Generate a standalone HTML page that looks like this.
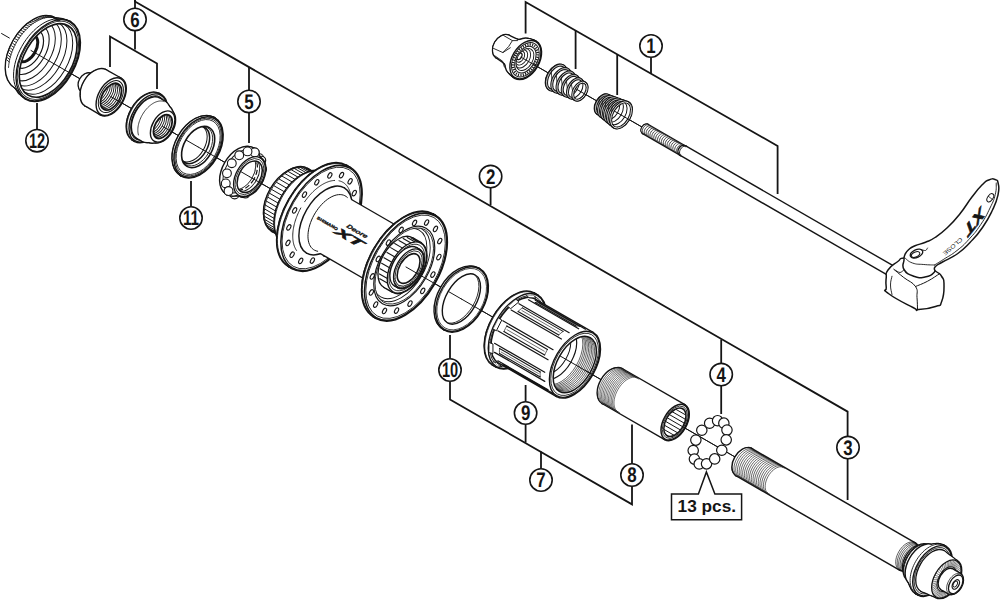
<!DOCTYPE html>
<html><head><meta charset="utf-8"><style>
html,body{margin:0;padding:0;background:#fff;}
svg{display:block;font-family:"Liberation Sans",sans-serif;}
</style></head><body>
<svg width="1000" height="600" viewBox="0 0 1000 600">
<rect width="1000" height="600" fill="#fff"/>
<line x1="1.56" y1="33.50" x2="9.35" y2="38.00" stroke="#151515" stroke-width="1.0" stroke-linecap="round" />
<line x1="31.00" y1="50.50" x2="948.99" y2="580.50" stroke="#151515" stroke-width="1.0" stroke-linecap="round" />
<ellipse cx="33.17" cy="51.75" rx="22.20" ry="37.00" transform="rotate(30.0 33.17 51.75)" fill="#151515" stroke="#151515" stroke-width="2.8" />
<path d="M14.67 83.79 L14.59 86.52 L53.99 18.28 L51.67 19.71 Z" stroke="#151515" stroke-width="2.8" fill="#151515" stroke-linejoin="round" stroke-linecap="round" />
<ellipse cx="34.29" cy="52.40" rx="23.64" ry="39.40" transform="rotate(30.0 34.29 52.40)" fill="#151515" stroke="#151515" stroke-width="2.8" />
<path d="M14.59 86.52 L15.76 87.89 L55.76 18.61 L53.99 18.28 Z" stroke="#151515" stroke-width="2.8" fill="#151515" stroke-linejoin="round" stroke-linecap="round" />
<ellipse cx="35.76" cy="53.25" rx="24.00" ry="40.00" transform="rotate(30.0 35.76 53.25)" fill="#151515" stroke="#151515" stroke-width="2.8" />
<path d="M15.76 87.89 L23.16 96.09 L66.56 20.91 L55.76 18.61 Z" stroke="#151515" stroke-width="2.8" fill="#151515" stroke-linejoin="round" stroke-linecap="round" />
<ellipse cx="44.86" cy="58.50" rx="26.04" ry="43.40" transform="rotate(30.0 44.86 58.50)" fill="#151515" stroke="#151515" stroke-width="2.8" />
<path d="M23.16 96.09 L25.79 98.53 L69.99 21.97 L66.56 20.91 Z" stroke="#151515" stroke-width="2.8" fill="#151515" stroke-linejoin="round" stroke-linecap="round" />
<ellipse cx="47.89" cy="60.25" rx="26.52" ry="44.20" transform="rotate(30.0 47.89 60.25)" fill="#151515" stroke="#151515" stroke-width="2.8" />
<ellipse cx="33.17" cy="51.75" rx="22.20" ry="37.00" transform="rotate(30.0 33.17 51.75)" fill="#fff" stroke="none" stroke-width="0" />
<path d="M14.67 83.79 L14.59 86.52 L53.99 18.28 L51.67 19.71 Z" stroke="none" stroke-width="0" fill="#fff" stroke-linejoin="round" stroke-linecap="round" />
<ellipse cx="34.29" cy="52.40" rx="23.64" ry="39.40" transform="rotate(30.0 34.29 52.40)" fill="#fff" stroke="none" stroke-width="0" />
<path d="M14.59 86.52 L15.76 87.89 L55.76 18.61 L53.99 18.28 Z" stroke="none" stroke-width="0" fill="#fff" stroke-linejoin="round" stroke-linecap="round" />
<ellipse cx="35.76" cy="53.25" rx="24.00" ry="40.00" transform="rotate(30.0 35.76 53.25)" fill="#fff" stroke="none" stroke-width="0" />
<path d="M15.76 87.89 L23.16 96.09 L66.56 20.91 L55.76 18.61 Z" stroke="none" stroke-width="0" fill="#fff" stroke-linejoin="round" stroke-linecap="round" />
<ellipse cx="44.86" cy="58.50" rx="26.04" ry="43.40" transform="rotate(30.0 44.86 58.50)" fill="#fff" stroke="none" stroke-width="0" />
<path d="M23.16 96.09 L25.79 98.53 L69.99 21.97 L66.56 20.91 Z" stroke="none" stroke-width="0" fill="#fff" stroke-linejoin="round" stroke-linecap="round" />
<ellipse cx="47.89" cy="60.25" rx="26.52" ry="44.20" transform="rotate(30.0 47.89 60.25)" fill="#fff" stroke="none" stroke-width="0" />
<path d="M72.96 27.63 L71.57 25.45 L69.95 23.55 L68.11 21.94 L66.08 20.65 L63.86 19.68 L61.49 19.05 L58.97 18.75 L56.33 18.79 L53.59 19.17 L50.77 19.89 L47.91 20.93 L45.02 22.30 L42.13 23.98 L39.26 25.95 L36.44 28.21 L33.69 30.72 L31.04 33.46 L28.50 36.43 L26.11 39.58 L23.87 42.89 L21.82 46.34 L19.96 49.89 L18.32 53.51 L16.90 57.18 L15.72 60.85 L14.79 64.51 L14.11 68.12 L13.70 71.64 L13.56 75.05 L13.68 78.32 L14.07 81.42 L14.73 84.33 L15.64 87.01 L16.80 89.45 L18.20 91.63 L19.83 93.52 L21.67 95.11 L23.71 96.39 L25.94 97.35 L28.32 97.97" stroke="#151515" stroke-width="1.0" fill="none" stroke-linejoin="round" stroke-linecap="round" />
<ellipse cx="47.89" cy="60.25" rx="26.52" ry="44.20" transform="rotate(30.0 47.89 60.25)" fill="#fff" stroke="#151515" stroke-width="1.4" />
<line x1="58.16" y1="21.68" x2="61.70" y2="22.60" stroke="#151515" stroke-width="0.9" stroke-linecap="round" />
<line x1="57.06" y1="20.51" x2="60.57" y2="21.40" stroke="#151515" stroke-width="0.9" stroke-linecap="round" />
<line x1="55.85" y1="19.49" x2="59.33" y2="20.35" stroke="#151515" stroke-width="0.9" stroke-linecap="round" />
<line x1="54.55" y1="18.60" x2="58.00" y2="19.44" stroke="#151515" stroke-width="0.9" stroke-linecap="round" />
<line x1="53.16" y1="17.87" x2="56.58" y2="18.69" stroke="#151515" stroke-width="0.9" stroke-linecap="round" />
<line x1="51.70" y1="17.29" x2="55.07" y2="18.10" stroke="#151515" stroke-width="0.9" stroke-linecap="round" />
<line x1="50.15" y1="16.87" x2="53.49" y2="17.66" stroke="#151515" stroke-width="0.9" stroke-linecap="round" />
<line x1="48.54" y1="16.60" x2="51.84" y2="17.39" stroke="#151515" stroke-width="0.9" stroke-linecap="round" />
<line x1="46.87" y1="16.49" x2="50.12" y2="17.28" stroke="#151515" stroke-width="0.9" stroke-linecap="round" />
<line x1="45.14" y1="16.54" x2="48.35" y2="17.33" stroke="#151515" stroke-width="0.9" stroke-linecap="round" />
<line x1="43.37" y1="16.75" x2="46.53" y2="17.54" stroke="#151515" stroke-width="0.9" stroke-linecap="round" />
<line x1="41.56" y1="17.12" x2="44.68" y2="17.92" stroke="#151515" stroke-width="0.9" stroke-linecap="round" />
<line x1="39.72" y1="17.64" x2="42.79" y2="18.45" stroke="#151515" stroke-width="0.9" stroke-linecap="round" />
<line x1="37.85" y1="18.31" x2="40.88" y2="19.14" stroke="#151515" stroke-width="0.9" stroke-linecap="round" />
<line x1="35.97" y1="19.14" x2="38.95" y2="19.99" stroke="#151515" stroke-width="0.9" stroke-linecap="round" />
<line x1="34.09" y1="20.11" x2="37.02" y2="20.99" stroke="#151515" stroke-width="0.9" stroke-linecap="round" />
<line x1="32.21" y1="21.23" x2="35.09" y2="22.13" stroke="#151515" stroke-width="0.9" stroke-linecap="round" />
<line x1="30.34" y1="22.49" x2="33.17" y2="23.42" stroke="#151515" stroke-width="0.9" stroke-linecap="round" />
<line x1="28.49" y1="23.87" x2="31.28" y2="24.84" stroke="#151515" stroke-width="0.9" stroke-linecap="round" />
<line x1="26.66" y1="25.39" x2="29.40" y2="26.39" stroke="#151515" stroke-width="0.9" stroke-linecap="round" />
<line x1="24.87" y1="27.02" x2="27.57" y2="28.07" stroke="#151515" stroke-width="0.9" stroke-linecap="round" />
<line x1="23.13" y1="28.76" x2="25.78" y2="29.86" stroke="#151515" stroke-width="0.9" stroke-linecap="round" />
<line x1="21.43" y1="30.61" x2="24.04" y2="31.76" stroke="#151515" stroke-width="0.9" stroke-linecap="round" />
<line x1="19.79" y1="32.56" x2="22.36" y2="33.75" stroke="#151515" stroke-width="0.9" stroke-linecap="round" />
<line x1="18.22" y1="34.60" x2="20.75" y2="35.84" stroke="#151515" stroke-width="0.9" stroke-linecap="round" />
<line x1="16.72" y1="36.71" x2="19.21" y2="38.01" stroke="#151515" stroke-width="0.9" stroke-linecap="round" />
<line x1="15.30" y1="38.89" x2="17.75" y2="40.25" stroke="#151515" stroke-width="0.9" stroke-linecap="round" />
<line x1="13.96" y1="41.14" x2="16.38" y2="42.55" stroke="#151515" stroke-width="0.9" stroke-linecap="round" />
<line x1="12.71" y1="43.43" x2="15.10" y2="44.90" stroke="#151515" stroke-width="0.9" stroke-linecap="round" />
<line x1="11.56" y1="45.77" x2="13.92" y2="47.29" stroke="#151515" stroke-width="0.9" stroke-linecap="round" />
<line x1="10.52" y1="48.13" x2="12.85" y2="49.72" stroke="#151515" stroke-width="0.9" stroke-linecap="round" />
<line x1="9.57" y1="50.52" x2="11.88" y2="52.16" stroke="#151515" stroke-width="0.9" stroke-linecap="round" />
<line x1="8.74" y1="52.91" x2="11.03" y2="54.62" stroke="#151515" stroke-width="0.9" stroke-linecap="round" />
<line x1="8.02" y1="55.30" x2="10.29" y2="57.07" stroke="#151515" stroke-width="0.9" stroke-linecap="round" />
<line x1="7.42" y1="57.68" x2="9.68" y2="59.51" stroke="#151515" stroke-width="0.9" stroke-linecap="round" />
<line x1="6.94" y1="60.04" x2="9.18" y2="61.93" stroke="#151515" stroke-width="0.9" stroke-linecap="round" />
<path d="M62.53 23.64 L61.53 22.39 L60.43 21.27 L59.24 20.28 L57.96 19.42 L56.61 18.70 L55.17 18.13 L53.67 17.70 L52.10 17.42 L50.48 17.29 L48.80 17.30 L47.08 17.46 L45.32 17.77 L43.53 18.22 L41.71 18.82 L39.88 19.57 L38.04 20.45 L36.20 21.46 L34.36 22.61 L32.53 23.88 L30.73 25.28 L28.95 26.79 L27.21 28.41 L25.51 30.14 L23.86 31.96 L22.26 33.87 L20.73 35.87 L19.26 37.93 L17.86 40.07 L16.55 42.26 L15.31 44.49 L14.17 46.77 L13.12 49.08 L12.17 51.41 L11.32 53.75 L10.57 56.09 L9.94 58.42 L9.41 60.74 L9.00 63.03 L8.70 65.29 L8.52 67.51" stroke="#151515" stroke-width="0.8" fill="none" stroke-linejoin="round" stroke-linecap="round" />
<ellipse cx="47.89" cy="60.25" rx="25.56" ry="42.60" transform="rotate(30.0 47.89 60.25)" fill="#fff" stroke="#151515" stroke-width="0.9" />
<ellipse cx="48.15" cy="60.40" rx="24.06" ry="40.10" transform="rotate(30.0 48.15 60.40)" fill="#fff" stroke="#151515" stroke-width="1.7" />
<clipPath id="c1625_1"><ellipse cx="48.15" cy="60.40" rx="24.06" ry="40.10" transform="rotate(30.0 48.15 60.40)"/></clipPath>
<g clip-path="url(#c1625_1)">
<ellipse cx="44.42" cy="58.25" rx="23.52" ry="39.20" transform="rotate(30.0 44.42 58.25)" fill="none" stroke="#151515" stroke-width="1.0" />
<ellipse cx="39.66" cy="55.50" rx="22.68" ry="37.80" transform="rotate(30.0 39.66 55.50)" fill="none" stroke="#151515" stroke-width="1.0" />
<ellipse cx="35.33" cy="53.00" rx="21.60" ry="36.00" transform="rotate(30.0 35.33 53.00)" fill="none" stroke="#151515" stroke-width="1.0" />
<ellipse cx="31.87" cy="51.00" rx="19.50" ry="32.50" transform="rotate(30.0 31.87 51.00)" fill="none" stroke="#151515" stroke-width="1.0" />
<ellipse cx="29.70" cy="49.75" rx="16.20" ry="27.00" transform="rotate(30.0 29.70 49.75)" fill="none" stroke="#151515" stroke-width="1.1" />
<ellipse cx="28.40" cy="49.00" rx="12.60" ry="21.00" transform="rotate(30.0 28.40 49.00)" fill="none" stroke="#151515" stroke-width="1.2" />
<ellipse cx="27.10" cy="48.25" rx="8.88" ry="14.80" transform="rotate(30.0 27.10 48.25)" fill="none" stroke="#151515" stroke-width="3.0" />
</g>
<line x1="31.00" y1="50.50" x2="82.96" y2="80.50" stroke="#151515" stroke-width="1.0" stroke-linecap="round" />
<ellipse cx="84.69" cy="81.50" rx="4.98" ry="8.30" transform="rotate(30.0 84.69 81.50)" fill="#151515" stroke="#151515" stroke-width="2.6" />
<path d="M80.54 88.69 L81.19 90.56 L90.79 73.94 L88.84 74.31 Z" stroke="#151515" stroke-width="2.6" fill="#151515" stroke-linejoin="round" stroke-linecap="round" />
<ellipse cx="85.99" cy="82.25" rx="5.76" ry="9.60" transform="rotate(30.0 85.99 82.25)" fill="#151515" stroke="#151515" stroke-width="2.6" />
<path d="M81.19 90.56 L89.42 95.31 L99.02 78.69 L90.79 73.94 Z" stroke="#151515" stroke-width="2.6" fill="#151515" stroke-linejoin="round" stroke-linecap="round" />
<ellipse cx="94.22" cy="87.00" rx="5.76" ry="9.60" transform="rotate(30.0 94.22 87.00)" fill="#151515" stroke="#151515" stroke-width="2.6" />
<ellipse cx="84.69" cy="81.50" rx="4.98" ry="8.30" transform="rotate(30.0 84.69 81.50)" fill="#fff" stroke="none" stroke-width="0" />
<path d="M80.54 88.69 L81.19 90.56 L90.79 73.94 L88.84 74.31 Z" stroke="none" stroke-width="0" fill="#fff" stroke-linejoin="round" stroke-linecap="round" />
<ellipse cx="85.99" cy="82.25" rx="5.76" ry="9.60" transform="rotate(30.0 85.99 82.25)" fill="#fff" stroke="none" stroke-width="0" />
<path d="M81.19 90.56 L89.42 95.31 L99.02 78.69 L90.79 73.94 Z" stroke="none" stroke-width="0" fill="#fff" stroke-linejoin="round" stroke-linecap="round" />
<ellipse cx="94.22" cy="87.00" rx="5.76" ry="9.60" transform="rotate(30.0 94.22 87.00)" fill="#fff" stroke="none" stroke-width="0" />
<ellipse cx="94.22" cy="87.00" rx="5.76" ry="9.60" transform="rotate(30.0 94.22 87.00)" fill="#fff" stroke="#151515" stroke-width="1.3" />
<ellipse cx="93.79" cy="86.75" rx="10.68" ry="17.80" transform="rotate(30.0 93.79 86.75)" fill="#151515" stroke="#151515" stroke-width="2.8" />
<path d="M84.89 102.17 L85.37 105.33 L105.67 70.17 L102.69 71.33 Z" stroke="#151515" stroke-width="2.8" fill="#151515" stroke-linejoin="round" stroke-linecap="round" />
<ellipse cx="95.52" cy="87.75" rx="12.18" ry="20.30" transform="rotate(30.0 95.52 87.75)" fill="#151515" stroke="#151515" stroke-width="2.8" />
<path d="M85.37 105.33 L100.60 114.35 L121.10 78.85 L105.67 70.17 Z" stroke="#151515" stroke-width="2.8" fill="#151515" stroke-linejoin="round" stroke-linecap="round" />
<ellipse cx="110.85" cy="96.60" rx="12.30" ry="20.50" transform="rotate(30.0 110.85 96.60)" fill="#151515" stroke="#151515" stroke-width="2.8" />
<ellipse cx="93.79" cy="86.75" rx="10.68" ry="17.80" transform="rotate(30.0 93.79 86.75)" fill="#fff" stroke="none" stroke-width="0" />
<path d="M84.89 102.17 L85.37 105.33 L105.67 70.17 L102.69 71.33 Z" stroke="none" stroke-width="0" fill="#fff" stroke-linejoin="round" stroke-linecap="round" />
<ellipse cx="95.52" cy="87.75" rx="12.18" ry="20.30" transform="rotate(30.0 95.52 87.75)" fill="#fff" stroke="none" stroke-width="0" />
<path d="M85.37 105.33 L100.60 114.35 L121.10 78.85 L105.67 70.17 Z" stroke="none" stroke-width="0" fill="#fff" stroke-linejoin="round" stroke-linecap="round" />
<ellipse cx="110.85" cy="96.60" rx="12.30" ry="20.50" transform="rotate(30.0 110.85 96.60)" fill="#fff" stroke="none" stroke-width="0" />
<ellipse cx="110.85" cy="96.60" rx="12.30" ry="20.50" transform="rotate(30.0 110.85 96.60)" fill="#fff" stroke="#151515" stroke-width="1.4" />
<ellipse cx="110.85" cy="96.60" rx="10.44" ry="17.40" transform="rotate(30.0 110.85 96.60)" fill="#fff" stroke="#151515" stroke-width="1.0" />
<ellipse cx="111.02" cy="96.70" rx="8.76" ry="14.60" transform="rotate(30.0 111.02 96.70)" fill="#fff" stroke="#151515" stroke-width="1.8" />
<clipPath id="c1625_2"><ellipse cx="111.02" cy="96.70" rx="8.76" ry="14.60" transform="rotate(30.0 111.02 96.70)"/></clipPath>
<g clip-path="url(#c1625_2)">
<ellipse cx="109.20" cy="95.65" rx="8.58" ry="14.31" transform="rotate(30.0 109.20 95.65)" fill="none" stroke="#151515" stroke-width="0.9" />
<ellipse cx="107.38" cy="94.60" rx="8.58" ry="14.31" transform="rotate(30.0 107.38 94.60)" fill="none" stroke="#151515" stroke-width="0.9" />
<ellipse cx="105.56" cy="93.55" rx="8.58" ry="14.31" transform="rotate(30.0 105.56 93.55)" fill="none" stroke="#151515" stroke-width="0.9" />
<ellipse cx="103.75" cy="92.50" rx="8.58" ry="14.31" transform="rotate(30.0 103.75 92.50)" fill="none" stroke="#151515" stroke-width="0.9" />
<ellipse cx="101.93" cy="91.45" rx="8.58" ry="14.31" transform="rotate(30.0 101.93 91.45)" fill="none" stroke="#151515" stroke-width="0.9" />
<ellipse cx="100.11" cy="90.40" rx="8.58" ry="14.31" transform="rotate(30.0 100.11 90.40)" fill="none" stroke="#151515" stroke-width="0.9" />
<ellipse cx="98.29" cy="89.35" rx="8.58" ry="14.31" transform="rotate(30.0 98.29 89.35)" fill="none" stroke="#151515" stroke-width="0.9" />
</g>
<line x1="110.67" y1="96.50" x2="133.19" y2="109.50" stroke="#151515" stroke-width="1.0" stroke-linecap="round" />
<ellipse cx="144.88" cy="116.25" rx="14.70" ry="24.50" transform="rotate(30.0 144.88 116.25)" fill="#151515" stroke="#151515" stroke-width="2.8" />
<path d="M132.63 137.47 L132.65 139.44 L158.85 94.06 L157.13 95.03 Z" stroke="#151515" stroke-width="2.8" fill="#151515" stroke-linejoin="round" stroke-linecap="round" />
<ellipse cx="145.75" cy="116.75" rx="15.72" ry="26.20" transform="rotate(30.0 145.75 116.75)" fill="#151515" stroke="#151515" stroke-width="2.8" />
<path d="M132.65 139.44 L134.81 140.69 L161.01 95.31 L158.85 94.06 Z" stroke="#151515" stroke-width="2.8" fill="#151515" stroke-linejoin="round" stroke-linecap="round" />
<ellipse cx="147.91" cy="118.00" rx="15.72" ry="26.20" transform="rotate(30.0 147.91 118.00)" fill="#151515" stroke="#151515" stroke-width="2.8" />
<ellipse cx="144.88" cy="116.25" rx="14.70" ry="24.50" transform="rotate(30.0 144.88 116.25)" fill="#fff" stroke="none" stroke-width="0" />
<path d="M132.63 137.47 L132.65 139.44 L158.85 94.06 L157.13 95.03 Z" stroke="none" stroke-width="0" fill="#fff" stroke-linejoin="round" stroke-linecap="round" />
<ellipse cx="145.75" cy="116.75" rx="15.72" ry="26.20" transform="rotate(30.0 145.75 116.75)" fill="#fff" stroke="none" stroke-width="0" />
<path d="M132.65 139.44 L134.81 140.69 L161.01 95.31 L158.85 94.06 Z" stroke="none" stroke-width="0" fill="#fff" stroke-linejoin="round" stroke-linecap="round" />
<ellipse cx="147.91" cy="118.00" rx="15.72" ry="26.20" transform="rotate(30.0 147.91 118.00)" fill="#fff" stroke="none" stroke-width="0" />
<path d="M161.01 95.77 L159.99 94.83 L158.85 94.06 L157.61 93.46 L156.29 93.04 L154.88 92.80 L153.40 92.74 L151.87 92.86 L150.29 93.17 L148.67 93.66 L147.03 94.32 L145.38 95.15 L143.74 96.14 L142.11 97.30 L140.51 98.60 L138.95 100.04 L137.44 101.60 L135.99 103.29 L134.62 105.07 L133.33 106.94 L132.13 108.89 L131.04 110.90 L130.07 112.95 L129.21 115.03 L128.48 117.12 L127.87 119.22 L127.41 121.29 L127.08 123.33 L126.90 125.31 L126.86 127.24 L126.96 129.08 L127.21 130.83 L127.60 132.47 L128.12 133.99 L128.78 135.38 L129.57 136.63 L130.48 137.73 L131.51 138.67 L132.65 139.44 L133.88 140.04 L135.21 140.46" stroke="#151515" stroke-width="0.9" fill="none" stroke-linejoin="round" stroke-linecap="round" />
<ellipse cx="147.91" cy="118.00" rx="15.72" ry="26.20" transform="rotate(30.0 147.91 118.00)" fill="#fff" stroke="#151515" stroke-width="1.4" />
<ellipse cx="148.09" cy="118.10" rx="14.52" ry="24.20" transform="rotate(30.0 148.09 118.10)" fill="#fff" stroke="#151515" stroke-width="1.0" />
<ellipse cx="148.35" cy="118.25" rx="13.56" ry="22.60" transform="rotate(30.0 148.35 118.25)" fill="#151515" stroke="#151515" stroke-width="2.8" />
<path d="M137.05 137.82 L142.78 140.90 L165.18 102.10 L159.65 98.68 Z" stroke="#151515" stroke-width="2.8" fill="#151515" stroke-linejoin="round" stroke-linecap="round" />
<ellipse cx="153.98" cy="121.50" rx="13.44" ry="22.40" transform="rotate(30.0 153.98 121.50)" fill="#151515" stroke="#151515" stroke-width="2.8" />
<path d="M142.78 140.90 L148.21 141.49 L168.41 106.51 L165.18 102.10 Z" stroke="#151515" stroke-width="2.8" fill="#151515" stroke-linejoin="round" stroke-linecap="round" />
<ellipse cx="158.31" cy="124.00" rx="12.12" ry="20.20" transform="rotate(30.0 158.31 124.00)" fill="#151515" stroke="#151515" stroke-width="2.8" />
<path d="M148.21 141.49 L152.34 141.34 L170.34 110.16 L168.41 106.51 Z" stroke="#151515" stroke-width="2.8" fill="#151515" stroke-linejoin="round" stroke-linecap="round" />
<ellipse cx="161.34" cy="125.75" rx="10.80" ry="18.00" transform="rotate(30.0 161.34 125.75)" fill="#151515" stroke="#151515" stroke-width="2.8" />
<path d="M152.34 141.34 L154.14 141.22 L171.14 111.78 L170.34 110.16 Z" stroke="#151515" stroke-width="2.8" fill="#151515" stroke-linejoin="round" stroke-linecap="round" />
<ellipse cx="162.64" cy="126.50" rx="10.20" ry="17.00" transform="rotate(30.0 162.64 126.50)" fill="#151515" stroke="#151515" stroke-width="2.8" />
<ellipse cx="148.35" cy="118.25" rx="13.56" ry="22.60" transform="rotate(30.0 148.35 118.25)" fill="#fff" stroke="none" stroke-width="0" />
<path d="M137.05 137.82 L142.78 140.90 L165.18 102.10 L159.65 98.68 Z" stroke="none" stroke-width="0" fill="#fff" stroke-linejoin="round" stroke-linecap="round" />
<ellipse cx="153.98" cy="121.50" rx="13.44" ry="22.40" transform="rotate(30.0 153.98 121.50)" fill="#fff" stroke="none" stroke-width="0" />
<path d="M142.78 140.90 L148.21 141.49 L168.41 106.51 L165.18 102.10 Z" stroke="none" stroke-width="0" fill="#fff" stroke-linejoin="round" stroke-linecap="round" />
<ellipse cx="158.31" cy="124.00" rx="12.12" ry="20.20" transform="rotate(30.0 158.31 124.00)" fill="#fff" stroke="none" stroke-width="0" />
<path d="M148.21 141.49 L152.34 141.34 L170.34 110.16 L168.41 106.51 Z" stroke="none" stroke-width="0" fill="#fff" stroke-linejoin="round" stroke-linecap="round" />
<ellipse cx="161.34" cy="125.75" rx="10.80" ry="18.00" transform="rotate(30.0 161.34 125.75)" fill="#fff" stroke="none" stroke-width="0" />
<path d="M152.34 141.34 L154.14 141.22 L171.14 111.78 L170.34 110.16 Z" stroke="none" stroke-width="0" fill="#fff" stroke-linejoin="round" stroke-linecap="round" />
<ellipse cx="162.64" cy="126.50" rx="10.20" ry="17.00" transform="rotate(30.0 162.64 126.50)" fill="#fff" stroke="none" stroke-width="0" />
<path d="M164.12 101.59 L163.30 101.31 L162.45 101.12 L161.56 101.00 L160.65 100.97 L159.70 101.02 L158.74 101.15 L157.75 101.37 L156.75 101.66 L155.74 102.03 L154.72 102.48 L153.70 103.01 L152.68 103.61 L151.66 104.29 L150.66 105.03 L149.67 105.84 L148.69 106.71 L147.74 107.64 L146.81 108.62 L145.90 109.66 L145.04 110.74 L144.20 111.87 L143.41 113.03 L142.66 114.23 L141.95 115.46 L141.29 116.71 L140.69 117.99 L140.13 119.27 L139.63 120.57 L139.19 121.86 L138.81 123.16 L138.49 124.45 L138.23 125.73 L138.03 126.99 L137.90 128.23 L137.83 129.45 L137.83 130.63 L137.89 131.77 L138.02 132.87 L138.20 133.93 L138.46 134.94" stroke="#151515" stroke-width="0.8" fill="none" stroke-linejoin="round" stroke-linecap="round" />
<ellipse cx="162.64" cy="126.50" rx="10.20" ry="17.00" transform="rotate(30.0 162.64 126.50)" fill="#fff" stroke="#151515" stroke-width="1.4" />
<ellipse cx="162.81" cy="126.60" rx="7.80" ry="13.00" transform="rotate(30.0 162.81 126.60)" fill="#fff" stroke="#151515" stroke-width="1.8" />
<clipPath id="c1625_3"><ellipse cx="162.81" cy="126.60" rx="7.80" ry="13.00" transform="rotate(30.0 162.81 126.60)"/></clipPath>
<g clip-path="url(#c1625_3)">
<ellipse cx="160.99" cy="125.55" rx="7.64" ry="12.74" transform="rotate(30.0 160.99 125.55)" fill="none" stroke="#151515" stroke-width="0.9" />
<ellipse cx="159.17" cy="124.50" rx="7.64" ry="12.74" transform="rotate(30.0 159.17 124.50)" fill="none" stroke="#151515" stroke-width="0.9" />
<ellipse cx="157.35" cy="123.45" rx="7.64" ry="12.74" transform="rotate(30.0 157.35 123.45)" fill="none" stroke="#151515" stroke-width="0.9" />
<ellipse cx="155.53" cy="122.40" rx="7.64" ry="12.74" transform="rotate(30.0 155.53 122.40)" fill="none" stroke="#151515" stroke-width="0.9" />
<ellipse cx="153.72" cy="121.35" rx="7.64" ry="12.74" transform="rotate(30.0 153.72 121.35)" fill="none" stroke="#151515" stroke-width="0.9" />
<ellipse cx="151.90" cy="120.30" rx="7.64" ry="12.74" transform="rotate(30.0 151.90 120.30)" fill="none" stroke="#151515" stroke-width="0.9" />
</g>
<line x1="162.64" y1="126.50" x2="191.21" y2="143.00" stroke="#151515" stroke-width="1.0" stroke-linecap="round" />
<ellipse cx="196.41" cy="146.00" rx="20.16" ry="32.00" transform="rotate(30.0 196.41 146.00)" fill="#151515" stroke="#151515" stroke-width="3.0" />
<path d="M180.41 173.71 L180.88 174.91 L213.68 118.09 L212.41 118.29 Z" stroke="#151515" stroke-width="3.0" fill="#151515" stroke-linejoin="round" stroke-linecap="round" />
<ellipse cx="197.28" cy="146.50" rx="20.66" ry="32.80" transform="rotate(30.0 197.28 146.50)" fill="#151515" stroke="#151515" stroke-width="3.0" />
<path d="M180.88 174.91 L181.74 175.41 L214.54 118.59 L213.68 118.09 Z" stroke="#151515" stroke-width="3.0" fill="#151515" stroke-linejoin="round" stroke-linecap="round" />
<ellipse cx="198.14" cy="147.00" rx="20.66" ry="32.80" transform="rotate(30.0 198.14 147.00)" fill="#151515" stroke="#151515" stroke-width="3.0" />
<ellipse cx="196.41" cy="146.00" rx="20.16" ry="32.00" transform="rotate(30.0 196.41 146.00)" fill="#fff" stroke="none" stroke-width="0" />
<path d="M180.41 173.71 L180.88 174.91 L213.68 118.09 L212.41 118.29 Z" stroke="none" stroke-width="0" fill="#fff" stroke-linejoin="round" stroke-linecap="round" />
<ellipse cx="197.28" cy="146.50" rx="20.66" ry="32.80" transform="rotate(30.0 197.28 146.50)" fill="#fff" stroke="none" stroke-width="0" />
<path d="M180.88 174.91 L181.74 175.41 L214.54 118.59 L213.68 118.09 Z" stroke="none" stroke-width="0" fill="#fff" stroke-linejoin="round" stroke-linecap="round" />
<ellipse cx="198.14" cy="147.00" rx="20.66" ry="32.80" transform="rotate(30.0 198.14 147.00)" fill="#fff" stroke="none" stroke-width="0" />
<ellipse cx="198.14" cy="147.00" rx="20.66" ry="32.80" transform="rotate(30.0 198.14 147.00)" fill="#fff" stroke="#151515" stroke-width="1.5" />
<ellipse cx="198.14" cy="147.00" rx="19.72" ry="31.30" transform="rotate(30.0 198.14 147.00)" fill="#fff" stroke="#151515" stroke-width="0.8" />
<ellipse cx="198.14" cy="147.00" rx="18.77" ry="29.80" transform="rotate(30.0 198.14 147.00)" fill="#fff" stroke="#151515" stroke-width="0.8" />
<ellipse cx="198.14" cy="147.00" rx="14.11" ry="22.40" transform="rotate(30.0 198.14 147.00)" fill="#fff" stroke="#151515" stroke-width="1.6" />
<clipPath id="c1625_4"><ellipse cx="198.14" cy="147.00" rx="14.11" ry="22.40" transform="rotate(30.0 198.14 147.00)"/></clipPath>
<g clip-path="url(#c1625_4)">
<ellipse cx="196.84" cy="146.25" rx="13.48" ry="21.40" transform="rotate(30.0 196.84 146.25)" fill="none" stroke="#151515" stroke-width="0.8" />
<ellipse cx="194.68" cy="145.00" rx="12.73" ry="20.20" transform="rotate(30.0 194.68 145.00)" fill="none" stroke="#151515" stroke-width="1.5" />
<ellipse cx="192.51" cy="143.75" rx="12.47" ry="19.80" transform="rotate(30.0 192.51 143.75)" fill="none" stroke="#151515" stroke-width="1.0" />
<line x1="146.18" y1="117.00" x2="198.14" y2="147.00" stroke="#151515" stroke-width="1.0" stroke-linecap="round" />
</g>
<line x1="198.14" y1="147.00" x2="241.44" y2="172.00" stroke="#151515" stroke-width="1.0" stroke-linecap="round" />
<circle cx="234.62" cy="194.50" r="4.4" fill="#fff" stroke="#151515" stroke-width="1.1"/>
<circle cx="242.62" cy="193.03" r="4.4" fill="#fff" stroke="#151515" stroke-width="1.1"/>
<circle cx="250.71" cy="186.94" r="4.4" fill="#fff" stroke="#151515" stroke-width="1.1"/>
<circle cx="257.03" cy="177.64" r="4.4" fill="#fff" stroke="#151515" stroke-width="1.1"/>
<circle cx="260.14" cy="167.25" r="4.4" fill="#fff" stroke="#151515" stroke-width="1.1"/>
<circle cx="259.32" cy="158.16" r="4.4" fill="#fff" stroke="#151515" stroke-width="1.1"/>
<circle cx="254.77" cy="152.44" r="4.4" fill="#fff" stroke="#151515" stroke-width="1.1"/>
<circle cx="247.52" cy="151.41" r="4.4" fill="#fff" stroke="#151515" stroke-width="1.1"/>
<circle cx="239.23" cy="155.30" r="4.4" fill="#fff" stroke="#151515" stroke-width="1.1"/>
<circle cx="231.81" cy="163.23" r="4.4" fill="#fff" stroke="#151515" stroke-width="1.1"/>
<circle cx="226.95" cy="173.37" r="4.4" fill="#fff" stroke="#151515" stroke-width="1.1"/>
<circle cx="225.77" cy="183.40" r="4.4" fill="#fff" stroke="#151515" stroke-width="1.1"/>
<circle cx="228.54" cy="191.03" r="4.4" fill="#fff" stroke="#151515" stroke-width="1.1"/>
<circle cx="245.49" cy="193.82" r="4.2" fill="#fff" stroke="#151515" stroke-width="1.2"/>
<circle cx="253.24" cy="188.00" r="4.2" fill="#fff" stroke="#151515" stroke-width="1.2"/>
<circle cx="259.30" cy="179.09" r="4.2" fill="#fff" stroke="#151515" stroke-width="1.2"/>
<circle cx="262.27" cy="169.14" r="4.2" fill="#fff" stroke="#151515" stroke-width="1.2"/>
<circle cx="261.49" cy="160.43" r="4.2" fill="#fff" stroke="#151515" stroke-width="1.2"/>
<ellipse cx="239.37" cy="170.80" rx="16.12" ry="26.00" transform="rotate(30.0 239.37 170.80)" fill="#151515" stroke="#151515" stroke-width="2.8" />
<path d="M226.37 193.32 L227.30 194.09 L253.50 148.71 L252.37 148.28 Z" stroke="#151515" stroke-width="2.8" fill="#151515" stroke-linejoin="round" stroke-linecap="round" />
<ellipse cx="240.40" cy="171.40" rx="16.24" ry="26.20" transform="rotate(30.0 240.40 171.40)" fill="#151515" stroke="#151515" stroke-width="2.8" />
<path d="M227.30 194.09 L238.61 195.31 L260.21 157.89 L253.50 148.71 Z" stroke="#151515" stroke-width="2.8" fill="#151515" stroke-linejoin="round" stroke-linecap="round" />
<ellipse cx="249.41" cy="176.60" rx="13.39" ry="21.60" transform="rotate(30.0 249.41 176.60)" fill="#151515" stroke="#151515" stroke-width="2.8" />
<ellipse cx="239.37" cy="170.80" rx="16.12" ry="26.00" transform="rotate(30.0 239.37 170.80)" fill="#fff" stroke="none" stroke-width="0" />
<path d="M226.37 193.32 L227.30 194.09 L253.50 148.71 L252.37 148.28 Z" stroke="none" stroke-width="0" fill="#fff" stroke-linejoin="round" stroke-linecap="round" />
<ellipse cx="240.40" cy="171.40" rx="16.24" ry="26.20" transform="rotate(30.0 240.40 171.40)" fill="#fff" stroke="none" stroke-width="0" />
<path d="M227.30 194.09 L238.61 195.31 L260.21 157.89 L253.50 148.71 Z" stroke="none" stroke-width="0" fill="#fff" stroke-linejoin="round" stroke-linecap="round" />
<ellipse cx="249.41" cy="176.60" rx="13.39" ry="21.60" transform="rotate(30.0 249.41 176.60)" fill="#fff" stroke="none" stroke-width="0" />
<ellipse cx="240.23" cy="171.30" rx="14.57" ry="23.50" transform="rotate(30.0 240.23 171.30)" fill="none" stroke="#151515" stroke-width="0.9" />
<circle cx="254.77" cy="152.44" r="4.4" fill="#fff" stroke="#151515" stroke-width="1.1"/>
<circle cx="247.52" cy="151.41" r="4.4" fill="#fff" stroke="#151515" stroke-width="1.1"/>
<circle cx="239.23" cy="155.30" r="4.4" fill="#fff" stroke="#151515" stroke-width="1.1"/>
<circle cx="231.81" cy="163.23" r="4.4" fill="#fff" stroke="#151515" stroke-width="1.1"/>
<circle cx="226.95" cy="173.37" r="4.4" fill="#fff" stroke="#151515" stroke-width="1.1"/>
<circle cx="225.77" cy="183.40" r="4.4" fill="#fff" stroke="#151515" stroke-width="1.1"/>
<circle cx="228.54" cy="191.03" r="4.4" fill="#fff" stroke="#151515" stroke-width="1.1"/>
<ellipse cx="249.41" cy="176.60" rx="13.39" ry="21.60" transform="rotate(30.0 249.41 176.60)" fill="#fff" stroke="#151515" stroke-width="1.3" />
<ellipse cx="249.41" cy="176.60" rx="12.15" ry="19.60" transform="rotate(30.0 249.41 176.60)" fill="#fff" stroke="#151515" stroke-width="0.8" />
<ellipse cx="249.67" cy="176.75" rx="10.66" ry="17.20" transform="rotate(30.0 249.67 176.75)" fill="#fff" stroke="#151515" stroke-width="1.5" />
<clipPath id="c1625_5"><ellipse cx="249.67" cy="176.75" rx="10.66" ry="17.20" transform="rotate(30.0 249.67 176.75)"/></clipPath>
<g clip-path="url(#c1625_5)">
<ellipse cx="246.81" cy="175.10" rx="10.91" ry="17.60" transform="rotate(30.0 246.81 175.10)" fill="none" stroke="#151515" stroke-width="0.9" />
<ellipse cx="244.22" cy="173.60" rx="11.16" ry="18.00" transform="rotate(30.0 244.22 173.60)" fill="none" stroke="#151515" stroke-width="1.2" stroke-dasharray="5 2.5"/>
<ellipse cx="242.05" cy="172.35" rx="11.53" ry="18.60" transform="rotate(30.0 242.05 172.35)" fill="none" stroke="#151515" stroke-width="0.9" />
<line x1="206.11" y1="151.60" x2="249.41" y2="176.60" stroke="#151515" stroke-width="1.0" stroke-linecap="round" />
</g>
<line x1="249.41" y1="176.60" x2="292.71" y2="201.60" stroke="#151515" stroke-width="1.0" stroke-linecap="round" />
<ellipse cx="288.64" cy="199.25" rx="20.40" ry="34.00" transform="rotate(30.0 288.64 199.25)" fill="#151515" stroke="#151515" stroke-width="2.8" />
<path d="M271.64 228.69 L272.14 230.83 L307.74 169.17 L305.64 169.81 Z" stroke="#151515" stroke-width="2.8" fill="#151515" stroke-linejoin="round" stroke-linecap="round" />
<ellipse cx="289.94" cy="200.00" rx="21.36" ry="35.60" transform="rotate(30.0 289.94 200.00)" fill="#151515" stroke="#151515" stroke-width="2.8" />
<path d="M272.14 230.83 L285.13 238.33 L320.73 176.67 L307.74 169.17 Z" stroke="#151515" stroke-width="2.8" fill="#151515" stroke-linejoin="round" stroke-linecap="round" />
<ellipse cx="302.93" cy="207.50" rx="21.36" ry="35.60" transform="rotate(30.0 302.93 207.50)" fill="#151515" stroke="#151515" stroke-width="2.8" />
<ellipse cx="288.64" cy="199.25" rx="20.40" ry="34.00" transform="rotate(30.0 288.64 199.25)" fill="#fff" stroke="none" stroke-width="0" />
<path d="M271.64 228.69 L272.14 230.83 L307.74 169.17 L305.64 169.81 Z" stroke="none" stroke-width="0" fill="#fff" stroke-linejoin="round" stroke-linecap="round" />
<ellipse cx="289.94" cy="200.00" rx="21.36" ry="35.60" transform="rotate(30.0 289.94 200.00)" fill="#fff" stroke="none" stroke-width="0" />
<path d="M272.14 230.83 L285.13 238.33 L320.73 176.67 L307.74 169.17 Z" stroke="none" stroke-width="0" fill="#fff" stroke-linejoin="round" stroke-linecap="round" />
<ellipse cx="302.93" cy="207.50" rx="21.36" ry="35.60" transform="rotate(30.0 302.93 207.50)" fill="#fff" stroke="none" stroke-width="0" />
<path d="M310.68 171.49 L309.29 170.22 L307.74 169.17 L306.06 168.36 L304.26 167.78 L302.35 167.46 L300.34 167.38 L298.26 167.54 L296.11 167.96 L293.91 168.62 L291.69 169.52 L289.45 170.65 L287.21 172.00 L285.00 173.57 L282.82 175.34 L280.70 177.29 L278.65 179.42 L276.68 181.70 L274.82 184.13 L273.07 186.67 L271.44 189.32 L269.96 192.05 L268.63 194.84 L267.47 197.66 L266.47 200.51 L265.65 203.35 L265.02 206.17 L264.58 208.94 L264.33 211.64 L264.27 214.25 L264.42 216.75 L264.75 219.13 L265.28 221.36 L265.99 223.43 L266.89 225.32 L267.96 227.02 L269.20 228.51 L270.60 229.78 L272.14 230.83 L273.82 231.64 L275.62 232.22" stroke="#151515" stroke-width="0.9" fill="none" stroke-linejoin="round" stroke-linecap="round" />
<line x1="310.40" y1="171.11" x2="322.70" y2="178.21" stroke="#151515" stroke-width="1.0" stroke-linecap="round" />
<line x1="308.32" y1="169.51" x2="320.62" y2="176.61" stroke="#151515" stroke-width="1.0" stroke-linecap="round" />
<line x1="305.97" y1="168.37" x2="318.27" y2="175.47" stroke="#151515" stroke-width="1.0" stroke-linecap="round" />
<line x1="303.38" y1="167.71" x2="315.68" y2="174.81" stroke="#151515" stroke-width="1.0" stroke-linecap="round" />
<line x1="300.60" y1="167.53" x2="312.90" y2="174.63" stroke="#151515" stroke-width="1.0" stroke-linecap="round" />
<line x1="297.66" y1="167.83" x2="309.96" y2="174.93" stroke="#151515" stroke-width="1.0" stroke-linecap="round" />
<line x1="294.61" y1="168.62" x2="306.91" y2="175.72" stroke="#151515" stroke-width="1.0" stroke-linecap="round" />
<line x1="291.50" y1="169.88" x2="303.80" y2="176.98" stroke="#151515" stroke-width="1.0" stroke-linecap="round" />
<line x1="288.37" y1="171.58" x2="300.66" y2="178.68" stroke="#151515" stroke-width="1.0" stroke-linecap="round" />
<line x1="285.26" y1="173.72" x2="297.56" y2="180.82" stroke="#151515" stroke-width="1.0" stroke-linecap="round" />
<line x1="282.22" y1="176.25" x2="294.52" y2="183.35" stroke="#151515" stroke-width="1.0" stroke-linecap="round" />
<line x1="279.31" y1="179.13" x2="291.61" y2="186.23" stroke="#151515" stroke-width="1.0" stroke-linecap="round" />
<line x1="276.56" y1="182.33" x2="288.86" y2="189.43" stroke="#151515" stroke-width="1.0" stroke-linecap="round" />
<line x1="274.01" y1="185.79" x2="286.31" y2="192.89" stroke="#151515" stroke-width="1.0" stroke-linecap="round" />
<line x1="271.70" y1="189.47" x2="284.00" y2="196.57" stroke="#151515" stroke-width="1.0" stroke-linecap="round" />
<line x1="269.67" y1="193.31" x2="281.97" y2="200.41" stroke="#151515" stroke-width="1.0" stroke-linecap="round" />
<line x1="267.95" y1="197.25" x2="280.24" y2="204.35" stroke="#151515" stroke-width="1.0" stroke-linecap="round" />
<line x1="266.55" y1="201.23" x2="278.85" y2="208.33" stroke="#151515" stroke-width="1.0" stroke-linecap="round" />
<line x1="265.51" y1="205.19" x2="277.81" y2="212.29" stroke="#151515" stroke-width="1.0" stroke-linecap="round" />
<line x1="264.84" y1="209.09" x2="277.14" y2="216.19" stroke="#151515" stroke-width="1.0" stroke-linecap="round" />
<line x1="264.54" y1="212.84" x2="276.84" y2="219.94" stroke="#151515" stroke-width="1.0" stroke-linecap="round" />
<line x1="264.63" y1="216.41" x2="276.93" y2="223.51" stroke="#151515" stroke-width="1.0" stroke-linecap="round" />
<line x1="265.10" y1="219.74" x2="277.40" y2="226.84" stroke="#151515" stroke-width="1.0" stroke-linecap="round" />
<line x1="265.94" y1="222.77" x2="278.24" y2="229.87" stroke="#151515" stroke-width="1.0" stroke-linecap="round" />
<line x1="267.15" y1="225.47" x2="279.45" y2="232.57" stroke="#151515" stroke-width="1.0" stroke-linecap="round" />
<line x1="268.70" y1="227.79" x2="280.99" y2="234.89" stroke="#151515" stroke-width="1.0" stroke-linecap="round" />
<line x1="270.57" y1="229.70" x2="282.86" y2="236.80" stroke="#151515" stroke-width="1.0" stroke-linecap="round" />
<line x1="272.73" y1="231.16" x2="285.02" y2="238.26" stroke="#151515" stroke-width="1.0" stroke-linecap="round" />
<ellipse cx="302.50" cy="207.25" rx="23.10" ry="38.50" transform="rotate(30.0 302.50 207.25)" fill="#151515" stroke="#151515" stroke-width="2.6" />
<path d="M283.25 240.59 L283.55 243.07 L324.05 172.93 L321.75 173.91 Z" stroke="#151515" stroke-width="2.6" fill="#151515" stroke-linejoin="round" stroke-linecap="round" />
<ellipse cx="303.80" cy="208.00" rx="24.30" ry="40.50" transform="rotate(30.0 303.80 208.00)" fill="#151515" stroke="#151515" stroke-width="2.6" />
<path d="M283.55 243.07 L295.04 253.17 L338.54 177.83 L324.05 172.93 Z" stroke="#151515" stroke-width="2.6" fill="#151515" stroke-linejoin="round" stroke-linecap="round" />
<ellipse cx="316.79" cy="215.50" rx="26.10" ry="43.50" transform="rotate(30.0 316.79 215.50)" fill="#151515" stroke="#151515" stroke-width="2.6" />
<ellipse cx="302.50" cy="207.25" rx="23.10" ry="38.50" transform="rotate(30.0 302.50 207.25)" fill="#fff" stroke="none" stroke-width="0" />
<path d="M283.25 240.59 L283.55 243.07 L324.05 172.93 L321.75 173.91 Z" stroke="none" stroke-width="0" fill="#fff" stroke-linejoin="round" stroke-linecap="round" />
<ellipse cx="303.80" cy="208.00" rx="24.30" ry="40.50" transform="rotate(30.0 303.80 208.00)" fill="#fff" stroke="none" stroke-width="0" />
<path d="M283.55 243.07 L295.04 253.17 L338.54 177.83 L324.05 172.93 Z" stroke="none" stroke-width="0" fill="#fff" stroke-linejoin="round" stroke-linecap="round" />
<ellipse cx="316.79" cy="215.50" rx="26.10" ry="43.50" transform="rotate(30.0 316.79 215.50)" fill="#fff" stroke="none" stroke-width="0" />
<path d="M327.39 175.57 L325.81 174.12 L324.05 172.93 L322.14 172.00 L320.09 171.35 L317.91 170.98 L315.63 170.89 L313.26 171.08 L310.81 171.55 L308.32 172.30 L305.78 173.32 L303.24 174.61 L300.69 176.15 L298.17 177.93 L295.70 179.94 L293.28 182.17 L290.95 184.59 L288.71 187.19 L286.59 189.94 L284.60 192.84 L282.75 195.85 L281.07 198.95 L279.56 202.13 L278.23 205.34 L277.10 208.58 L276.17 211.81 L275.45 215.01 L274.94 218.16 L274.66 221.24 L274.60 224.21 L274.76 227.06 L275.14 229.76 L275.74 232.30 L276.55 234.65 L277.57 236.80 L278.79 238.73 L280.20 240.43 L281.79 241.88 L283.55 243.07 L285.46 244.00 L287.51 244.65" stroke="#151515" stroke-width="0.9" fill="none" stroke-linejoin="round" stroke-linecap="round" />
<ellipse cx="316.79" cy="215.50" rx="31.64" ry="56.00" transform="rotate(30.0 316.79 215.50)" fill="#151515" stroke="#151515" stroke-width="3.0" />
<path d="M288.79 264.00 L288.85 265.88 L346.45 166.12 L344.79 167.00 Z" stroke="#151515" stroke-width="3.0" fill="#151515" stroke-linejoin="round" stroke-linecap="round" />
<ellipse cx="317.65" cy="216.00" rx="32.54" ry="57.60" transform="rotate(30.0 317.65 216.00)" fill="#151515" stroke="#151515" stroke-width="3.0" />
<path d="M288.85 265.88 L292.32 267.88 L349.92 168.12 L346.45 166.12 Z" stroke="#151515" stroke-width="3.0" fill="#151515" stroke-linejoin="round" stroke-linecap="round" />
<ellipse cx="321.12" cy="218.00" rx="32.54" ry="57.60" transform="rotate(30.0 321.12 218.00)" fill="#151515" stroke="#151515" stroke-width="3.0" />
<ellipse cx="316.79" cy="215.50" rx="31.64" ry="56.00" transform="rotate(30.0 316.79 215.50)" fill="#fff" stroke="none" stroke-width="0" />
<path d="M288.79 264.00 L288.85 265.88 L346.45 166.12 L344.79 167.00 Z" stroke="none" stroke-width="0" fill="#fff" stroke-linejoin="round" stroke-linecap="round" />
<ellipse cx="317.65" cy="216.00" rx="32.54" ry="57.60" transform="rotate(30.0 317.65 216.00)" fill="#fff" stroke="none" stroke-width="0" />
<path d="M288.85 265.88 L292.32 267.88 L349.92 168.12 L346.45 166.12 Z" stroke="none" stroke-width="0" fill="#fff" stroke-linejoin="round" stroke-linecap="round" />
<ellipse cx="321.12" cy="218.00" rx="32.54" ry="57.60" transform="rotate(30.0 321.12 218.00)" fill="#fff" stroke="none" stroke-width="0" />
<path d="M350.91 169.70 L348.80 167.72 L346.45 166.12 L343.89 164.89 L341.12 164.05 L338.18 163.61 L335.08 163.56 L331.85 163.91 L328.50 164.66 L325.08 165.80 L321.60 167.33 L318.09 169.22 L314.58 171.47 L311.09 174.06 L307.65 176.97 L304.28 180.17 L301.02 183.65 L297.88 187.37 L294.90 191.31 L292.09 195.44 L289.47 199.73 L287.07 204.14 L284.90 208.64 L282.98 213.19 L281.32 217.77 L279.94 222.33 L278.85 226.85 L278.05 231.28 L277.55 235.60 L277.36 239.77 L277.48 243.75 L277.90 247.53 L278.62 251.06 L279.64 254.33 L280.95 257.31 L282.54 259.97 L284.40 262.30 L286.51 264.28 L288.85 265.88 L291.42 267.11 L294.19 267.95" stroke="#151515" stroke-width="0.9" fill="none" stroke-linejoin="round" stroke-linecap="round" />
<ellipse cx="321.12" cy="218.00" rx="32.54" ry="57.60" transform="rotate(30.0 321.12 218.00)" fill="#fff" stroke="#151515" stroke-width="1.5" />
<ellipse cx="321.12" cy="218.00" rx="31.53" ry="55.80" transform="rotate(30.0 321.12 218.00)" fill="#fff" stroke="#151515" stroke-width="0.8" />
<ellipse cx="300.71" cy="260.87" rx="1.69" ry="3.00" transform="rotate(30.0 300.71 260.87)" fill="#fff" stroke="#151515" stroke-width="1.1"/>
<ellipse cx="312.40" cy="260.52" rx="1.69" ry="3.00" transform="rotate(30.0 312.40 260.52)" fill="#fff" stroke="#151515" stroke-width="1.1"/>
<ellipse cx="325.41" cy="253.70" rx="1.69" ry="3.00" transform="rotate(30.0 325.41 253.70)" fill="#fff" stroke="#151515" stroke-width="1.1"/>
<ellipse cx="337.78" cy="241.44" rx="1.69" ry="3.00" transform="rotate(30.0 337.78 241.44)" fill="#fff" stroke="#151515" stroke-width="1.1"/>
<ellipse cx="347.61" cy="225.61" rx="1.69" ry="3.00" transform="rotate(30.0 347.61 225.61)" fill="#fff" stroke="#151515" stroke-width="1.1"/>
<ellipse cx="353.40" cy="208.62" rx="1.69" ry="3.00" transform="rotate(30.0 353.40 208.62)" fill="#fff" stroke="#151515" stroke-width="1.1"/>
<ellipse cx="354.28" cy="193.07" rx="1.69" ry="3.00" transform="rotate(30.0 354.28 193.07)" fill="#fff" stroke="#151515" stroke-width="1.1"/>
<ellipse cx="350.11" cy="181.30" rx="1.69" ry="3.00" transform="rotate(30.0 350.11 181.30)" fill="#fff" stroke="#151515" stroke-width="1.1"/>
<ellipse cx="341.53" cy="175.13" rx="1.69" ry="3.00" transform="rotate(30.0 341.53 175.13)" fill="#fff" stroke="#151515" stroke-width="1.1"/>
<ellipse cx="329.84" cy="175.48" rx="1.69" ry="3.00" transform="rotate(30.0 329.84 175.48)" fill="#fff" stroke="#151515" stroke-width="1.1"/>
<ellipse cx="316.82" cy="182.30" rx="1.69" ry="3.00" transform="rotate(30.0 316.82 182.30)" fill="#fff" stroke="#151515" stroke-width="1.1"/>
<ellipse cx="304.46" cy="194.56" rx="1.69" ry="3.00" transform="rotate(30.0 304.46 194.56)" fill="#fff" stroke="#151515" stroke-width="1.1"/>
<ellipse cx="294.63" cy="210.39" rx="1.69" ry="3.00" transform="rotate(30.0 294.63 210.39)" fill="#fff" stroke="#151515" stroke-width="1.1"/>
<ellipse cx="288.84" cy="227.38" rx="1.69" ry="3.00" transform="rotate(30.0 288.84 227.38)" fill="#fff" stroke="#151515" stroke-width="1.1"/>
<ellipse cx="287.96" cy="242.93" rx="1.69" ry="3.00" transform="rotate(30.0 287.96 242.93)" fill="#fff" stroke="#151515" stroke-width="1.1"/>
<ellipse cx="292.12" cy="254.70" rx="1.69" ry="3.00" transform="rotate(30.0 292.12 254.70)" fill="#fff" stroke="#151515" stroke-width="1.1"/>
<path d="M334.63 180.44 L333.91 180.49 L333.18 180.57 L332.45 180.67 L331.71 180.81 L330.96 180.97 L330.20 181.15 L329.44 181.37 L328.67 181.61 L327.90 181.88 L327.12 182.17 L326.34 182.49 L325.56 182.84 L324.77 183.22 L323.98 183.62 L323.19 184.04 L322.40 184.49 L321.61 184.97 L320.82 185.47 L320.03 185.99 L319.24 186.54 L318.46 187.11 L317.67 187.71 L316.89 188.33 L316.11 188.96 L315.34 189.63 L314.57 190.31 L313.81 191.01 L313.05 191.73 L312.30 192.47 L311.56 193.24 L310.83 194.02 L310.10 194.81 L309.38 195.63 L308.67 196.46 L307.97 197.31 L307.28 198.17 L306.61 199.05 L305.94 199.94 L305.28 200.85 L304.64 201.77" stroke="#151515" stroke-width="0.9" fill="none" stroke-linejoin="round" stroke-linecap="round" />
<path d="M300.81 207.96 L300.18 209.13 L299.57 210.31 L298.99 211.50 L298.42 212.70 L297.88 213.90 L297.37 215.10 L296.88 216.31 L296.41 217.53 L295.97 218.74 L295.56 219.95 L295.18 221.16 L294.82 222.37 L294.49 223.57 L294.18 224.77 L293.91 225.97 L293.66 227.15 L293.45 228.33 L293.26 229.50 L293.10 230.65 L292.97 231.79 L292.87 232.92 L292.80 234.04 L292.75 235.14 L292.74 236.22 L292.76 237.28 L292.81 238.33 L292.88 239.35 L292.99 240.36 L293.13 241.34 L293.29 242.30 L293.49 243.23 L293.71 244.14 L293.96 245.03 L294.24 245.88 L294.55 246.71 L294.89 247.51 L295.25 248.28 L295.64 249.02 L296.06 249.73 L296.50 250.41" stroke="#151515" stroke-width="0.9" fill="none" stroke-linejoin="round" stroke-linecap="round" />
<path d="M351.09 204.28 L351.15 203.36 L351.20 202.45 L351.22 201.55 L351.23 200.66 L351.21 199.79 L351.18 198.93 L351.12 198.08 L351.05 197.24 L350.95 196.42 L350.84 195.62 L350.70 194.83 L350.55 194.06 L350.37 193.30 L350.18 192.56 L349.97 191.84 L349.74 191.14 L349.48 190.46 L349.21 189.79 L348.93 189.15 L348.62 188.52 L348.29 187.92 L347.95 187.33 L347.59 186.77 L347.21 186.23 L346.82 185.71 L346.40 185.22 L345.97 184.75 L345.53 184.30 L345.07 183.87 L344.59 183.47 L344.09 183.09 L343.59 182.73 L343.06 182.40 L342.52 182.10 L341.97 181.82 L341.41 181.56 L340.83 181.34 L340.24 181.13 L339.63 180.95 L339.02 180.80" stroke="#151515" stroke-width="0.9" fill="none" stroke-linejoin="round" stroke-linecap="round" />
<ellipse cx="325.45" cy="220.50" rx="20.90" ry="37.00" transform="rotate(30.0 325.45 220.50)" fill="#151515" stroke="#151515" stroke-width="2.8" />
<path d="M306.95 252.54 L310.43 250.51 L343.93 192.49 L343.95 188.46 Z" stroke="#151515" stroke-width="2.8" fill="#151515" stroke-linejoin="round" stroke-linecap="round" />
<ellipse cx="327.18" cy="221.50" rx="18.93" ry="33.50" transform="rotate(30.0 327.18 221.50)" fill="#151515" stroke="#151515" stroke-width="2.8" />
<path d="M310.43 250.51 L314.18 250.02 L345.38 195.98 L343.93 192.49 Z" stroke="#151515" stroke-width="2.8" fill="#151515" stroke-linejoin="round" stroke-linecap="round" />
<ellipse cx="329.78" cy="223.00" rx="17.63" ry="31.20" transform="rotate(30.0 329.78 223.00)" fill="#151515" stroke="#151515" stroke-width="2.8" />
<path d="M314.18 250.02 L317.13 250.91 L347.63 198.09 L345.38 195.98 Z" stroke="#151515" stroke-width="2.8" fill="#151515" stroke-linejoin="round" stroke-linecap="round" />
<ellipse cx="332.38" cy="224.50" rx="17.23" ry="30.50" transform="rotate(30.0 332.38 224.50)" fill="#151515" stroke="#151515" stroke-width="2.8" />
<path d="M317.13 250.91 L384.68 289.91 L415.18 237.09 L347.63 198.09 Z" stroke="#151515" stroke-width="2.8" fill="#151515" stroke-linejoin="round" stroke-linecap="round" />
<ellipse cx="399.93" cy="263.50" rx="17.23" ry="30.50" transform="rotate(30.0 399.93 263.50)" fill="#151515" stroke="#151515" stroke-width="2.8" />
<ellipse cx="325.45" cy="220.50" rx="20.90" ry="37.00" transform="rotate(30.0 325.45 220.50)" fill="#fff" stroke="none" stroke-width="0" />
<path d="M306.95 252.54 L310.43 250.51 L343.93 192.49 L343.95 188.46 Z" stroke="none" stroke-width="0" fill="#fff" stroke-linejoin="round" stroke-linecap="round" />
<ellipse cx="327.18" cy="221.50" rx="18.93" ry="33.50" transform="rotate(30.0 327.18 221.50)" fill="#fff" stroke="none" stroke-width="0" />
<path d="M310.43 250.51 L314.18 250.02 L345.38 195.98 L343.93 192.49 Z" stroke="none" stroke-width="0" fill="#fff" stroke-linejoin="round" stroke-linecap="round" />
<ellipse cx="329.78" cy="223.00" rx="17.63" ry="31.20" transform="rotate(30.0 329.78 223.00)" fill="#fff" stroke="none" stroke-width="0" />
<path d="M314.18 250.02 L317.13 250.91 L347.63 198.09 L345.38 195.98 Z" stroke="none" stroke-width="0" fill="#fff" stroke-linejoin="round" stroke-linecap="round" />
<ellipse cx="332.38" cy="224.50" rx="17.23" ry="30.50" transform="rotate(30.0 332.38 224.50)" fill="#fff" stroke="none" stroke-width="0" />
<path d="M317.13 250.91 L384.68 289.91 L415.18 237.09 L347.63 198.09 Z" stroke="none" stroke-width="0" fill="#fff" stroke-linejoin="round" stroke-linecap="round" />
<ellipse cx="399.93" cy="263.50" rx="17.23" ry="30.50" transform="rotate(30.0 399.93 263.50)" fill="#fff" stroke="none" stroke-width="0" />
<path d="M347.35 197.47 L346.16 196.48 L344.84 195.69 L343.40 195.11 L341.86 194.74 L340.23 194.58 L338.52 194.65 L336.75 194.92 L334.92 195.42 L333.05 196.12 L331.16 197.02 L329.25 198.13 L327.35 199.42 L325.47 200.89 L323.62 202.53 L321.82 204.33 L320.08 206.27 L318.41 208.33 L316.83 210.51 L315.35 212.78 L313.98 215.13 L312.73 217.54 L311.60 220.00 L310.62 222.47 L309.78 224.95 L309.09 227.41 L308.57 229.84 L308.20 232.22 L308.00 234.53 L307.96 236.75 L308.09 238.87 L308.38 240.86 L308.84 242.72 L309.45 244.43 L310.22 245.97 L311.14 247.34 L312.21 248.53 L313.40 249.52 L314.72 250.31 L316.16 250.89 L317.69 251.26" stroke="#151515" stroke-width="1.0" fill="none" stroke-linejoin="round" stroke-linecap="round" />
<text transform="matrix(0.8660 0.5000 -0.4500 0.7794 316.59 218.85)" font-size="4.6" font-weight="bold" font-style="normal" textLength="23.5" lengthAdjust="spacingAndGlyphs" fill="#151515" stroke="#151515" stroke-width="0.35">SHIMANO</text>
<text transform="matrix(0.8660 0.5000 -0.5549 0.6611 345.89 227.10)" font-size="7.0" font-weight="bold" font-style="italic" textLength="23.0" lengthAdjust="spacingAndGlyphs" fill="#151515" stroke="#151515" stroke-width="0.35">Deore</text>
<text transform="matrix(0.8660 0.5000 -0.5915 0.5245 333.46 232.63)" font-size="14.5" font-weight="bold" font-style="italic" textLength="30" lengthAdjust="spacingAndGlyphs" fill="#151515" stroke="#151515" stroke-width="0.7">XT</text>
<ellipse cx="402.52" cy="265.00" rx="32.32" ry="57.20" transform="rotate(30.0 402.52 265.00)" fill="#151515" stroke="#151515" stroke-width="3.0" />
<path d="M373.92 314.54 L374.04 316.34 L432.74 214.66 L431.12 215.46 Z" stroke="#151515" stroke-width="3.0" fill="#151515" stroke-linejoin="round" stroke-linecap="round" />
<ellipse cx="403.39" cy="265.50" rx="33.17" ry="58.70" transform="rotate(30.0 403.39 265.50)" fill="#151515" stroke="#151515" stroke-width="3.0" />
<path d="M374.04 316.34 L376.21 317.59 L434.91 215.91 L432.74 214.66 Z" stroke="#151515" stroke-width="3.0" fill="#151515" stroke-linejoin="round" stroke-linecap="round" />
<ellipse cx="405.56" cy="266.75" rx="33.17" ry="58.70" transform="rotate(30.0 405.56 266.75)" fill="#151515" stroke="#151515" stroke-width="3.0" />
<ellipse cx="402.52" cy="265.00" rx="32.32" ry="57.20" transform="rotate(30.0 402.52 265.00)" fill="#fff" stroke="none" stroke-width="0" />
<path d="M373.92 314.54 L374.04 316.34 L432.74 214.66 L431.12 215.46 Z" stroke="none" stroke-width="0" fill="#fff" stroke-linejoin="round" stroke-linecap="round" />
<ellipse cx="403.39" cy="265.50" rx="33.17" ry="58.70" transform="rotate(30.0 403.39 265.50)" fill="#fff" stroke="none" stroke-width="0" />
<path d="M374.04 316.34 L376.21 317.59 L434.91 215.91 L432.74 214.66 Z" stroke="none" stroke-width="0" fill="#fff" stroke-linejoin="round" stroke-linecap="round" />
<ellipse cx="405.56" cy="266.75" rx="33.17" ry="58.70" transform="rotate(30.0 405.56 266.75)" fill="#fff" stroke="none" stroke-width="0" />
<path d="M437.28 218.32 L435.13 216.30 L432.74 214.66 L430.13 213.41 L427.31 212.56 L424.31 212.10 L421.15 212.06 L417.85 212.42 L414.45 213.18 L410.96 214.35 L407.41 215.90 L403.83 217.83 L400.25 220.12 L396.70 222.76 L393.19 225.72 L389.76 228.99 L386.44 232.53 L383.24 236.33 L380.20 240.34 L377.34 244.55 L374.67 248.92 L372.22 253.41 L370.01 258.00 L368.05 262.64 L366.36 267.30 L364.96 271.96 L363.84 276.56 L363.03 281.07 L362.52 285.47 L362.33 289.72 L362.45 293.78 L362.87 297.63 L363.61 301.23 L364.65 304.56 L365.99 307.60 L367.61 310.31 L369.50 312.68 L371.65 314.70 L374.04 316.34 L376.66 317.59 L379.47 318.44" stroke="#151515" stroke-width="0.9" fill="none" stroke-linejoin="round" stroke-linecap="round" />
<ellipse cx="405.56" cy="266.75" rx="33.17" ry="58.70" transform="rotate(30.0 405.56 266.75)" fill="#fff" stroke="#151515" stroke-width="1.5" />
<ellipse cx="405.56" cy="266.75" rx="32.09" ry="56.80" transform="rotate(30.0 405.56 266.75)" fill="#fff" stroke="#151515" stroke-width="0.8" />
<ellipse cx="384.50" cy="310.97" rx="1.69" ry="3.00" transform="rotate(30.0 384.50 310.97)" fill="#fff" stroke="#151515" stroke-width="1.1"/>
<ellipse cx="396.56" cy="310.61" rx="1.69" ry="3.00" transform="rotate(30.0 396.56 310.61)" fill="#fff" stroke="#151515" stroke-width="1.1"/>
<ellipse cx="409.99" cy="303.57" rx="1.69" ry="3.00" transform="rotate(30.0 409.99 303.57)" fill="#fff" stroke="#151515" stroke-width="1.1"/>
<ellipse cx="422.74" cy="290.92" rx="1.69" ry="3.00" transform="rotate(30.0 422.74 290.92)" fill="#fff" stroke="#151515" stroke-width="1.1"/>
<ellipse cx="432.87" cy="274.60" rx="1.69" ry="3.00" transform="rotate(30.0 432.87 274.60)" fill="#fff" stroke="#151515" stroke-width="1.1"/>
<ellipse cx="438.85" cy="257.08" rx="1.69" ry="3.00" transform="rotate(30.0 438.85 257.08)" fill="#fff" stroke="#151515" stroke-width="1.1"/>
<ellipse cx="439.76" cy="241.03" rx="1.69" ry="3.00" transform="rotate(30.0 439.76 241.03)" fill="#fff" stroke="#151515" stroke-width="1.1"/>
<ellipse cx="435.46" cy="228.90" rx="1.69" ry="3.00" transform="rotate(30.0 435.46 228.90)" fill="#fff" stroke="#151515" stroke-width="1.1"/>
<ellipse cx="426.61" cy="222.53" rx="1.69" ry="3.00" transform="rotate(30.0 426.61 222.53)" fill="#fff" stroke="#151515" stroke-width="1.1"/>
<ellipse cx="414.55" cy="222.89" rx="1.69" ry="3.00" transform="rotate(30.0 414.55 222.89)" fill="#fff" stroke="#151515" stroke-width="1.1"/>
<ellipse cx="401.13" cy="229.93" rx="1.69" ry="3.00" transform="rotate(30.0 401.13 229.93)" fill="#fff" stroke="#151515" stroke-width="1.1"/>
<ellipse cx="388.37" cy="242.58" rx="1.69" ry="3.00" transform="rotate(30.0 388.37 242.58)" fill="#fff" stroke="#151515" stroke-width="1.1"/>
<ellipse cx="378.24" cy="258.90" rx="1.69" ry="3.00" transform="rotate(30.0 378.24 258.90)" fill="#fff" stroke="#151515" stroke-width="1.1"/>
<ellipse cx="372.26" cy="276.42" rx="1.69" ry="3.00" transform="rotate(30.0 372.26 276.42)" fill="#fff" stroke="#151515" stroke-width="1.1"/>
<ellipse cx="371.35" cy="292.47" rx="1.69" ry="3.00" transform="rotate(30.0 371.35 292.47)" fill="#fff" stroke="#151515" stroke-width="1.1"/>
<ellipse cx="375.65" cy="304.60" rx="1.69" ry="3.00" transform="rotate(30.0 375.65 304.60)" fill="#fff" stroke="#151515" stroke-width="1.1"/>
<ellipse cx="404.26" cy="266.00" rx="24.63" ry="43.60" transform="rotate(30.0 404.26 266.00)" fill="#fff" stroke="#151515" stroke-width="1.2" />
<ellipse cx="404.26" cy="266.00" rx="23.62" ry="41.80" transform="rotate(30.0 404.26 266.00)" fill="#fff" stroke="#151515" stroke-width="0.8" />
<clipPath id="c1625_6"><ellipse cx="404.26" cy="266.00" rx="23.62" ry="41.80" transform="rotate(30.0 404.26 266.00)"/></clipPath>
<g clip-path="url(#c1625_6)">
<ellipse cx="401.66" cy="264.50" rx="23.05" ry="40.80" transform="rotate(30.0 401.66 264.50)" fill="none" stroke="#151515" stroke-width="0.9" />
<ellipse cx="399.93" cy="263.50" rx="21.75" ry="38.50" transform="rotate(30.0 399.93 263.50)" fill="none" stroke="#151515" stroke-width="0.9" />
</g>
<ellipse cx="398.19" cy="262.50" rx="15.82" ry="28.00" transform="rotate(30.0 398.19 262.50)" fill="#151515" stroke="#151515" stroke-width="2.6" />
<path d="M384.19 286.75 L392.86 291.75 L420.86 243.25 L412.19 238.25 Z" stroke="#151515" stroke-width="2.6" fill="#151515" stroke-linejoin="round" stroke-linecap="round" />
<ellipse cx="406.86" cy="267.50" rx="15.82" ry="28.00" transform="rotate(30.0 406.86 267.50)" fill="#151515" stroke="#151515" stroke-width="2.6" />
<ellipse cx="398.19" cy="262.50" rx="15.82" ry="28.00" transform="rotate(30.0 398.19 262.50)" fill="#fff" stroke="none" stroke-width="0" />
<path d="M384.19 286.75 L392.86 291.75 L420.86 243.25 L412.19 238.25 Z" stroke="none" stroke-width="0" fill="#fff" stroke-linejoin="round" stroke-linecap="round" />
<ellipse cx="406.86" cy="267.50" rx="15.82" ry="28.00" transform="rotate(30.0 406.86 267.50)" fill="#fff" stroke="none" stroke-width="0" />
<line x1="413.98" y1="239.36" x2="421.43" y2="243.66" stroke="#151515" stroke-width="1.1" stroke-linecap="round" />
<line x1="410.88" y1="237.85" x2="418.33" y2="242.15" stroke="#151515" stroke-width="1.1" stroke-linecap="round" />
<line x1="407.22" y1="237.53" x2="414.67" y2="241.83" stroke="#151515" stroke-width="1.1" stroke-linecap="round" />
<line x1="403.17" y1="238.41" x2="410.62" y2="242.71" stroke="#151515" stroke-width="1.1" stroke-linecap="round" />
<line x1="398.93" y1="240.47" x2="406.38" y2="244.77" stroke="#151515" stroke-width="1.1" stroke-linecap="round" />
<line x1="394.69" y1="243.59" x2="402.14" y2="247.89" stroke="#151515" stroke-width="1.1" stroke-linecap="round" />
<line x1="390.66" y1="247.63" x2="398.11" y2="251.93" stroke="#151515" stroke-width="1.1" stroke-linecap="round" />
<line x1="387.03" y1="252.40" x2="394.48" y2="256.70" stroke="#151515" stroke-width="1.1" stroke-linecap="round" />
<line x1="383.97" y1="257.67" x2="391.42" y2="261.97" stroke="#151515" stroke-width="1.1" stroke-linecap="round" />
<line x1="381.63" y1="263.19" x2="389.07" y2="267.49" stroke="#151515" stroke-width="1.1" stroke-linecap="round" />
<line x1="380.11" y1="268.71" x2="387.55" y2="273.01" stroke="#151515" stroke-width="1.1" stroke-linecap="round" />
<line x1="379.49" y1="273.95" x2="386.93" y2="278.25" stroke="#151515" stroke-width="1.1" stroke-linecap="round" />
<line x1="379.79" y1="278.68" x2="387.24" y2="282.98" stroke="#151515" stroke-width="1.1" stroke-linecap="round" />
<ellipse cx="406.86" cy="267.50" rx="15.82" ry="28.00" transform="rotate(30.0 406.86 267.50)" fill="#fff" stroke="#151515" stroke-width="1.4" />
<ellipse cx="406.86" cy="267.50" rx="14.46" ry="25.60" transform="rotate(30.0 406.86 267.50)" fill="#fff" stroke="#151515" stroke-width="0.8" />
<ellipse cx="405.56" cy="266.75" rx="12.15" ry="21.50" transform="rotate(30.0 405.56 266.75)" fill="#151515" stroke="#151515" stroke-width="2.6" />
<path d="M394.81 285.37 L397.84 287.12 L419.34 249.88 L416.31 248.13 Z" stroke="#151515" stroke-width="2.6" fill="#151515" stroke-linejoin="round" stroke-linecap="round" />
<ellipse cx="408.59" cy="268.50" rx="12.15" ry="21.50" transform="rotate(30.0 408.59 268.50)" fill="#151515" stroke="#151515" stroke-width="2.6" />
<ellipse cx="405.56" cy="266.75" rx="12.15" ry="21.50" transform="rotate(30.0 405.56 266.75)" fill="#fff" stroke="none" stroke-width="0" />
<path d="M394.81 285.37 L397.84 287.12 L419.34 249.88 L416.31 248.13 Z" stroke="none" stroke-width="0" fill="#fff" stroke-linejoin="round" stroke-linecap="round" />
<ellipse cx="408.59" cy="268.50" rx="12.15" ry="21.50" transform="rotate(30.0 408.59 268.50)" fill="#fff" stroke="none" stroke-width="0" />
<ellipse cx="408.59" cy="268.50" rx="12.15" ry="21.50" transform="rotate(30.0 408.59 268.50)" fill="#fff" stroke="#151515" stroke-width="1.3" />
<line x1="393.59" y1="278.86" x2="395.02" y2="278.98" stroke="#151515" stroke-width="0.8" stroke-linecap="round" />
<line x1="393.95" y1="281.33" x2="395.50" y2="281.11" stroke="#151515" stroke-width="0.8" stroke-linecap="round" />
<line x1="394.68" y1="283.49" x2="396.30" y2="282.93" stroke="#151515" stroke-width="0.8" stroke-linecap="round" />
<line x1="395.75" y1="285.28" x2="397.41" y2="284.40" stroke="#151515" stroke-width="0.8" stroke-linecap="round" />
<line x1="397.13" y1="286.65" x2="398.79" y2="285.47" stroke="#151515" stroke-width="0.8" stroke-linecap="round" />
<line x1="398.79" y1="287.58" x2="400.41" y2="286.13" stroke="#151515" stroke-width="0.8" stroke-linecap="round" />
<line x1="400.70" y1="288.04" x2="402.23" y2="286.35" stroke="#151515" stroke-width="0.8" stroke-linecap="round" />
<line x1="402.80" y1="288.01" x2="404.21" y2="286.14" stroke="#151515" stroke-width="0.8" stroke-linecap="round" />
<line x1="405.05" y1="287.51" x2="406.30" y2="285.49" stroke="#151515" stroke-width="0.8" stroke-linecap="round" />
<line x1="407.38" y1="286.54" x2="408.44" y2="284.42" stroke="#151515" stroke-width="0.8" stroke-linecap="round" />
<line x1="409.74" y1="285.12" x2="410.59" y2="282.96" stroke="#151515" stroke-width="0.8" stroke-linecap="round" />
<line x1="412.07" y1="283.30" x2="412.68" y2="281.14" stroke="#151515" stroke-width="0.8" stroke-linecap="round" />
<ellipse cx="408.59" cy="268.50" rx="10.96" ry="19.40" transform="rotate(30.0 408.59 268.50)" fill="#fff" stroke="#151515" stroke-width="0.8" />
<ellipse cx="408.59" cy="268.50" rx="9.21" ry="16.30" transform="rotate(30.0 408.59 268.50)" fill="#fff" stroke="#151515" stroke-width="1.6" />
<line x1="405.99" y1="267.00" x2="464.01" y2="300.50" stroke="#151515" stroke-width="1.0" stroke-linecap="round" />
<ellipse cx="460.38" cy="298.40" rx="22.02" ry="34.40" transform="rotate(30.0 460.38 298.40)" fill="#151515" stroke="#151515" stroke-width="2.8" />
<path d="M443.18 328.19 L444.22 329.37 L479.12 268.93 L477.58 268.61 Z" stroke="#151515" stroke-width="2.8" fill="#151515" stroke-linejoin="round" stroke-linecap="round" />
<ellipse cx="461.67" cy="299.15" rx="22.34" ry="34.90" transform="rotate(30.0 461.67 299.15)" fill="#151515" stroke="#151515" stroke-width="2.8" />
<ellipse cx="460.38" cy="298.40" rx="22.02" ry="34.40" transform="rotate(30.0 460.38 298.40)" fill="#fff" stroke="none" stroke-width="0" />
<path d="M443.18 328.19 L444.22 329.37 L479.12 268.93 L477.58 268.61 Z" stroke="none" stroke-width="0" fill="#fff" stroke-linejoin="round" stroke-linecap="round" />
<ellipse cx="461.67" cy="299.15" rx="22.34" ry="34.90" transform="rotate(30.0 461.67 299.15)" fill="#fff" stroke="none" stroke-width="0" />
<ellipse cx="461.67" cy="299.15" rx="22.34" ry="34.90" transform="rotate(30.0 461.67 299.15)" fill="#fff" stroke="#151515" stroke-width="1.4" />
<ellipse cx="461.67" cy="299.15" rx="21.31" ry="33.30" transform="rotate(30.0 461.67 299.15)" fill="#fff" stroke="#151515" stroke-width="0.7" />
<ellipse cx="461.41" cy="299.00" rx="15.24" ry="27.70" transform="rotate(30.0 461.41 299.00)" fill="#fff" stroke="#151515" stroke-width="1.4" />
<clipPath id="c1625_7"><ellipse cx="461.41" cy="299.00" rx="15.24" ry="27.70" transform="rotate(30.0 461.41 299.00)"/></clipPath>
<g clip-path="url(#c1625_7)">
<ellipse cx="459.77" cy="298.05" rx="15.24" ry="27.70" transform="rotate(30.0 459.77 298.05)" fill="none" stroke="#151515" stroke-width="0.8" />
<line x1="409.71" y1="269.15" x2="461.67" y2="299.15" stroke="#151515" stroke-width="1.0" stroke-linecap="round" />
</g>
<line x1="461.67" y1="299.15" x2="522.30" y2="334.15" stroke="#151515" stroke-width="1.0" stroke-linecap="round" />
<ellipse cx="512.51" cy="328.50" rx="22.06" ry="39.40" transform="rotate(30.0 512.51 328.50)" fill="#151515" stroke="#151515" stroke-width="2.8" />
<path d="M492.81 362.62 L492.88 364.51 L533.88 293.49 L532.21 294.38 Z" stroke="#151515" stroke-width="2.8" fill="#151515" stroke-linejoin="round" stroke-linecap="round" />
<ellipse cx="513.38" cy="329.00" rx="22.96" ry="41.00" transform="rotate(30.0 513.38 329.00)" fill="#151515" stroke="#151515" stroke-width="2.8" />
<path d="M492.88 364.51 L496.34 366.51 L537.34 295.49 L533.88 293.49 Z" stroke="#151515" stroke-width="2.8" fill="#151515" stroke-linejoin="round" stroke-linecap="round" />
<ellipse cx="516.84" cy="331.00" rx="22.96" ry="41.00" transform="rotate(30.0 516.84 331.00)" fill="#151515" stroke="#151515" stroke-width="2.8" />
<ellipse cx="512.51" cy="328.50" rx="22.06" ry="39.40" transform="rotate(30.0 512.51 328.50)" fill="#fff" stroke="none" stroke-width="0" />
<path d="M492.81 362.62 L492.88 364.51 L533.88 293.49 L532.21 294.38 Z" stroke="none" stroke-width="0" fill="#fff" stroke-linejoin="round" stroke-linecap="round" />
<ellipse cx="513.38" cy="329.00" rx="22.96" ry="41.00" transform="rotate(30.0 513.38 329.00)" fill="#fff" stroke="none" stroke-width="0" />
<path d="M492.88 364.51 L496.34 366.51 L537.34 295.49 L533.88 293.49 Z" stroke="none" stroke-width="0" fill="#fff" stroke-linejoin="round" stroke-linecap="round" />
<ellipse cx="516.84" cy="331.00" rx="22.96" ry="41.00" transform="rotate(30.0 516.84 331.00)" fill="#fff" stroke="none" stroke-width="0" />
<path d="M537.02 296.03 L535.53 294.63 L533.88 293.49 L532.07 292.63 L530.11 292.04 L528.03 291.73 L525.84 291.71 L523.55 291.97 L521.19 292.51 L518.76 293.33 L516.30 294.42 L513.81 295.78 L511.32 297.38 L508.85 299.23 L506.41 301.30 L504.02 303.59 L501.70 306.07 L499.48 308.72 L497.35 311.53 L495.35 314.47 L493.49 317.52 L491.78 320.66 L490.23 323.86 L488.86 327.10 L487.68 330.36 L486.69 333.60 L485.91 336.81 L485.33 339.96 L484.97 343.03 L484.82 345.99 L484.89 348.82 L485.18 351.50 L485.68 354.01 L486.39 356.33 L487.31 358.44 L488.43 360.33 L489.73 361.97 L491.22 363.37 L492.88 364.51 L494.69 365.37 L496.64 365.96" stroke="#151515" stroke-width="0.8" fill="none" stroke-linejoin="round" stroke-linecap="round" />
<ellipse cx="516.84" cy="331.00" rx="22.96" ry="41.00" transform="rotate(30.0 516.84 331.00)" fill="#fff" stroke="#151515" stroke-width="1.4" />
<ellipse cx="516.84" cy="331.00" rx="21.78" ry="38.90" transform="rotate(30.0 516.84 331.00)" fill="#fff" stroke="#151515" stroke-width="0.8" />
<ellipse cx="516.84" cy="331.00" rx="20.27" ry="36.20" transform="rotate(30.0 516.84 331.00)" fill="#151515" stroke="#151515" stroke-width="2.8" />
<path d="M498.74 362.35 L556.50 395.70 L592.70 333.00 L534.94 299.65 Z" stroke="#151515" stroke-width="2.8" fill="#151515" stroke-linejoin="round" stroke-linecap="round" />
<ellipse cx="574.60" cy="364.35" rx="20.27" ry="36.20" transform="rotate(30.0 574.60 364.35)" fill="#151515" stroke="#151515" stroke-width="2.8" />
<ellipse cx="516.84" cy="331.00" rx="20.27" ry="36.20" transform="rotate(30.0 516.84 331.00)" fill="#fff" stroke="none" stroke-width="0" />
<path d="M498.74 362.35 L556.50 395.70 L592.70 333.00 L534.94 299.65 Z" stroke="none" stroke-width="0" fill="#fff" stroke-linejoin="round" stroke-linecap="round" />
<ellipse cx="574.60" cy="364.35" rx="20.27" ry="36.20" transform="rotate(30.0 574.60 364.35)" fill="#fff" stroke="none" stroke-width="0" />
<line x1="535.26" y1="300.15" x2="585.49" y2="329.15" stroke="#151515" stroke-width="1.2" stroke-linecap="round" />
<line x1="528.42" y1="299.80" x2="578.65" y2="328.80" stroke="#151515" stroke-width="1.2" stroke-linecap="round" />
<line x1="539.05" y1="302.79" x2="579.76" y2="326.29" stroke="#151515" stroke-width="1.1" stroke-linecap="round" />
<line x1="535.24" y1="302.60" x2="575.94" y2="326.10" stroke="#151515" stroke-width="1.1" stroke-linecap="round" />
<line x1="538.93" y1="303.57" x2="576.17" y2="325.07" stroke="#151515" stroke-width="0.6" stroke-linecap="round" />
<path d="M539.05 302.79 L538.14 302.65 L537.19 302.57 L536.23 302.55 L535.24 302.60" stroke="#151515" stroke-width="0.7" fill="none" stroke-linejoin="round" stroke-linecap="round" />
<path d="M579.76 326.29 L578.84 326.15 L577.90 326.07 L576.93 326.05 L575.94 326.10" stroke="#151515" stroke-width="0.7" fill="none" stroke-linejoin="round" stroke-linecap="round" />
<path d="M534.11 295.70 L536.27 298.09 L528.99 297.73 L526.64 295.32" stroke="#151515" stroke-width="1.0" fill="#fff" stroke-linejoin="round" stroke-linecap="round" />
<line x1="518.94" y1="303.71" x2="569.17" y2="332.71" stroke="#151515" stroke-width="1.2" stroke-linecap="round" />
<line x1="511.18" y1="310.06" x2="561.41" y2="339.06" stroke="#151515" stroke-width="1.2" stroke-linecap="round" />
<line x1="522.38" y1="307.89" x2="563.08" y2="331.39" stroke="#151515" stroke-width="1.1" stroke-linecap="round" />
<line x1="518.05" y1="311.44" x2="558.76" y2="334.94" stroke="#151515" stroke-width="1.1" stroke-linecap="round" />
<line x1="521.93" y1="310.57" x2="559.17" y2="332.07" stroke="#151515" stroke-width="0.6" stroke-linecap="round" />
<path d="M522.38 307.89 L521.29 308.70 L520.20 309.57 L519.12 310.48 L518.05 311.44" stroke="#151515" stroke-width="0.7" fill="none" stroke-linejoin="round" stroke-linecap="round" />
<path d="M563.08 331.39 L561.99 332.20 L560.90 333.07 L559.83 333.98 L558.76 334.94" stroke="#151515" stroke-width="0.7" fill="none" stroke-linejoin="round" stroke-linecap="round" />
<path d="M516.30 299.58 L518.91 301.88 L510.65 308.64 L507.83 306.52" stroke="#151515" stroke-width="1.0" fill="#fff" stroke-linejoin="round" stroke-linecap="round" />
<line x1="502.85" y1="320.74" x2="553.08" y2="349.74" stroke="#151515" stroke-width="1.2" stroke-linecap="round" />
<line x1="497.80" y1="330.82" x2="548.03" y2="359.82" stroke="#151515" stroke-width="1.2" stroke-linecap="round" />
<line x1="506.77" y1="325.91" x2="547.47" y2="349.41" stroke="#151515" stroke-width="1.1" stroke-linecap="round" />
<line x1="503.95" y1="331.53" x2="544.65" y2="355.03" stroke="#151515" stroke-width="1.1" stroke-linecap="round" />
<line x1="507.01" y1="329.70" x2="544.25" y2="351.20" stroke="#151515" stroke-width="0.6" stroke-linecap="round" />
<path d="M506.77 325.91 L506.01 327.30 L505.28 328.70 L504.60 330.11 L503.95 331.53" stroke="#151515" stroke-width="0.7" fill="none" stroke-linejoin="round" stroke-linecap="round" />
<path d="M547.47 349.41 L546.71 350.80 L545.99 352.20 L545.30 353.61 L544.65 355.03" stroke="#151515" stroke-width="0.7" fill="none" stroke-linejoin="round" stroke-linecap="round" />
<path d="M498.74 318.16 L501.80 319.99 L496.42 330.72 L493.22 329.17" stroke="#151515" stroke-width="1.0" fill="#fff" stroke-linejoin="round" stroke-linecap="round" />
<line x1="494.52" y1="343.27" x2="544.75" y2="372.27" stroke="#151515" stroke-width="1.2" stroke-linecap="round" />
<line x1="494.54" y1="352.37" x2="544.77" y2="381.37" stroke="#151515" stroke-width="1.2" stroke-linecap="round" />
<line x1="499.51" y1="348.42" x2="540.21" y2="371.92" stroke="#151515" stroke-width="1.1" stroke-linecap="round" />
<line x1="499.52" y1="353.48" x2="540.22" y2="376.98" stroke="#151515" stroke-width="1.1" stroke-linecap="round" />
<line x1="501.15" y1="352.01" x2="538.39" y2="373.51" stroke="#151515" stroke-width="0.6" stroke-linecap="round" />
<path d="M499.51 348.42 L499.44 349.73 L499.42 351.01 L499.45 352.26 L499.52 353.48" stroke="#151515" stroke-width="0.7" fill="none" stroke-linejoin="round" stroke-linecap="round" />
<path d="M540.21 371.92 L540.14 373.23 L540.12 374.51 L540.15 375.76 L540.22 376.98" stroke="#151515" stroke-width="0.7" fill="none" stroke-linejoin="round" stroke-linecap="round" />
<path d="M489.66 342.75 L492.94 343.96 L492.96 353.63 L489.67 352.68" stroke="#151515" stroke-width="1.0" fill="#fff" stroke-linejoin="round" stroke-linecap="round" />
<line x1="497.85" y1="360.77" x2="548.08" y2="389.77" stroke="#151515" stroke-width="1.2" stroke-linecap="round" />
<line x1="502.94" y1="364.61" x2="553.17" y2="393.61" stroke="#151515" stroke-width="1.2" stroke-linecap="round" />
<line x1="504.01" y1="364.88" x2="544.71" y2="388.38" stroke="#151515" stroke-width="1.1" stroke-linecap="round" />
<line x1="506.84" y1="367.02" x2="547.55" y2="390.52" stroke="#151515" stroke-width="1.1" stroke-linecap="round" />
<line x1="507.09" y1="367.07" x2="544.33" y2="388.57" stroke="#151515" stroke-width="0.6" stroke-linecap="round" />
<path d="M504.01 364.88 L504.66 365.50 L505.35 366.07 L506.08 366.57 L506.84 367.02" stroke="#151515" stroke-width="0.7" fill="none" stroke-linejoin="round" stroke-linecap="round" />
<path d="M544.71 388.38 L545.37 389.00 L546.06 389.57 L546.78 390.07 L547.55 390.52" stroke="#151515" stroke-width="0.7" fill="none" stroke-linejoin="round" stroke-linecap="round" />
<path d="M493.29 361.84 L496.48 362.56 L501.89 366.65 L498.84 366.04" stroke="#151515" stroke-width="1.0" fill="#fff" stroke-linejoin="round" stroke-linecap="round" />
<ellipse cx="574.60" cy="364.35" rx="20.27" ry="36.20" transform="rotate(30.0 574.60 364.35)" fill="#fff" stroke="#151515" stroke-width="1.4" />
<ellipse cx="574.60" cy="364.35" rx="19.15" ry="34.20" transform="rotate(30.0 574.60 364.35)" fill="#fff" stroke="#151515" stroke-width="0.8" />
<ellipse cx="574.78" cy="364.45" rx="17.36" ry="31.00" transform="rotate(30.0 574.78 364.45)" fill="#fff" stroke="#151515" stroke-width="1.5" />
<clipPath id="c1625_8"><ellipse cx="574.78" cy="364.45" rx="17.36" ry="31.00" transform="rotate(30.0 574.78 364.45)"/></clipPath>
<g clip-path="url(#c1625_8)">
<ellipse cx="573.31" cy="363.60" rx="17.14" ry="30.60" transform="rotate(30.0 573.31 363.60)" fill="none" stroke="#151515" stroke-width="0.6" />
<ellipse cx="571.83" cy="362.75" rx="17.14" ry="30.60" transform="rotate(30.0 571.83 362.75)" fill="none" stroke="#151515" stroke-width="0.6" />
<ellipse cx="570.36" cy="361.90" rx="17.14" ry="30.60" transform="rotate(30.0 570.36 361.90)" fill="none" stroke="#151515" stroke-width="0.6" />
<ellipse cx="568.89" cy="361.05" rx="17.14" ry="30.60" transform="rotate(30.0 568.89 361.05)" fill="none" stroke="#151515" stroke-width="0.6" />
<ellipse cx="567.42" cy="360.20" rx="17.14" ry="30.60" transform="rotate(30.0 567.42 360.20)" fill="none" stroke="#151515" stroke-width="0.6" />
<ellipse cx="565.94" cy="359.35" rx="17.14" ry="30.60" transform="rotate(30.0 565.94 359.35)" fill="none" stroke="#151515" stroke-width="0.6" />
<ellipse cx="564.47" cy="358.50" rx="17.14" ry="30.60" transform="rotate(30.0 564.47 358.50)" fill="none" stroke="#151515" stroke-width="0.6" />
<ellipse cx="563.00" cy="357.65" rx="17.14" ry="30.60" transform="rotate(30.0 563.00 357.65)" fill="none" stroke="#151515" stroke-width="0.6" />
<ellipse cx="561.53" cy="356.80" rx="17.14" ry="30.60" transform="rotate(30.0 561.53 356.80)" fill="none" stroke="#151515" stroke-width="0.6" />
<ellipse cx="557.54" cy="354.50" rx="15.40" ry="27.50" transform="rotate(30.0 557.54 354.50)" fill="none" stroke="#151515" stroke-width="1.2" />
<ellipse cx="554.08" cy="352.50" rx="13.44" ry="24.00" transform="rotate(30.0 554.08 352.50)" fill="none" stroke="#151515" stroke-width="1.0" />
<ellipse cx="548.88" cy="349.50" rx="10.08" ry="18.00" transform="rotate(30.0 548.88 349.50)" fill="none" stroke="#151515" stroke-width="1.4" />
<line x1="515.97" y1="330.50" x2="637.22" y2="400.50" stroke="#151515" stroke-width="1.0" stroke-linecap="round" />
</g>
<line x1="585.26" y1="370.50" x2="637.22" y2="400.50" stroke="#151515" stroke-width="1.0" stroke-linecap="round" />
<ellipse cx="610.80" cy="385.25" rx="10.61" ry="18.30" transform="rotate(30.0 610.80 385.25)" fill="#151515" stroke="#151515" stroke-width="2.8" />
<path d="M601.65 401.10 L602.35 402.89 L621.85 369.11 L619.95 369.40 Z" stroke="#151515" stroke-width="2.8" fill="#151515" stroke-linejoin="round" stroke-linecap="round" />
<ellipse cx="612.10" cy="386.00" rx="11.31" ry="19.50" transform="rotate(30.0 612.10 386.00)" fill="#151515" stroke="#151515" stroke-width="2.8" />
<path d="M602.35 402.89 L665.05 439.09 L684.55 405.31 L621.85 369.11 Z" stroke="#151515" stroke-width="2.8" fill="#151515" stroke-linejoin="round" stroke-linecap="round" />
<ellipse cx="674.80" cy="422.20" rx="11.31" ry="19.50" transform="rotate(30.0 674.80 422.20)" fill="#151515" stroke="#151515" stroke-width="2.8" />
<ellipse cx="610.80" cy="385.25" rx="10.61" ry="18.30" transform="rotate(30.0 610.80 385.25)" fill="#fff" stroke="none" stroke-width="0" />
<path d="M601.65 401.10 L602.35 402.89 L621.85 369.11 L619.95 369.40 Z" stroke="none" stroke-width="0" fill="#fff" stroke-linejoin="round" stroke-linecap="round" />
<ellipse cx="612.10" cy="386.00" rx="11.31" ry="19.50" transform="rotate(30.0 612.10 386.00)" fill="#fff" stroke="none" stroke-width="0" />
<path d="M602.35 402.89 L665.05 439.09 L684.55 405.31 L621.85 369.11 Z" stroke="none" stroke-width="0" fill="#fff" stroke-linejoin="round" stroke-linecap="round" />
<ellipse cx="674.80" cy="422.20" rx="11.31" ry="19.50" transform="rotate(30.0 674.80 422.20)" fill="#fff" stroke="none" stroke-width="0" />
<path d="M623.55 370.31 L622.26 369.35 L620.76 368.72 L619.10 368.45 L617.31 368.54 L615.42 368.99 L613.47 369.79 L611.50 370.93 L609.55 372.37 L607.67 374.10 L605.88 376.07 L604.23 378.25 L602.74 380.59 L601.46 383.05 L600.39 385.57 L599.58 388.11 L599.03 390.60 L598.75 393.01 L598.75 395.29 L599.03 397.37 L599.59 399.24 L600.41 400.84 L601.47 402.14 L602.76 403.12 L604.24 403.76" stroke="#151515" stroke-width="0.6" fill="none" stroke-linejoin="round" stroke-linecap="round" />
<path d="M624.94 371.11 L623.64 370.15 L622.15 369.52 L620.49 369.25 L618.69 369.34 L616.80 369.79 L614.85 370.59 L612.89 371.73 L610.94 373.17 L609.05 374.90 L607.26 376.87 L605.61 379.05 L604.13 381.39 L602.84 383.85 L601.78 386.37 L600.97 388.91 L600.41 391.40 L600.14 393.81 L600.14 396.09 L600.42 398.17 L600.97 400.04 L601.79 401.64 L602.86 402.94 L604.14 403.92 L605.63 404.56" stroke="#151515" stroke-width="0.6" fill="none" stroke-linejoin="round" stroke-linecap="round" />
<path d="M626.33 371.91 L625.03 370.95 L623.53 370.32 L621.87 370.05 L620.08 370.14 L618.19 370.59 L616.24 371.39 L614.27 372.53 L612.32 373.97 L610.44 375.70 L608.65 377.67 L607.00 379.85 L605.51 382.19 L604.23 384.65 L603.17 387.17 L602.35 389.71 L601.80 392.20 L601.52 394.61 L601.52 396.89 L601.80 398.97 L602.36 400.84 L603.18 402.44 L604.24 403.74 L605.53 404.72 L607.02 405.36" stroke="#151515" stroke-width="0.6" fill="none" stroke-linejoin="round" stroke-linecap="round" />
<path d="M627.71 372.71 L626.41 371.75 L624.92 371.12 L623.26 370.85 L621.47 370.94 L619.57 371.39 L617.63 372.19 L615.66 373.33 L613.71 374.77 L611.82 376.50 L610.04 378.47 L608.38 380.65 L606.90 383.00 L605.61 385.45 L604.55 387.97 L603.74 390.51 L603.18 393.00 L602.91 395.41 L602.91 397.69 L603.19 399.77 L603.74 401.64 L604.56 403.24 L605.63 404.54 L606.91 405.52 L608.40 406.16" stroke="#151515" stroke-width="0.6" fill="none" stroke-linejoin="round" stroke-linecap="round" />
<path d="M629.10 373.51 L627.80 372.55 L626.31 371.92 L624.65 371.65 L622.85 371.74 L620.96 372.19 L619.01 372.99 L617.04 374.13 L615.10 375.57 L613.21 377.30 L611.42 379.27 L609.77 381.45 L608.28 383.80 L607.00 386.25 L605.94 388.77 L605.12 391.31 L604.57 393.80 L604.29 396.21 L604.29 398.49 L604.58 400.57 L605.13 402.44 L605.95 404.04 L607.01 405.34 L608.30 406.32 L609.79 406.96" stroke="#151515" stroke-width="0.6" fill="none" stroke-linejoin="round" stroke-linecap="round" />
<path d="M630.48 374.31 L629.19 373.35 L627.69 372.72 L626.03 372.45 L624.24 372.54 L622.35 372.99 L620.40 373.79 L618.43 374.93 L616.48 376.37 L614.59 378.10 L612.81 380.07 L611.15 382.25 L609.67 384.60 L608.38 387.05 L607.32 389.57 L606.51 392.11 L605.96 394.60 L605.68 397.01 L605.68 399.29 L605.96 401.37 L606.52 403.24 L607.33 404.84 L608.40 406.14 L609.69 407.12 L611.17 407.76" stroke="#151515" stroke-width="0.6" fill="none" stroke-linejoin="round" stroke-linecap="round" />
<path d="M631.87 375.11 L630.57 374.15 L629.08 373.52 L627.42 373.25 L625.62 373.34 L623.73 373.79 L621.78 374.59 L619.81 375.73 L617.87 377.17 L615.98 378.90 L614.19 380.87 L612.54 383.05 L611.06 385.40 L609.77 387.85 L608.71 390.37 L607.89 392.91 L607.34 395.40 L607.06 397.81 L607.07 400.09 L607.35 402.17 L607.90 404.04 L608.72 405.64 L609.78 406.94 L611.07 407.92 L612.56 408.56" stroke="#151515" stroke-width="0.6" fill="none" stroke-linejoin="round" stroke-linecap="round" />
<path d="M633.25 375.91 L631.96 374.95 L630.46 374.32 L628.80 374.05 L627.01 374.14 L625.12 374.59 L623.17 375.39 L621.20 376.53 L619.25 377.97 L617.37 379.70 L615.58 381.67 L613.93 383.85 L612.44 386.20 L611.16 388.65 L610.09 391.17 L609.28 393.71 L608.73 396.20 L608.45 398.61 L608.45 400.89 L608.73 402.97 L609.29 404.84 L610.11 406.44 L611.17 407.74 L612.46 408.72 L613.94 409.36" stroke="#151515" stroke-width="0.6" fill="none" stroke-linejoin="round" stroke-linecap="round" />
<path d="M634.64 376.71 L633.34 375.75 L631.85 375.12 L630.19 374.85 L628.39 374.94 L626.50 375.39 L624.55 376.19 L622.59 377.33 L620.64 378.77 L618.75 380.50 L616.96 382.47 L615.31 384.65 L613.83 387.00 L612.54 389.45 L611.48 391.97 L610.67 394.51 L610.11 397.00 L609.84 399.41 L609.84 401.69 L610.12 403.77 L610.67 405.64 L611.49 407.24 L612.55 408.54 L613.84 409.52 L615.33 410.16" stroke="#151515" stroke-width="0.6" fill="none" stroke-linejoin="round" stroke-linecap="round" />
<path d="M636.03 377.51 L634.73 376.55 L633.23 375.92 L631.57 375.65 L629.78 375.74 L627.89 376.19 L625.94 376.99 L623.97 378.13 L622.02 379.57 L620.14 381.30 L618.35 383.27 L616.70 385.45 L615.21 387.80 L613.93 390.25 L612.87 392.77 L612.05 395.31 L611.50 397.80 L611.22 400.21 L611.22 402.49 L611.50 404.57 L612.06 406.44 L612.88 408.04 L613.94 409.34 L615.23 410.32 L616.71 410.96" stroke="#151515" stroke-width="0.6" fill="none" stroke-linejoin="round" stroke-linecap="round" />
<path d="M637.41 378.31 L636.11 377.35 L634.62 376.72 L632.96 376.45 L631.17 376.54 L629.27 376.99 L627.32 377.79 L625.36 378.93 L623.41 380.37 L621.52 382.10 L619.73 384.07 L618.08 386.25 L616.60 388.60 L615.31 391.05 L614.25 393.57 L613.44 396.11 L612.88 398.60 L612.61 401.01 L612.61 403.29 L612.89 405.37 L613.44 407.24 L614.26 408.84 L615.33 410.14 L616.61 411.12 L618.10 411.76" stroke="#151515" stroke-width="0.6" fill="none" stroke-linejoin="round" stroke-linecap="round" />
<path d="M638.80 379.11 L637.50 378.15 L636.01 377.52 L634.34 377.25 L632.55 377.34 L630.66 377.79 L628.71 378.59 L626.74 379.73 L624.80 381.17 L622.91 382.90 L621.12 384.87 L619.47 387.05 L617.98 389.40 L616.70 391.85 L615.64 394.37 L614.82 396.91 L614.27 399.40 L613.99 401.81 L613.99 404.09 L614.27 406.17 L614.83 408.04 L615.65 409.64 L616.71 410.94 L618.00 411.92 L619.49 412.56" stroke="#151515" stroke-width="0.6" fill="none" stroke-linejoin="round" stroke-linecap="round" />
<ellipse cx="674.80" cy="422.20" rx="11.31" ry="19.50" transform="rotate(30.0 674.80 422.20)" fill="#fff" stroke="#151515" stroke-width="1.5" />
<ellipse cx="674.80" cy="422.20" rx="10.27" ry="17.70" transform="rotate(30.0 674.80 422.20)" fill="#fff" stroke="#151515" stroke-width="0.8" />
<ellipse cx="674.89" cy="422.25" rx="9.05" ry="15.60" transform="rotate(30.0 674.89 422.25)" fill="#fff" stroke="#151515" stroke-width="1.5" />
<clipPath id="c1625_9"><ellipse cx="674.89" cy="422.25" rx="9.05" ry="15.60" transform="rotate(30.0 674.89 422.25)"/></clipPath>
<g clip-path="url(#c1625_9)">
<line x1="666.24" y1="390.24" x2="700.88" y2="410.24" stroke="#151515" stroke-width="1.0" stroke-linecap="round" />
<line x1="664.29" y1="393.61" x2="698.93" y2="413.61" stroke="#151515" stroke-width="1.0" stroke-linecap="round" />
<line x1="662.34" y1="396.99" x2="696.98" y2="416.99" stroke="#151515" stroke-width="1.0" stroke-linecap="round" />
<line x1="660.39" y1="400.37" x2="695.03" y2="420.37" stroke="#151515" stroke-width="1.0" stroke-linecap="round" />
<line x1="658.44" y1="403.75" x2="693.08" y2="423.75" stroke="#151515" stroke-width="1.0" stroke-linecap="round" />
<line x1="656.49" y1="407.12" x2="691.13" y2="427.12" stroke="#151515" stroke-width="1.0" stroke-linecap="round" />
<line x1="654.54" y1="410.50" x2="689.18" y2="430.50" stroke="#151515" stroke-width="1.0" stroke-linecap="round" />
<line x1="652.59" y1="413.88" x2="687.23" y2="433.88" stroke="#151515" stroke-width="1.0" stroke-linecap="round" />
<line x1="650.64" y1="417.25" x2="685.28" y2="437.25" stroke="#151515" stroke-width="1.0" stroke-linecap="round" />
<line x1="648.69" y1="420.63" x2="683.33" y2="440.63" stroke="#151515" stroke-width="1.0" stroke-linecap="round" />
<line x1="646.74" y1="424.01" x2="681.38" y2="444.01" stroke="#151515" stroke-width="1.0" stroke-linecap="round" />
<line x1="644.79" y1="427.39" x2="679.43" y2="447.39" stroke="#151515" stroke-width="1.0" stroke-linecap="round" />
<line x1="642.84" y1="430.76" x2="677.48" y2="450.76" stroke="#151515" stroke-width="1.0" stroke-linecap="round" />
</g>
<line x1="682.25" y1="426.50" x2="749.80" y2="465.50" stroke="#151515" stroke-width="1.0" stroke-linecap="round" />
<circle cx="695.86" cy="440.08" r="5.2" fill="#fff" stroke="#151515" stroke-width="1.2"/>
<circle cx="701.80" cy="430.25" r="5.2" fill="#fff" stroke="#151515" stroke-width="1.2"/>
<circle cx="693.20" cy="450.49" r="5.2" fill="#fff" stroke="#151515" stroke-width="1.2"/>
<circle cx="709.64" cy="423.25" r="5.2" fill="#fff" stroke="#151515" stroke-width="1.2"/>
<circle cx="694.42" cy="459.09" r="5.2" fill="#fff" stroke="#151515" stroke-width="1.2"/>
<circle cx="717.60" cy="420.68" r="5.2" fill="#fff" stroke="#151515" stroke-width="1.2"/>
<circle cx="699.23" cy="463.91" r="5.2" fill="#fff" stroke="#151515" stroke-width="1.2"/>
<circle cx="723.85" cy="423.13" r="5.2" fill="#fff" stroke="#151515" stroke-width="1.2"/>
<circle cx="706.55" cy="463.85" r="5.2" fill="#fff" stroke="#151515" stroke-width="1.2"/>
<circle cx="726.96" cy="430.04" r="5.2" fill="#fff" stroke="#151515" stroke-width="1.2"/>
<circle cx="714.69" cy="458.92" r="5.2" fill="#fff" stroke="#151515" stroke-width="1.2"/>
<circle cx="726.21" cy="439.83" r="5.2" fill="#fff" stroke="#151515" stroke-width="1.2"/>
<circle cx="721.78" cy="450.25" r="5.2" fill="#fff" stroke="#151515" stroke-width="1.2"/>
<ellipse cx="742.44" cy="461.25" rx="8.00" ry="13.80" transform="rotate(30.0 742.44 461.25)" fill="#151515" stroke="#151515" stroke-width="3.0" />
<path d="M735.54 473.20 L736.24 474.99 L751.24 449.01 L749.34 449.30 Z" stroke="#151515" stroke-width="3.0" fill="#151515" stroke-linejoin="round" stroke-linecap="round" />
<ellipse cx="743.74" cy="462.00" rx="8.70" ry="15.00" transform="rotate(30.0 743.74 462.00)" fill="#151515" stroke="#151515" stroke-width="3.0" />
<path d="M736.24 474.99 L899.92 569.49 L914.92 543.51 L751.24 449.01 Z" stroke="#151515" stroke-width="3.0" fill="#151515" stroke-linejoin="round" stroke-linecap="round" />
<ellipse cx="907.42" cy="556.50" rx="8.70" ry="15.00" transform="rotate(30.0 907.42 556.50)" fill="#151515" stroke="#151515" stroke-width="3.0" />
<ellipse cx="742.44" cy="461.25" rx="8.00" ry="13.80" transform="rotate(30.0 742.44 461.25)" fill="#fff" stroke="none" stroke-width="0" />
<path d="M735.54 473.20 L736.24 474.99 L751.24 449.01 L749.34 449.30 Z" stroke="none" stroke-width="0" fill="#fff" stroke-linejoin="round" stroke-linecap="round" />
<ellipse cx="743.74" cy="462.00" rx="8.70" ry="15.00" transform="rotate(30.0 743.74 462.00)" fill="#fff" stroke="none" stroke-width="0" />
<path d="M736.24 474.99 L899.92 569.49 L914.92 543.51 L751.24 449.01 Z" stroke="none" stroke-width="0" fill="#fff" stroke-linejoin="round" stroke-linecap="round" />
<ellipse cx="907.42" cy="556.50" rx="8.70" ry="15.00" transform="rotate(30.0 907.42 556.50)" fill="#fff" stroke="none" stroke-width="0" />
<path d="M753.08 450.24 L752.08 449.50 L750.93 449.02 L749.66 448.81 L748.28 448.88 L746.82 449.23 L745.32 449.84 L743.81 450.71 L742.31 451.83 L740.86 453.15 L739.48 454.67 L738.21 456.35 L737.07 458.15 L736.08 460.04 L735.27 461.98 L734.64 463.93 L734.21 465.85 L734.00 467.70 L734.00 469.45 L734.22 471.06 L734.64 472.49 L735.27 473.72 L736.09 474.72 L737.08 475.48 L738.23 475.97" stroke="#151515" stroke-width="0.65" fill="none" stroke-linejoin="round" stroke-linecap="round" />
<path d="M754.81 451.24 L753.82 450.50 L752.67 450.02 L751.39 449.81 L750.01 449.88 L748.55 450.23 L747.05 450.84 L745.54 451.71 L744.04 452.83 L742.59 454.15 L741.22 455.67 L739.94 457.35 L738.80 459.15 L737.81 461.04 L737.00 462.98 L736.37 464.93 L735.95 466.85 L735.73 468.70 L735.73 470.45 L735.95 472.06 L736.38 473.49 L737.01 474.72 L737.82 475.72 L738.82 476.48 L739.96 476.97" stroke="#151515" stroke-width="0.65" fill="none" stroke-linejoin="round" stroke-linecap="round" />
<path d="M756.54 452.24 L755.55 451.50 L754.40 451.02 L753.12 450.81 L751.74 450.88 L750.29 451.23 L748.79 451.84 L747.27 452.71 L745.77 453.83 L744.32 455.15 L742.95 456.67 L741.68 458.35 L740.53 460.15 L739.55 462.04 L738.73 463.98 L738.10 465.93 L737.68 467.85 L737.46 469.70 L737.47 471.45 L737.68 473.06 L738.11 474.49 L738.74 475.72 L739.56 476.72 L740.55 477.48 L741.69 477.97" stroke="#151515" stroke-width="0.65" fill="none" stroke-linejoin="round" stroke-linecap="round" />
<path d="M758.28 453.24 L757.28 452.50 L756.13 452.02 L754.85 451.81 L753.47 451.88 L752.02 452.23 L750.52 452.84 L749.00 453.71 L747.51 454.83 L746.06 456.15 L744.68 457.67 L743.41 459.35 L742.27 461.15 L741.28 463.04 L740.46 464.98 L739.83 466.93 L739.41 468.85 L739.20 470.70 L739.20 472.45 L739.41 474.06 L739.84 475.49 L740.47 476.72 L741.29 477.72 L742.28 478.48 L743.42 478.97" stroke="#151515" stroke-width="0.65" fill="none" stroke-linejoin="round" stroke-linecap="round" />
<path d="M760.01 454.24 L759.01 453.50 L757.86 453.02 L756.58 452.81 L755.20 452.88 L753.75 453.23 L752.25 453.84 L750.74 454.71 L749.24 455.83 L747.79 457.15 L746.41 458.67 L745.14 460.35 L744.00 462.15 L743.01 464.04 L742.19 465.98 L741.57 467.93 L741.14 469.85 L740.93 471.70 L740.93 473.45 L741.15 475.06 L741.57 476.49 L742.20 477.72 L743.02 478.72 L744.01 479.48 L745.15 479.97" stroke="#151515" stroke-width="0.65" fill="none" stroke-linejoin="round" stroke-linecap="round" />
<path d="M761.74 455.24 L760.74 454.50 L759.59 454.02 L758.32 453.81 L756.94 453.88 L755.48 454.23 L753.98 454.84 L752.47 455.71 L750.97 456.83 L749.52 458.15 L748.14 459.67 L746.87 461.35 L745.73 463.15 L744.74 465.04 L743.93 466.98 L743.30 468.93 L742.87 470.85 L742.66 472.70 L742.66 474.45 L742.88 476.06 L743.31 477.49 L743.93 478.72 L744.75 479.72 L745.74 480.48 L746.89 480.97" stroke="#151515" stroke-width="0.65" fill="none" stroke-linejoin="round" stroke-linecap="round" />
<path d="M763.47 456.24 L762.48 455.50 L761.33 455.02 L760.05 454.81 L758.67 454.88 L757.21 455.23 L755.71 455.84 L754.20 456.71 L752.70 457.83 L751.25 459.15 L749.88 460.67 L748.60 462.35 L747.46 464.15 L746.47 466.04 L745.66 467.98 L745.03 469.93 L744.61 471.85 L744.39 473.70 L744.39 475.45 L744.61 477.06 L745.04 478.49 L745.67 479.72 L746.48 480.72 L747.48 481.48 L748.62 481.97" stroke="#151515" stroke-width="0.65" fill="none" stroke-linejoin="round" stroke-linecap="round" />
<path d="M765.20 457.24 L764.21 456.50 L763.06 456.02 L761.78 455.81 L760.40 455.88 L758.95 456.23 L757.45 456.84 L755.93 457.71 L754.43 458.83 L752.98 460.15 L751.61 461.67 L750.34 463.35 L749.19 465.15 L748.21 467.04 L747.39 468.98 L746.76 470.93 L746.34 472.85 L746.12 474.70 L746.13 476.45 L746.34 478.06 L746.77 479.49 L747.40 480.72 L748.22 481.72 L749.21 482.48 L750.35 482.97" stroke="#151515" stroke-width="0.65" fill="none" stroke-linejoin="round" stroke-linecap="round" />
<path d="M766.94 458.24 L765.94 457.50 L764.79 457.02 L763.51 456.81 L762.13 456.88 L760.68 457.23 L759.18 457.84 L757.66 458.71 L756.17 459.83 L754.72 461.15 L753.34 462.67 L752.07 464.35 L750.93 466.15 L749.94 468.04 L749.12 469.98 L748.50 471.93 L748.07 473.85 L747.86 475.70 L747.86 477.45 L748.07 479.06 L748.50 480.49 L749.13 481.72 L749.95 482.72 L750.94 483.48 L752.08 483.97" stroke="#151515" stroke-width="0.65" fill="none" stroke-linejoin="round" stroke-linecap="round" />
<path d="M768.67 459.24 L767.67 458.50 L766.52 458.02 L765.24 457.81 L763.86 457.88 L762.41 458.23 L760.91 458.84 L759.40 459.71 L757.90 460.83 L756.45 462.15 L755.07 463.67 L753.80 465.35 L752.66 467.15 L751.67 469.04 L750.85 470.98 L750.23 472.93 L749.80 474.85 L749.59 476.70 L749.59 478.45 L749.81 480.06 L750.23 481.49 L750.86 482.72 L751.68 483.72 L752.67 484.48 L753.81 484.97" stroke="#151515" stroke-width="0.65" fill="none" stroke-linejoin="round" stroke-linecap="round" />
<path d="M770.40 460.24 L769.40 459.50 L768.25 459.02 L766.98 458.81 L765.60 458.88 L764.14 459.23 L762.64 459.84 L761.13 460.71 L759.63 461.83 L758.18 463.15 L756.80 464.67 L755.53 466.35 L754.39 468.15 L753.40 470.04 L752.59 471.98 L751.96 473.93 L751.53 475.85 L751.32 477.70 L751.32 479.45 L751.54 481.06 L751.97 482.49 L752.59 483.72 L753.41 484.72 L754.40 485.48 L755.55 485.97" stroke="#151515" stroke-width="0.65" fill="none" stroke-linejoin="round" stroke-linecap="round" />
<path d="M772.13 461.24 L771.14 460.50 L769.99 460.02 L768.71 459.81 L767.33 459.88 L765.87 460.23 L764.37 460.84 L762.86 461.71 L761.36 462.83 L759.91 464.15 L758.54 465.67 L757.26 467.35 L756.12 469.15 L755.13 471.04 L754.32 472.98 L753.69 474.93 L753.27 476.85 L753.05 478.70 L753.05 480.45 L753.27 482.06 L753.70 483.49 L754.33 484.72 L755.14 485.72 L756.14 486.48 L757.28 486.97" stroke="#151515" stroke-width="0.65" fill="none" stroke-linejoin="round" stroke-linecap="round" />
<path d="M773.87 462.24 L772.87 461.50 L771.72 461.02 L770.44 460.81 L769.06 460.88 L767.61 461.23 L766.11 461.84 L764.59 462.71 L763.10 463.83 L761.64 465.15 L760.27 466.67 L759.00 468.35 L757.86 470.15 L756.87 472.04 L756.05 473.98 L755.42 475.93 L755.00 477.85 L754.78 479.70 L754.79 481.45 L755.00 483.06 L755.43 484.49 L756.06 485.72 L756.88 486.72 L757.87 487.48 L759.01 487.97" stroke="#151515" stroke-width="0.65" fill="none" stroke-linejoin="round" stroke-linecap="round" />
<path d="M775.60 463.24 L774.60 462.50 L773.45 462.02 L772.17 461.81 L770.79 461.88 L769.34 462.23 L767.84 462.84 L766.32 463.71 L764.83 464.83 L763.38 466.15 L762.00 467.67 L760.73 469.35 L759.59 471.15 L758.60 473.04 L757.78 474.98 L757.16 476.93 L756.73 478.85 L756.52 480.70 L756.52 482.45 L756.73 484.06 L757.16 485.49 L757.79 486.72 L758.61 487.72 L759.60 488.48 L760.74 488.97" stroke="#151515" stroke-width="0.65" fill="none" stroke-linejoin="round" stroke-linecap="round" />
<path d="M777.33 464.24 L776.33 463.50 L775.18 463.02 L773.90 462.81 L772.52 462.88 L771.07 463.23 L769.57 463.84 L768.06 464.71 L766.56 465.83 L765.11 467.15 L763.73 468.67 L762.46 470.35 L761.32 472.15 L760.33 474.04 L759.51 475.98 L758.89 477.93 L758.46 479.85 L758.25 481.70 L758.25 483.45 L758.47 485.06 L758.89 486.49 L759.52 487.72 L760.34 488.72 L761.33 489.48 L762.48 489.97" stroke="#151515" stroke-width="0.65" fill="none" stroke-linejoin="round" stroke-linecap="round" />
<path d="M779.06 465.24 L778.06 464.50 L776.91 464.02 L775.64 463.81 L774.26 463.88 L772.80 464.23 L771.30 464.84 L769.79 465.71 L768.29 466.83 L766.84 468.15 L765.46 469.67 L764.19 471.35 L763.05 473.15 L762.06 475.04 L761.25 476.98 L760.62 478.93 L760.19 480.85 L759.98 482.70 L759.98 484.45 L760.20 486.06 L760.63 487.49 L761.25 488.72 L762.07 489.72 L763.06 490.48 L764.21 490.97" stroke="#151515" stroke-width="0.65" fill="none" stroke-linejoin="round" stroke-linecap="round" />
<path d="M780.79 466.24 L779.80 465.50 L778.65 465.02 L777.37 464.81 L775.99 464.88 L774.53 465.23 L773.04 465.84 L771.52 466.71 L770.02 467.83 L768.57 469.15 L767.20 470.67 L765.93 472.35 L764.78 474.15 L763.79 476.04 L762.98 477.98 L762.35 479.93 L761.93 481.85 L761.71 483.70 L761.71 485.45 L761.93 487.06 L762.36 488.49 L762.99 489.72 L763.80 490.72 L764.80 491.48 L765.94 491.97" stroke="#151515" stroke-width="0.65" fill="none" stroke-linejoin="round" stroke-linecap="round" />
<path d="M782.53 467.24 L781.53 466.50 L780.38 466.02 L779.10 465.81 L777.72 465.88 L776.27 466.23 L774.77 466.84 L773.25 467.71 L771.76 468.83 L770.30 470.15 L768.93 471.67 L767.66 473.35 L766.52 475.15 L765.53 477.04 L764.71 478.98 L764.08 480.93 L763.66 482.85 L763.45 484.70 L763.45 486.45 L763.66 488.06 L764.09 489.49 L764.72 490.72 L765.54 491.72 L766.53 492.48 L767.67 492.97" stroke="#151515" stroke-width="0.65" fill="none" stroke-linejoin="round" stroke-linecap="round" />
<path d="M784.26 468.24 L783.26 467.50 L782.11 467.02 L780.83 466.81 L779.45 466.88 L778.00 467.23 L776.50 467.84 L774.99 468.71 L773.49 469.83 L772.04 471.15 L770.66 472.67 L769.39 474.35 L768.25 476.15 L767.26 478.04 L766.44 479.98 L765.82 481.93 L765.39 483.85 L765.18 485.70 L765.18 487.45 L765.39 489.06 L765.82 490.49 L766.45 491.72 L767.27 492.72 L768.26 493.48 L769.40 493.97" stroke="#151515" stroke-width="0.65" fill="none" stroke-linejoin="round" stroke-linecap="round" />
<path d="M915.20 543.50 L914.18 542.74 L913.01 542.25 L911.70 542.04 L910.30 542.11 L908.81 542.46 L907.28 543.09 L905.74 543.98 L904.21 545.11 L902.73 546.47 L901.33 548.02 L900.03 549.73 L898.87 551.56 L897.86 553.49 L897.03 555.47 L896.39 557.46 L895.95 559.42 L895.73 561.31 L895.74 563.09 L895.96 564.73 L896.39 566.19 L897.03 567.44 L897.87 568.47 L898.88 569.24 L900.05 569.74" stroke="#151515" stroke-width="0.7" fill="none" stroke-linejoin="round" stroke-linecap="round" />
<path d="M916.67 544.35 L915.65 543.59 L914.48 543.10 L913.18 542.89 L911.77 542.96 L910.29 543.31 L908.76 543.94 L907.21 544.83 L905.68 545.96 L904.20 547.32 L902.80 548.87 L901.50 550.58 L900.34 552.41 L899.33 554.34 L898.50 556.32 L897.86 558.31 L897.43 560.27 L897.21 562.16 L897.21 563.94 L897.43 565.58 L897.86 567.04 L898.51 568.29 L899.34 569.32 L900.35 570.09 L901.52 570.59" stroke="#151515" stroke-width="0.7" fill="none" stroke-linejoin="round" stroke-linecap="round" />
<path d="M918.14 545.20 L917.12 544.44 L915.95 543.95 L914.65 543.74 L913.24 543.81 L911.76 544.16 L910.23 544.79 L908.68 545.68 L907.16 546.81 L905.68 548.17 L904.27 549.72 L902.98 551.43 L901.81 553.26 L900.80 555.19 L899.97 557.17 L899.33 559.16 L898.90 561.12 L898.68 563.01 L898.68 564.79 L898.90 566.43 L899.34 567.89 L899.98 569.14 L900.81 570.17 L901.82 570.94 L902.99 571.44" stroke="#151515" stroke-width="0.7" fill="none" stroke-linejoin="round" stroke-linecap="round" />
<path d="M919.61 546.05 L918.60 545.29 L917.42 544.80 L916.12 544.59 L914.71 544.66 L913.23 545.01 L911.70 545.64 L910.16 546.53 L908.63 547.66 L907.15 549.02 L905.74 550.57 L904.45 552.28 L903.28 554.11 L902.27 556.04 L901.44 558.02 L900.80 560.01 L900.37 561.97 L900.15 563.86 L900.15 565.64 L900.37 567.28 L900.81 568.74 L901.45 569.99 L902.29 571.02 L903.30 571.79 L904.46 572.29" stroke="#151515" stroke-width="0.7" fill="none" stroke-linejoin="round" stroke-linecap="round" />
<path d="M921.09 546.90 L920.07 546.14 L918.90 545.65 L917.59 545.44 L916.19 545.51 L914.70 545.86 L913.17 546.49 L911.63 547.38 L910.10 548.51 L908.62 549.87 L907.22 551.42 L905.92 553.13 L904.76 554.96 L903.75 556.89 L902.91 558.87 L902.28 560.86 L901.84 562.82 L901.62 564.71 L901.63 566.49 L901.85 568.13 L902.28 569.59 L902.92 570.84 L903.76 571.87 L904.77 572.64 L905.93 573.14" stroke="#151515" stroke-width="0.7" fill="none" stroke-linejoin="round" stroke-linecap="round" />
<path d="M922.56 547.75 L921.54 546.99 L920.37 546.50 L919.07 546.29 L917.66 546.36 L916.17 546.71 L914.64 547.34 L913.10 548.23 L911.57 549.36 L910.09 550.72 L908.69 552.27 L907.39 553.98 L906.23 555.81 L905.22 557.74 L904.39 559.72 L903.75 561.71 L903.31 563.67 L903.10 565.56 L903.10 567.34 L903.32 568.98 L903.75 570.44 L904.40 571.69 L905.23 572.72 L906.24 573.49 L907.41 573.99" stroke="#151515" stroke-width="0.7" fill="none" stroke-linejoin="round" stroke-linecap="round" />
<ellipse cx="914.78" cy="560.75" rx="9.57" ry="16.50" transform="rotate(30.0 914.78 560.75)" fill="#151515" stroke="#151515" stroke-width="2.6" />
<path d="M906.53 575.04 L908.91 577.92 L926.71 547.08 L923.03 546.46 Z" stroke="#151515" stroke-width="2.6" fill="#151515" stroke-linejoin="round" stroke-linecap="round" />
<ellipse cx="917.81" cy="562.50" rx="10.32" ry="17.80" transform="rotate(30.0 917.81 562.50)" fill="#151515" stroke="#151515" stroke-width="2.6" />
<ellipse cx="914.78" cy="560.75" rx="9.57" ry="16.50" transform="rotate(30.0 914.78 560.75)" fill="#fff" stroke="none" stroke-width="0" />
<path d="M906.53 575.04 L908.91 577.92 L926.71 547.08 L923.03 546.46 Z" stroke="none" stroke-width="0" fill="#fff" stroke-linejoin="round" stroke-linecap="round" />
<ellipse cx="917.81" cy="562.50" rx="10.32" ry="17.80" transform="rotate(30.0 917.81 562.50)" fill="#fff" stroke="none" stroke-width="0" />
<ellipse cx="917.81" cy="562.50" rx="11.48" ry="19.80" transform="rotate(30.0 917.81 562.50)" fill="#151515" stroke="#151515" stroke-width="2.6" />
<path d="M907.91 579.65 L910.67 582.86 L931.87 546.14 L927.71 545.35 Z" stroke="#151515" stroke-width="2.6" fill="#151515" stroke-linejoin="round" stroke-linecap="round" />
<ellipse cx="921.27" cy="564.50" rx="12.30" ry="21.20" transform="rotate(30.0 921.27 564.50)" fill="#151515" stroke="#151515" stroke-width="2.6" />
<ellipse cx="917.81" cy="562.50" rx="11.48" ry="19.80" transform="rotate(30.0 917.81 562.50)" fill="#fff" stroke="none" stroke-width="0" />
<path d="M907.91 579.65 L910.67 582.86 L931.87 546.14 L927.71 545.35 Z" stroke="none" stroke-width="0" fill="#fff" stroke-linejoin="round" stroke-linecap="round" />
<ellipse cx="921.27" cy="564.50" rx="12.30" ry="21.20" transform="rotate(30.0 921.27 564.50)" fill="#fff" stroke="none" stroke-width="0" />
<path d="M929.29 546.61 L928.54 545.92 L927.71 545.35 L926.81 544.92 L925.83 544.62 L924.80 544.45 L923.71 544.42 L922.58 544.53 L921.41 544.78 L920.22 545.16 L919.00 545.67 L917.78 546.31 L916.55 547.08 L915.34 547.96 L914.15 548.95 L912.98 550.05 L911.85 551.24 L910.77 552.52 L909.73 553.87 L908.77 555.29 L907.86 556.76 L907.04 558.27 L906.30 559.82 L905.64 561.39 L905.08 562.97 L904.61 564.54 L904.25 566.10 L903.98 567.63 L903.83 569.12 L903.78 570.56 L903.83 571.94 L904.00 573.25 L904.26 574.48 L904.63 575.61 L905.11 576.65 L905.67 577.58 L906.33 578.39 L907.08 579.08 L907.91 579.65 L908.81 580.08 L909.79 580.38" stroke="#151515" stroke-width="0.9" fill="none" stroke-linejoin="round" stroke-linecap="round" />
<ellipse cx="921.27" cy="564.50" rx="12.64" ry="21.80" transform="rotate(30.0 921.27 564.50)" fill="#151515" stroke="#151515" stroke-width="2.8" />
<path d="M910.37 583.38 L913.35 588.22 L937.85 545.78 L932.17 545.62 Z" stroke="#151515" stroke-width="2.8" fill="#151515" stroke-linejoin="round" stroke-linecap="round" />
<ellipse cx="925.60" cy="567.00" rx="14.21" ry="24.50" transform="rotate(30.0 925.60 567.00)" fill="#151515" stroke="#151515" stroke-width="2.8" />
<path d="M913.35 588.22 L914.95 591.45 L941.45 545.55 L937.85 545.78 Z" stroke="#151515" stroke-width="2.8" fill="#151515" stroke-linejoin="round" stroke-linecap="round" />
<ellipse cx="928.20" cy="568.50" rx="15.37" ry="26.50" transform="rotate(30.0 928.20 568.50)" fill="#151515" stroke="#151515" stroke-width="2.8" />
<path d="M914.95 591.45 L915.80 592.98 L943.20 545.52 L941.45 545.55 Z" stroke="#151515" stroke-width="2.8" fill="#151515" stroke-linejoin="round" stroke-linecap="round" />
<ellipse cx="929.50" cy="569.25" rx="15.89" ry="27.40" transform="rotate(30.0 929.50 569.25)" fill="#151515" stroke="#151515" stroke-width="2.8" />
<path d="M915.80 592.98 L918.40 594.48 L945.80 547.02 L943.20 545.52 Z" stroke="#151515" stroke-width="2.8" fill="#151515" stroke-linejoin="round" stroke-linecap="round" />
<ellipse cx="932.10" cy="570.75" rx="15.89" ry="27.40" transform="rotate(30.0 932.10 570.75)" fill="#151515" stroke="#151515" stroke-width="2.8" />
<ellipse cx="921.27" cy="564.50" rx="12.64" ry="21.80" transform="rotate(30.0 921.27 564.50)" fill="#fff" stroke="none" stroke-width="0" />
<path d="M910.37 583.38 L913.35 588.22 L937.85 545.78 L932.17 545.62 Z" stroke="none" stroke-width="0" fill="#fff" stroke-linejoin="round" stroke-linecap="round" />
<ellipse cx="925.60" cy="567.00" rx="14.21" ry="24.50" transform="rotate(30.0 925.60 567.00)" fill="#fff" stroke="none" stroke-width="0" />
<path d="M913.35 588.22 L914.95 591.45 L941.45 545.55 L937.85 545.78 Z" stroke="none" stroke-width="0" fill="#fff" stroke-linejoin="round" stroke-linecap="round" />
<ellipse cx="928.20" cy="568.50" rx="15.37" ry="26.50" transform="rotate(30.0 928.20 568.50)" fill="#fff" stroke="none" stroke-width="0" />
<path d="M914.95 591.45 L915.80 592.98 L943.20 545.52 L941.45 545.55 Z" stroke="none" stroke-width="0" fill="#fff" stroke-linejoin="round" stroke-linecap="round" />
<ellipse cx="929.50" cy="569.25" rx="15.89" ry="27.40" transform="rotate(30.0 929.50 569.25)" fill="#fff" stroke="none" stroke-width="0" />
<path d="M915.80 592.98 L918.40 594.48 L945.80 547.02 L943.20 545.52 Z" stroke="none" stroke-width="0" fill="#fff" stroke-linejoin="round" stroke-linecap="round" />
<ellipse cx="932.10" cy="570.75" rx="15.89" ry="27.40" transform="rotate(30.0 932.10 570.75)" fill="#fff" stroke="none" stroke-width="0" />
<path d="M945.38 547.26 L944.35 546.30 L943.20 545.52 L941.95 544.92 L940.60 544.50 L939.17 544.27 L937.67 544.23 L936.10 544.39 L934.48 544.73 L932.83 545.25 L931.15 545.96 L929.46 546.85 L927.76 547.91 L926.09 549.13 L924.43 550.50 L922.82 552.02 L921.25 553.67 L919.75 555.43 L918.33 557.30 L916.98 559.27 L915.74 561.30 L914.60 563.40 L913.57 565.55 L912.66 567.72 L911.88 569.90 L911.24 572.08 L910.73 574.23 L910.37 576.35 L910.15 578.42 L910.08 580.41 L910.16 582.32 L910.38 584.13 L910.76 585.83 L911.27 587.40 L911.92 588.83 L912.71 590.11 L913.62 591.24 L914.65 592.20 L915.80 592.98 L917.05 593.58 L918.40 594.00" stroke="#151515" stroke-width="0.9" fill="none" stroke-linejoin="round" stroke-linecap="round" />
<ellipse cx="932.10" cy="570.75" rx="15.89" ry="27.40" transform="rotate(30.0 932.10 570.75)" fill="#fff" stroke="#151515" stroke-width="1.4" />
<ellipse cx="932.10" cy="570.75" rx="14.73" ry="25.40" transform="rotate(30.0 932.10 570.75)" fill="#fff" stroke="#151515" stroke-width="0.8" />
<ellipse cx="932.53" cy="571.00" rx="13.22" ry="22.80" transform="rotate(30.0 932.53 571.00)" fill="#151515" stroke="#151515" stroke-width="2.6" />
<path d="M921.13 590.75 L929.53 594.21 L951.13 556.79 L943.93 551.25 Z" stroke="#151515" stroke-width="2.6" fill="#151515" stroke-linejoin="round" stroke-linecap="round" />
<ellipse cx="940.33" cy="575.50" rx="12.53" ry="21.60" transform="rotate(30.0 940.33 575.50)" fill="#151515" stroke="#151515" stroke-width="2.6" />
<path d="M929.53 594.21 L935.99 597.01 L956.79 560.99 L951.13 556.79 Z" stroke="#151515" stroke-width="2.6" fill="#151515" stroke-linejoin="round" stroke-linecap="round" />
<ellipse cx="946.39" cy="579.00" rx="12.06" ry="20.80" transform="rotate(30.0 946.39 579.00)" fill="#151515" stroke="#151515" stroke-width="2.6" />
<ellipse cx="932.53" cy="571.00" rx="13.22" ry="22.80" transform="rotate(30.0 932.53 571.00)" fill="#fff" stroke="none" stroke-width="0" />
<path d="M921.13 590.75 L929.53 594.21 L951.13 556.79 L943.93 551.25 Z" stroke="none" stroke-width="0" fill="#fff" stroke-linejoin="round" stroke-linecap="round" />
<ellipse cx="940.33" cy="575.50" rx="12.53" ry="21.60" transform="rotate(30.0 940.33 575.50)" fill="#fff" stroke="none" stroke-width="0" />
<path d="M929.53 594.21 L935.99 597.01 L956.79 560.99 L951.13 556.79 Z" stroke="none" stroke-width="0" fill="#fff" stroke-linejoin="round" stroke-linecap="round" />
<ellipse cx="946.39" cy="579.00" rx="12.06" ry="20.80" transform="rotate(30.0 946.39 579.00)" fill="#fff" stroke="none" stroke-width="0" />
<ellipse cx="946.39" cy="579.00" rx="12.06" ry="20.80" transform="rotate(30.0 946.39 579.00)" fill="#fff" stroke="#151515" stroke-width="1.3" />
<line x1="936.29" y1="596.49" x2="939.65" y2="591.27" stroke="#151515" stroke-width="0.55" stroke-linecap="round" />
<line x1="937.59" y1="597.07" x2="940.55" y2="591.68" stroke="#151515" stroke-width="0.55" stroke-linecap="round" />
<line x1="939.01" y1="597.39" x2="941.53" y2="591.89" stroke="#151515" stroke-width="0.55" stroke-linecap="round" />
<line x1="940.54" y1="597.43" x2="942.60" y2="591.93" stroke="#151515" stroke-width="0.55" stroke-linecap="round" />
<line x1="942.16" y1="597.21" x2="943.72" y2="591.77" stroke="#151515" stroke-width="0.55" stroke-linecap="round" />
<line x1="943.84" y1="596.72" x2="944.88" y2="591.43" stroke="#151515" stroke-width="0.55" stroke-linecap="round" />
<line x1="945.56" y1="595.98" x2="946.07" y2="590.92" stroke="#151515" stroke-width="0.55" stroke-linecap="round" />
<line x1="947.29" y1="594.99" x2="947.27" y2="590.23" stroke="#151515" stroke-width="0.55" stroke-linecap="round" />
<line x1="949.00" y1="593.76" x2="948.46" y2="589.38" stroke="#151515" stroke-width="0.55" stroke-linecap="round" />
<line x1="950.68" y1="592.32" x2="949.62" y2="588.38" stroke="#151515" stroke-width="0.55" stroke-linecap="round" />
<line x1="952.29" y1="590.68" x2="950.74" y2="587.25" stroke="#151515" stroke-width="0.55" stroke-linecap="round" />
<line x1="953.82" y1="588.87" x2="951.80" y2="585.99" stroke="#151515" stroke-width="0.55" stroke-linecap="round" />
<line x1="955.24" y1="586.92" x2="952.79" y2="584.64" stroke="#151515" stroke-width="0.55" stroke-linecap="round" />
<line x1="956.54" y1="584.86" x2="953.68" y2="583.21" stroke="#151515" stroke-width="0.55" stroke-linecap="round" />
<line x1="957.68" y1="582.71" x2="954.47" y2="581.72" stroke="#151515" stroke-width="0.55" stroke-linecap="round" />
<line x1="958.66" y1="580.50" x2="955.15" y2="580.19" stroke="#151515" stroke-width="0.55" stroke-linecap="round" />
<line x1="959.46" y1="578.27" x2="955.71" y2="578.65" stroke="#151515" stroke-width="0.55" stroke-linecap="round" />
<line x1="960.07" y1="576.06" x2="956.13" y2="577.11" stroke="#151515" stroke-width="0.55" stroke-linecap="round" />
<line x1="960.48" y1="573.88" x2="956.41" y2="575.60" stroke="#151515" stroke-width="0.55" stroke-linecap="round" />
<line x1="960.68" y1="571.78" x2="956.55" y2="574.15" stroke="#151515" stroke-width="0.55" stroke-linecap="round" />
<line x1="960.68" y1="569.79" x2="956.55" y2="572.77" stroke="#151515" stroke-width="0.55" stroke-linecap="round" />
<line x1="960.46" y1="567.93" x2="956.40" y2="571.48" stroke="#151515" stroke-width="0.55" stroke-linecap="round" />
<line x1="960.05" y1="566.23" x2="956.11" y2="570.30" stroke="#151515" stroke-width="0.55" stroke-linecap="round" />
<line x1="959.43" y1="564.72" x2="955.69" y2="569.25" stroke="#151515" stroke-width="0.55" stroke-linecap="round" />
<line x1="958.62" y1="563.42" x2="955.13" y2="568.35" stroke="#151515" stroke-width="0.55" stroke-linecap="round" />
<line x1="957.64" y1="562.34" x2="954.45" y2="567.60" stroke="#151515" stroke-width="0.55" stroke-linecap="round" />
<line x1="956.49" y1="561.51" x2="953.65" y2="567.03" stroke="#151515" stroke-width="0.55" stroke-linecap="round" />
<line x1="955.19" y1="560.93" x2="952.75" y2="566.62" stroke="#151515" stroke-width="0.55" stroke-linecap="round" />
<line x1="953.77" y1="560.61" x2="951.76" y2="566.41" stroke="#151515" stroke-width="0.55" stroke-linecap="round" />
<line x1="952.23" y1="560.57" x2="950.70" y2="566.37" stroke="#151515" stroke-width="0.55" stroke-linecap="round" />
<line x1="950.62" y1="560.79" x2="949.58" y2="566.53" stroke="#151515" stroke-width="0.55" stroke-linecap="round" />
<line x1="948.94" y1="561.28" x2="948.41" y2="566.87" stroke="#151515" stroke-width="0.55" stroke-linecap="round" />
<line x1="947.22" y1="562.02" x2="947.23" y2="567.38" stroke="#151515" stroke-width="0.55" stroke-linecap="round" />
<line x1="945.49" y1="563.01" x2="946.03" y2="568.07" stroke="#151515" stroke-width="0.55" stroke-linecap="round" />
<line x1="943.78" y1="564.24" x2="944.84" y2="568.92" stroke="#151515" stroke-width="0.55" stroke-linecap="round" />
<line x1="942.10" y1="565.68" x2="943.68" y2="569.92" stroke="#151515" stroke-width="0.55" stroke-linecap="round" />
<line x1="940.48" y1="567.32" x2="942.56" y2="571.05" stroke="#151515" stroke-width="0.55" stroke-linecap="round" />
<line x1="938.95" y1="569.13" x2="941.50" y2="572.31" stroke="#151515" stroke-width="0.55" stroke-linecap="round" />
<line x1="937.53" y1="571.08" x2="940.51" y2="573.66" stroke="#151515" stroke-width="0.55" stroke-linecap="round" />
<line x1="936.24" y1="573.14" x2="939.62" y2="575.09" stroke="#151515" stroke-width="0.55" stroke-linecap="round" />
<line x1="935.10" y1="575.29" x2="938.82" y2="576.58" stroke="#151515" stroke-width="0.55" stroke-linecap="round" />
<line x1="934.12" y1="577.50" x2="938.15" y2="578.11" stroke="#151515" stroke-width="0.55" stroke-linecap="round" />
<line x1="933.32" y1="579.73" x2="937.59" y2="579.65" stroke="#151515" stroke-width="0.55" stroke-linecap="round" />
<line x1="932.71" y1="581.94" x2="937.17" y2="581.19" stroke="#151515" stroke-width="0.55" stroke-linecap="round" />
<line x1="932.30" y1="584.12" x2="936.88" y2="582.70" stroke="#151515" stroke-width="0.55" stroke-linecap="round" />
<line x1="932.10" y1="586.22" x2="936.74" y2="584.15" stroke="#151515" stroke-width="0.55" stroke-linecap="round" />
<line x1="932.10" y1="588.21" x2="936.75" y2="585.53" stroke="#151515" stroke-width="0.55" stroke-linecap="round" />
<line x1="932.31" y1="590.07" x2="936.89" y2="586.82" stroke="#151515" stroke-width="0.55" stroke-linecap="round" />
<line x1="932.73" y1="591.77" x2="937.18" y2="588.00" stroke="#151515" stroke-width="0.55" stroke-linecap="round" />
<line x1="933.35" y1="593.28" x2="937.61" y2="589.05" stroke="#151515" stroke-width="0.55" stroke-linecap="round" />
<line x1="934.15" y1="594.58" x2="938.17" y2="589.95" stroke="#151515" stroke-width="0.55" stroke-linecap="round" />
<line x1="935.14" y1="595.66" x2="938.85" y2="590.70" stroke="#151515" stroke-width="0.55" stroke-linecap="round" />
<ellipse cx="946.65" cy="579.15" rx="7.89" ry="13.60" transform="rotate(30.0 946.65 579.15)" fill="#fff" stroke="#151515" stroke-width="1.0" />
<ellipse cx="946.82" cy="579.25" rx="6.55" ry="11.30" transform="rotate(30.0 946.82 579.25)" fill="#151515" stroke="#151515" stroke-width="2.6" />
<path d="M941.17 589.04 L948.97 593.54 L960.27 573.96 L952.47 569.46 Z" stroke="#151515" stroke-width="2.6" fill="#151515" stroke-linejoin="round" stroke-linecap="round" />
<ellipse cx="954.62" cy="583.75" rx="6.55" ry="11.30" transform="rotate(30.0 954.62 583.75)" fill="#151515" stroke="#151515" stroke-width="2.6" />
<path d="M948.97 593.54 L950.56 593.18 L960.76 575.52 L960.27 573.96 Z" stroke="#151515" stroke-width="2.6" fill="#151515" stroke-linejoin="round" stroke-linecap="round" />
<ellipse cx="955.66" cy="584.35" rx="5.92" ry="10.20" transform="rotate(30.0 955.66 584.35)" fill="#151515" stroke="#151515" stroke-width="2.6" />
<ellipse cx="946.82" cy="579.25" rx="6.55" ry="11.30" transform="rotate(30.0 946.82 579.25)" fill="#fff" stroke="none" stroke-width="0" />
<path d="M941.17 589.04 L948.97 593.54 L960.27 573.96 L952.47 569.46 Z" stroke="none" stroke-width="0" fill="#fff" stroke-linejoin="round" stroke-linecap="round" />
<ellipse cx="954.62" cy="583.75" rx="6.55" ry="11.30" transform="rotate(30.0 954.62 583.75)" fill="#fff" stroke="none" stroke-width="0" />
<path d="M948.97 593.54 L950.56 593.18 L960.76 575.52 L960.27 573.96 Z" stroke="none" stroke-width="0" fill="#fff" stroke-linejoin="round" stroke-linecap="round" />
<ellipse cx="955.66" cy="584.35" rx="5.92" ry="10.20" transform="rotate(30.0 955.66 584.35)" fill="#fff" stroke="none" stroke-width="0" />
<path d="M961.17 574.68 L960.74 574.29 L960.27 573.96 L959.75 573.72 L959.19 573.54 L958.60 573.45 L957.98 573.43 L957.34 573.50 L956.67 573.64 L955.99 573.85 L955.30 574.15 L954.60 574.51 L953.90 574.95 L953.21 575.45 L952.53 576.02 L951.86 576.64 L951.21 577.32 L950.60 578.05 L950.01 578.82 L949.45 579.63 L948.94 580.47 L948.47 581.34 L948.05 582.22 L947.67 583.12 L947.35 584.02 L947.08 584.92 L946.88 585.81 L946.73 586.68 L946.64 587.53 L946.61 588.35 L946.64 589.14 L946.73 589.89 L946.89 590.59 L947.10 591.23 L947.37 591.83 L947.69 592.35 L948.07 592.82 L948.49 593.21 L948.97 593.54 L949.48 593.78 L950.04 593.96" stroke="#151515" stroke-width="0.8" fill="none" stroke-linejoin="round" stroke-linecap="round" />
<ellipse cx="955.66" cy="584.35" rx="5.92" ry="10.20" transform="rotate(30.0 955.66 584.35)" fill="#fff" stroke="#151515" stroke-width="1.3" />
<ellipse cx="955.83" cy="584.45" rx="3.02" ry="5.20" transform="rotate(30.0 955.83 584.45)" fill="#fff" stroke="#151515" stroke-width="1.3" />
<ellipse cx="955.31" cy="584.15" rx="1.86" ry="3.20" transform="rotate(30.0 955.31 584.15)" fill="#fff" stroke="#151515" stroke-width="0.9" />
<line x1="524.50" y1="59.20" x2="645.74" y2="129.20" stroke="#151515" stroke-width="1.0" stroke-linecap="round" />
<ellipse cx="501.12" cy="45.70" rx="6.72" ry="10.50" transform="rotate(30.0 501.12 45.70)" fill="#151515" stroke="#151515" stroke-width="2.8" />
<path d="M495.87 54.79 L496.27 57.10 L508.57 35.80 L506.37 36.61 Z" stroke="#151515" stroke-width="2.8" fill="#151515" stroke-linejoin="round" stroke-linecap="round" />
<ellipse cx="502.42" cy="46.45" rx="7.87" ry="12.30" transform="rotate(30.0 502.42 46.45)" fill="#151515" stroke="#151515" stroke-width="2.8" />
<path d="M496.27 57.10 L504.91 63.13 L518.11 40.27 L508.57 35.80 Z" stroke="#151515" stroke-width="2.8" fill="#151515" stroke-linejoin="round" stroke-linecap="round" />
<ellipse cx="511.51" cy="51.70" rx="8.45" ry="13.20" transform="rotate(30.0 511.51 51.70)" fill="#151515" stroke="#151515" stroke-width="2.8" />
<path d="M504.91 63.13 L510.42 73.59 L529.92 39.81 L518.11 40.27 Z" stroke="#151515" stroke-width="2.8" fill="#151515" stroke-linejoin="round" stroke-linecap="round" />
<ellipse cx="520.17" cy="56.70" rx="12.48" ry="19.50" transform="rotate(30.0 520.17 56.70)" fill="#151515" stroke="#151515" stroke-width="2.8" />
<path d="M510.42 73.59 L512.57 75.87 L532.97 40.53 L529.92 39.81 Z" stroke="#151515" stroke-width="2.8" fill="#151515" stroke-linejoin="round" stroke-linecap="round" />
<ellipse cx="522.77" cy="58.20" rx="13.06" ry="20.40" transform="rotate(30.0 522.77 58.20)" fill="#151515" stroke="#151515" stroke-width="2.8" />
<path d="M512.57 75.87 L514.97 77.71 L535.77 41.69 L532.97 40.53 Z" stroke="#151515" stroke-width="2.8" fill="#151515" stroke-linejoin="round" stroke-linecap="round" />
<ellipse cx="525.37" cy="59.70" rx="13.31" ry="20.80" transform="rotate(30.0 525.37 59.70)" fill="#151515" stroke="#151515" stroke-width="2.8" />
<ellipse cx="501.12" cy="45.70" rx="6.72" ry="10.50" transform="rotate(30.0 501.12 45.70)" fill="#fff" stroke="none" stroke-width="0" />
<path d="M495.87 54.79 L496.27 57.10 L508.57 35.80 L506.37 36.61 Z" stroke="none" stroke-width="0" fill="#fff" stroke-linejoin="round" stroke-linecap="round" />
<ellipse cx="502.42" cy="46.45" rx="7.87" ry="12.30" transform="rotate(30.0 502.42 46.45)" fill="#fff" stroke="none" stroke-width="0" />
<path d="M496.27 57.10 L504.91 63.13 L518.11 40.27 L508.57 35.80 Z" stroke="none" stroke-width="0" fill="#fff" stroke-linejoin="round" stroke-linecap="round" />
<ellipse cx="511.51" cy="51.70" rx="8.45" ry="13.20" transform="rotate(30.0 511.51 51.70)" fill="#fff" stroke="none" stroke-width="0" />
<path d="M504.91 63.13 L510.42 73.59 L529.92 39.81 L518.11 40.27 Z" stroke="none" stroke-width="0" fill="#fff" stroke-linejoin="round" stroke-linecap="round" />
<ellipse cx="520.17" cy="56.70" rx="12.48" ry="19.50" transform="rotate(30.0 520.17 56.70)" fill="#fff" stroke="none" stroke-width="0" />
<path d="M510.42 73.59 L512.57 75.87 L532.97 40.53 L529.92 39.81 Z" stroke="none" stroke-width="0" fill="#fff" stroke-linejoin="round" stroke-linecap="round" />
<ellipse cx="522.77" cy="58.20" rx="13.06" ry="20.40" transform="rotate(30.0 522.77 58.20)" fill="#fff" stroke="none" stroke-width="0" />
<path d="M512.57 75.87 L514.97 77.71 L535.77 41.69 L532.97 40.53 Z" stroke="none" stroke-width="0" fill="#fff" stroke-linejoin="round" stroke-linecap="round" />
<ellipse cx="525.37" cy="59.70" rx="13.31" ry="20.80" transform="rotate(30.0 525.37 59.70)" fill="#fff" stroke="none" stroke-width="0" />
<path d="M493.44 48.37 L502.91 52.57 L510.34 47.73" stroke="#151515" stroke-width="0.9" fill="none" stroke-linejoin="round" stroke-linecap="round" />
<path d="M503.54 35.47 L512.39 40.62 L517.53 40.60" stroke="#151515" stroke-width="0.9" fill="none" stroke-linejoin="round" stroke-linecap="round" />
<path d="M502.91 52.57 L508.77 46.35 L512.39 40.62" stroke="#151515" stroke-width="0.9" fill="none" stroke-linejoin="round" stroke-linecap="round" />
<path d="M494.71 55.72 L502.61 61.21 L504.39 66.98" stroke="#151515" stroke-width="0.9" fill="none" stroke-linejoin="round" stroke-linecap="round" />
<ellipse cx="525.37" cy="59.70" rx="13.31" ry="20.80" transform="rotate(30.0 525.37 59.70)" fill="#fff" stroke="#151515" stroke-width="1.4" />
<ellipse cx="525.37" cy="59.70" rx="11.90" ry="18.60" transform="rotate(30.0 525.37 59.70)" fill="#fff" stroke="#151515" stroke-width="0.9" />
<ellipse cx="525.37" cy="59.70" rx="10.56" ry="16.50" transform="rotate(30.0 525.37 59.70)" fill="none" stroke="#151515" stroke-width="2.6" stroke-dasharray="1.1 1.3"/>
<ellipse cx="525.37" cy="59.70" rx="9.22" ry="14.40" transform="rotate(30.0 525.37 59.70)" fill="#fff" stroke="#151515" stroke-width="1.0" />
<ellipse cx="524.93" cy="59.45" rx="7.68" ry="12.00" transform="rotate(30.0 524.93 59.45)" fill="#fff" stroke="#151515" stroke-width="0.9" />
<clipPath id="c8393_1"><ellipse cx="524.93" cy="59.45" rx="7.68" ry="12.00" transform="rotate(30.0 524.93 59.45)"/></clipPath>
<g clip-path="url(#c8393_1)">
<ellipse cx="522.77" cy="58.20" rx="6.72" ry="10.50" transform="rotate(30.0 522.77 58.20)" fill="none" stroke="#151515" stroke-width="0.9" />
<ellipse cx="521.47" cy="57.45" rx="5.31" ry="8.30" transform="rotate(30.0 521.47 57.45)" fill="none" stroke="#151515" stroke-width="0.9" />
<ellipse cx="520.17" cy="56.70" rx="3.84" ry="6.00" transform="rotate(30.0 520.17 56.70)" fill="none" stroke="#151515" stroke-width="0.9" />
<ellipse cx="519.30" cy="56.20" rx="2.30" ry="3.60" transform="rotate(30.0 519.30 56.20)" fill="none" stroke="#151515" stroke-width="1.3" />
</g>
<line x1="521.04" y1="57.20" x2="559.14" y2="79.20" stroke="#151515" stroke-width="1.0" stroke-linecap="round" />
<ellipse cx="555.85" cy="77.30" rx="8.43" ry="13.60" transform="rotate(30.0 555.85 77.30)" fill="#151515" stroke="#151515" stroke-width="2.4" />
<path d="M549.05 89.08 L575.03 99.69 L584.83 82.71 L562.65 65.52 Z" stroke="#151515" stroke-width="2.4" fill="#151515" stroke-linejoin="round" stroke-linecap="round" />
<ellipse cx="579.93" cy="91.20" rx="6.08" ry="9.80" transform="rotate(30.0 579.93 91.20)" fill="#151515" stroke="#151515" stroke-width="2.4" />
<ellipse cx="555.85" cy="77.30" rx="8.43" ry="13.60" transform="rotate(30.0 555.85 77.30)" fill="#fff" stroke="none" stroke-width="0" />
<path d="M549.05 89.08 L575.03 99.69 L584.83 82.71 L562.65 65.52 Z" stroke="none" stroke-width="0" fill="#fff" stroke-linejoin="round" stroke-linecap="round" />
<ellipse cx="579.93" cy="91.20" rx="6.08" ry="9.80" transform="rotate(30.0 579.93 91.20)" fill="#fff" stroke="none" stroke-width="0" />
<path d="M564.71 67.06 L563.98 66.35 L563.14 65.81 L562.20 65.43 L561.19 65.23 L560.11 65.20 L558.98 65.35 L557.82 65.67 L556.64 66.16 L555.46 66.81 L554.29 67.62 L553.16 68.57 L552.07 69.64 L551.04 70.83 L550.10 72.12 L549.24 73.48 L548.49 74.91 L547.85 76.37 L547.33 77.85 L546.94 79.33 L546.69 80.79 L546.57 82.20 L546.60 83.55 L546.76 84.82 L547.07 85.99 L547.50 87.04 L548.07 87.96 L548.75 88.74 L549.54 89.36 L550.43 89.81 L551.41 90.10" stroke="#151515" stroke-width="3.0" fill="none" stroke-linejoin="round" stroke-linecap="round" />
<path d="M564.71 67.06 L563.98 66.35 L563.14 65.81 L562.20 65.43 L561.19 65.23 L560.11 65.20 L558.98 65.35 L557.82 65.67 L556.64 66.16 L555.46 66.81 L554.29 67.62 L553.16 68.57 L552.07 69.64 L551.04 70.83 L550.10 72.12 L549.24 73.48 L548.49 74.91 L547.85 76.37 L547.33 77.85 L546.94 79.33 L546.69 80.79 L546.57 82.20 L546.60 83.55 L546.76 84.82 L547.07 85.99 L547.50 87.04 L548.07 87.96 L548.75 88.74 L549.54 89.36 L550.43 89.81 L551.41 90.10" stroke="#fff" stroke-width="0.8" fill="none" stroke-linejoin="round" stroke-linecap="round" />
<line x1="551.25" y1="70.58" x2="552.04" y2="82.51" stroke="#151515" stroke-width="0.8" stroke-linecap="round" />
<path d="M568.93 70.35 L568.24 69.69 L567.44 69.17 L566.56 68.82 L565.61 68.63 L564.59 68.60 L563.52 68.74 L562.43 69.04 L561.31 69.50 L560.20 70.12 L559.09 70.88 L558.02 71.78 L557.00 72.79 L556.03 73.92 L555.13 75.13 L554.33 76.42 L553.61 77.76 L553.01 79.15 L552.52 80.55 L552.15 81.94 L551.91 83.32 L551.81 84.65 L551.83 85.93 L551.99 87.12 L552.27 88.23 L552.68 89.22 L553.22 90.09 L553.86 90.82 L554.61 91.40 L555.45 91.83 L556.37 92.10" stroke="#151515" stroke-width="3.0" fill="none" stroke-linejoin="round" stroke-linecap="round" />
<path d="M568.93 70.35 L568.24 69.69 L567.44 69.17 L566.56 68.82 L565.61 68.63 L564.59 68.60 L563.52 68.74 L562.43 69.04 L561.31 69.50 L560.20 70.12 L559.09 70.88 L558.02 71.78 L557.00 72.79 L556.03 73.92 L555.13 75.13 L554.33 76.42 L553.61 77.76 L553.01 79.15 L552.52 80.55 L552.15 81.94 L551.91 83.32 L551.81 84.65 L551.83 85.93 L551.99 87.12 L552.27 88.23 L552.68 89.22 L553.22 90.09 L553.86 90.82 L554.61 91.40 L555.45 91.83 L556.37 92.10" stroke="#fff" stroke-width="0.8" fill="none" stroke-linejoin="round" stroke-linecap="round" />
<line x1="556.22" y1="73.68" x2="557.26" y2="85.09" stroke="#151515" stroke-width="0.8" stroke-linecap="round" />
<path d="M573.15 73.65 L572.50 73.02 L571.75 72.54 L570.92 72.20 L570.02 72.02 L569.07 72.00 L568.06 72.13 L567.03 72.41 L565.98 72.85 L564.93 73.43 L563.90 74.15 L562.89 74.99 L561.92 75.94 L561.01 77.00 L560.17 78.14 L559.41 79.36 L558.74 80.62 L558.17 81.92 L557.71 83.24 L557.37 84.55 L557.14 85.85 L557.04 87.10 L557.06 88.30 L557.21 89.43 L557.48 90.46 L557.87 91.40 L558.37 92.21 L558.97 92.90 L559.68 93.45 L560.47 93.86 L561.34 94.11" stroke="#151515" stroke-width="3.0" fill="none" stroke-linejoin="round" stroke-linecap="round" />
<path d="M573.15 73.65 L572.50 73.02 L571.75 72.54 L570.92 72.20 L570.02 72.02 L569.07 72.00 L568.06 72.13 L567.03 72.41 L565.98 72.85 L564.93 73.43 L563.90 74.15 L562.89 74.99 L561.92 75.94 L561.01 77.00 L560.17 78.14 L559.41 79.36 L558.74 80.62 L558.17 81.92 L557.71 83.24 L557.37 84.55 L557.14 85.85 L557.04 87.10 L557.06 88.30 L557.21 89.43 L557.48 90.46 L557.87 91.40 L558.37 92.21 L558.97 92.90 L559.68 93.45 L560.47 93.86 L561.34 94.11" stroke="#fff" stroke-width="0.8" fill="none" stroke-linejoin="round" stroke-linecap="round" />
<line x1="561.19" y1="76.78" x2="562.48" y2="87.66" stroke="#151515" stroke-width="0.8" stroke-linecap="round" />
<path d="M577.37 76.94 L576.76 76.35 L576.06 75.90 L575.28 75.59 L574.44 75.42 L573.54 75.40 L572.60 75.52 L571.64 75.79 L570.65 76.19 L569.67 76.74 L568.70 77.41 L567.75 78.20 L566.85 79.09 L566.00 80.08 L565.21 81.15 L564.49 82.29 L563.87 83.48 L563.33 84.69 L562.90 85.93 L562.58 87.16 L562.37 88.37 L562.27 89.55 L562.29 90.67 L562.43 91.73 L562.68 92.70 L563.05 93.57 L563.52 94.34 L564.09 94.99 L564.75 95.50 L565.49 95.88 L566.30 96.12" stroke="#151515" stroke-width="3.0" fill="none" stroke-linejoin="round" stroke-linecap="round" />
<path d="M577.37 76.94 L576.76 76.35 L576.06 75.90 L575.28 75.59 L574.44 75.42 L573.54 75.40 L572.60 75.52 L571.64 75.79 L570.65 76.19 L569.67 76.74 L568.70 77.41 L567.75 78.20 L566.85 79.09 L566.00 80.08 L565.21 81.15 L564.49 82.29 L563.87 83.48 L563.33 84.69 L562.90 85.93 L562.58 87.16 L562.37 88.37 L562.27 89.55 L562.29 90.67 L562.43 91.73 L562.68 92.70 L563.05 93.57 L563.52 94.34 L564.09 94.99 L564.75 95.50 L565.49 95.88 L566.30 96.12" stroke="#fff" stroke-width="0.8" fill="none" stroke-linejoin="round" stroke-linecap="round" />
<line x1="566.17" y1="79.87" x2="567.70" y2="90.24" stroke="#151515" stroke-width="0.8" stroke-linecap="round" />
<path d="M581.59 80.24 L581.02 79.69 L580.37 79.27 L579.64 78.97 L578.86 78.82 L578.02 78.79 L577.14 78.91 L576.24 79.16 L575.32 79.54 L574.41 80.05 L573.50 80.67 L572.62 81.41 L571.78 82.24 L570.98 83.17 L570.24 84.17 L569.58 85.23 L568.99 86.33 L568.50 87.47 L568.09 88.62 L567.79 89.77 L567.60 90.90 L567.51 92.00 L567.53 93.05 L567.66 94.03 L567.89 94.94 L568.23 95.75 L568.67 96.47 L569.20 97.07 L569.81 97.55 L570.50 97.90 L571.26 98.13" stroke="#151515" stroke-width="3.0" fill="none" stroke-linejoin="round" stroke-linecap="round" />
<path d="M581.59 80.24 L581.02 79.69 L580.37 79.27 L579.64 78.97 L578.86 78.82 L578.02 78.79 L577.14 78.91 L576.24 79.16 L575.32 79.54 L574.41 80.05 L573.50 80.67 L572.62 81.41 L571.78 82.24 L570.98 83.17 L570.24 84.17 L569.58 85.23 L568.99 86.33 L568.50 87.47 L568.09 88.62 L567.79 89.77 L567.60 90.90 L567.51 92.00 L567.53 93.05 L567.66 94.03 L567.89 94.94 L568.23 95.75 L568.67 96.47 L569.20 97.07 L569.81 97.55 L570.50 97.90 L571.26 98.13" stroke="#fff" stroke-width="0.8" fill="none" stroke-linejoin="round" stroke-linecap="round" />
<line x1="571.14" y1="82.97" x2="572.92" y2="92.81" stroke="#151515" stroke-width="0.8" stroke-linecap="round" />
<ellipse cx="579.93" cy="91.20" rx="6.08" ry="9.80" transform="rotate(30.0 579.93 91.20)" fill="#fff" stroke="#151515" stroke-width="3.0" />
<ellipse cx="579.93" cy="91.20" rx="6.08" ry="9.80" transform="rotate(30.0 579.93 91.20)" fill="none" stroke="#fff" stroke-width="0.8" />
<clipPath id="c8393_2"><ellipse cx="579.93" cy="91.20" rx="5.33" ry="8.60" transform="rotate(30.0 579.93 91.20)"/></clipPath>
<g clip-path="url(#c8393_2)">
<ellipse cx="575.72" cy="88.77" rx="6.09" ry="9.82" transform="rotate(30.0 575.72 88.77)" fill="none" stroke="#151515" stroke-width="1.0" />
<ellipse cx="571.51" cy="86.34" rx="6.53" ry="10.53" transform="rotate(30.0 571.51 86.34)" fill="none" stroke="#151515" stroke-width="1.0" />
<ellipse cx="567.30" cy="83.91" rx="6.97" ry="11.23" transform="rotate(30.0 567.30 83.91)" fill="none" stroke="#151515" stroke-width="1.0" />
<ellipse cx="563.09" cy="81.48" rx="7.40" ry="11.94" transform="rotate(30.0 563.09 81.48)" fill="none" stroke="#151515" stroke-width="1.0" />
<ellipse cx="558.88" cy="79.05" rx="7.84" ry="12.65" transform="rotate(30.0 558.88 79.05)" fill="none" stroke="#151515" stroke-width="1.0" />
<line x1="545.28" y1="71.20" x2="579.93" y2="91.20" stroke="#151515" stroke-width="1.0" stroke-linecap="round" />
</g>
<line x1="579.93" y1="91.20" x2="606.77" y2="106.70" stroke="#151515" stroke-width="1.0" stroke-linecap="round" />
<ellipse cx="602.62" cy="104.30" rx="6.57" ry="10.60" transform="rotate(30.0 602.62 104.30)" fill="#151515" stroke="#151515" stroke-width="2.4" />
<path d="M597.32 113.48 L613.96 127.25 L628.16 102.65 L607.92 95.12 Z" stroke="#151515" stroke-width="2.4" fill="#151515" stroke-linejoin="round" stroke-linecap="round" />
<ellipse cx="621.06" cy="114.95" rx="8.80" ry="14.20" transform="rotate(30.0 621.06 114.95)" fill="#151515" stroke="#151515" stroke-width="2.4" />
<ellipse cx="602.62" cy="104.30" rx="6.57" ry="10.60" transform="rotate(30.0 602.62 104.30)" fill="#fff" stroke="none" stroke-width="0" />
<path d="M597.32 113.48 L613.96 127.25 L628.16 102.65 L607.92 95.12 Z" stroke="none" stroke-width="0" fill="#fff" stroke-linejoin="round" stroke-linecap="round" />
<ellipse cx="621.06" cy="114.95" rx="8.80" ry="14.20" transform="rotate(30.0 621.06 114.95)" fill="#fff" stroke="none" stroke-width="0" />
<path d="M609.68 96.40 L609.10 95.86 L608.45 95.43 L607.72 95.14 L606.93 94.98 L606.09 94.96 L605.21 95.07 L604.30 95.32 L603.38 95.71 L602.46 96.21 L601.55 96.84 L600.67 97.58 L599.82 98.42 L599.02 99.35 L598.28 100.35 L597.62 101.41 L597.03 102.52 L596.53 103.66 L596.13 104.82 L595.82 105.97 L595.63 107.11 L595.54 108.21 L595.56 109.26 L595.69 110.25 L595.92 111.16 L596.26 111.98 L596.70 112.70 L597.23 113.30 L597.85 113.78 L598.55 114.14 L599.31 114.36" stroke="#151515" stroke-width="3.0" fill="none" stroke-linejoin="round" stroke-linecap="round" />
<path d="M609.68 96.40 L609.10 95.86 L608.45 95.43 L607.72 95.14 L606.93 94.98 L606.09 94.96 L605.21 95.07 L604.30 95.32 L603.38 95.71 L602.46 96.21 L601.55 96.84 L600.67 97.58 L599.82 98.42 L599.02 99.35 L598.28 100.35 L597.62 101.41 L597.03 102.52 L596.53 103.66 L596.13 104.82 L595.82 105.97 L595.63 107.11 L595.54 108.21 L595.56 109.26 L595.69 110.25 L595.92 111.16 L596.26 111.98 L596.70 112.70 L597.23 113.30 L597.85 113.78 L598.55 114.14 L599.31 114.36" stroke="#fff" stroke-width="0.8" fill="none" stroke-linejoin="round" stroke-linecap="round" />
<line x1="599.18" y1="99.15" x2="598.77" y2="108.61" stroke="#151515" stroke-width="0.8" stroke-linecap="round" />
<path d="M613.66 97.89 L613.05 97.30 L612.35 96.85 L611.57 96.54 L610.73 96.37 L609.83 96.35 L608.89 96.47 L607.92 96.74 L606.94 97.14 L605.96 97.69 L604.99 98.36 L604.04 99.15 L603.14 100.04 L602.28 101.03 L601.49 102.10 L600.78 103.24 L600.15 104.43 L599.62 105.64 L599.19 106.88 L598.87 108.11 L598.66 109.32 L598.56 110.50 L598.58 111.62 L598.72 112.68 L598.97 113.65 L599.33 114.52 L599.80 115.29 L600.37 115.94 L601.03 116.45 L601.77 116.83 L602.59 117.07" stroke="#151515" stroke-width="3.0" fill="none" stroke-linejoin="round" stroke-linecap="round" />
<path d="M613.66 97.89 L613.05 97.30 L612.35 96.85 L611.57 96.54 L610.73 96.37 L609.83 96.35 L608.89 96.47 L607.92 96.74 L606.94 97.14 L605.96 97.69 L604.99 98.36 L604.04 99.15 L603.14 100.04 L602.28 101.03 L601.49 102.10 L600.78 103.24 L600.15 104.43 L599.62 105.64 L599.19 106.88 L598.87 108.11 L598.66 109.32 L598.56 110.50 L598.58 111.62 L598.72 112.68 L598.97 113.65 L599.33 114.52 L599.80 115.29 L600.37 115.94 L601.03 116.45 L601.77 116.83 L602.59 117.07" stroke="#fff" stroke-width="0.8" fill="none" stroke-linejoin="round" stroke-linecap="round" />
<line x1="602.45" y1="100.82" x2="601.80" y2="110.78" stroke="#151515" stroke-width="0.8" stroke-linecap="round" />
<path d="M617.64 99.38 L616.99 98.75 L616.25 98.27 L615.42 97.94 L614.52 97.76 L613.57 97.73 L612.57 97.86 L611.54 98.15 L610.50 98.58 L609.45 99.16 L608.42 99.88 L607.41 100.71 L606.45 101.67 L605.54 102.72 L604.70 103.86 L603.95 105.07 L603.28 106.33 L602.71 107.62 L602.25 108.94 L601.91 110.25 L601.68 111.54 L601.58 112.79 L601.61 113.98 L601.75 115.11 L602.02 116.14 L602.41 117.07 L602.91 117.88 L603.51 118.57 L604.21 119.12 L605.00 119.52 L605.87 119.78" stroke="#151515" stroke-width="3.0" fill="none" stroke-linejoin="round" stroke-linecap="round" />
<path d="M617.64 99.38 L616.99 98.75 L616.25 98.27 L615.42 97.94 L614.52 97.76 L613.57 97.73 L612.57 97.86 L611.54 98.15 L610.50 98.58 L609.45 99.16 L608.42 99.88 L607.41 100.71 L606.45 101.67 L605.54 102.72 L604.70 103.86 L603.95 105.07 L603.28 106.33 L602.71 107.62 L602.25 108.94 L601.91 110.25 L601.68 111.54 L601.58 112.79 L601.61 113.98 L601.75 115.11 L602.02 116.14 L602.41 117.07 L602.91 117.88 L603.51 118.57 L604.21 119.12 L605.00 119.52 L605.87 119.78" stroke="#fff" stroke-width="0.8" fill="none" stroke-linejoin="round" stroke-linecap="round" />
<line x1="605.72" y1="102.50" x2="604.84" y2="112.95" stroke="#151515" stroke-width="0.8" stroke-linecap="round" />
<path d="M621.63 100.86 L620.94 100.20 L620.15 99.69 L619.27 99.34 L618.32 99.15 L617.31 99.12 L616.25 99.26 L615.16 99.56 L614.05 100.02 L612.94 100.64 L611.85 101.39 L610.78 102.28 L609.76 103.29 L608.80 104.41 L607.91 105.61 L607.11 106.89 L606.40 108.23 L605.80 109.60 L605.31 110.99 L604.95 112.38 L604.71 113.75 L604.61 115.08 L604.63 116.34 L604.78 117.53 L605.07 118.63 L605.48 119.61 L606.01 120.48 L606.65 121.20 L607.39 121.79 L608.23 122.21 L609.14 122.48" stroke="#151515" stroke-width="3.0" fill="none" stroke-linejoin="round" stroke-linecap="round" />
<path d="M621.63 100.86 L620.94 100.20 L620.15 99.69 L619.27 99.34 L618.32 99.15 L617.31 99.12 L616.25 99.26 L615.16 99.56 L614.05 100.02 L612.94 100.64 L611.85 101.39 L610.78 102.28 L609.76 103.29 L608.80 104.41 L607.91 105.61 L607.11 106.89 L606.40 108.23 L605.80 109.60 L605.31 110.99 L604.95 112.38 L604.71 113.75 L604.61 115.08 L604.63 116.34 L604.78 117.53 L605.07 118.63 L605.48 119.61 L606.01 120.48 L606.65 121.20 L607.39 121.79 L608.23 122.21 L609.14 122.48" stroke="#fff" stroke-width="0.8" fill="none" stroke-linejoin="round" stroke-linecap="round" />
<line x1="608.99" y1="104.17" x2="607.87" y2="115.12" stroke="#151515" stroke-width="0.8" stroke-linecap="round" />
<path d="M625.61 102.35 L624.88 101.65 L624.05 101.11 L623.12 100.74 L622.12 100.54 L621.05 100.51 L619.93 100.66 L618.78 100.98 L617.61 101.46 L616.44 102.11 L615.28 102.91 L614.15 103.85 L613.08 104.91 L612.06 106.09 L611.12 107.37 L610.27 108.72 L609.53 110.13 L608.89 111.58 L608.38 113.05 L607.99 114.52 L607.74 115.96 L607.63 117.36 L607.65 118.70 L607.82 119.96 L608.12 121.12 L608.55 122.16 L609.11 123.07 L609.79 123.84 L610.57 124.45 L611.45 124.90 L612.42 125.19" stroke="#151515" stroke-width="3.0" fill="none" stroke-linejoin="round" stroke-linecap="round" />
<path d="M625.61 102.35 L624.88 101.65 L624.05 101.11 L623.12 100.74 L622.12 100.54 L621.05 100.51 L619.93 100.66 L618.78 100.98 L617.61 101.46 L616.44 102.11 L615.28 102.91 L614.15 103.85 L613.08 104.91 L612.06 106.09 L611.12 107.37 L610.27 108.72 L609.53 110.13 L608.89 111.58 L608.38 113.05 L607.99 114.52 L607.74 115.96 L607.63 117.36 L607.65 118.70 L607.82 119.96 L608.12 121.12 L608.55 122.16 L609.11 123.07 L609.79 123.84 L610.57 124.45 L611.45 124.90 L612.42 125.19" stroke="#fff" stroke-width="0.8" fill="none" stroke-linejoin="round" stroke-linecap="round" />
<line x1="612.26" y1="105.84" x2="610.91" y2="117.29" stroke="#151515" stroke-width="0.8" stroke-linecap="round" />
<ellipse cx="621.06" cy="114.95" rx="8.80" ry="14.20" transform="rotate(30.0 621.06 114.95)" fill="#fff" stroke="#151515" stroke-width="3.0" />
<ellipse cx="621.06" cy="114.95" rx="8.80" ry="14.20" transform="rotate(30.0 621.06 114.95)" fill="none" stroke="#fff" stroke-width="0.8" />
<clipPath id="c8393_3"><ellipse cx="621.06" cy="114.95" rx="8.06" ry="13.00" transform="rotate(30.0 621.06 114.95)"/></clipPath>
<g clip-path="url(#c8393_3)">
<ellipse cx="617.87" cy="113.10" rx="7.77" ry="12.54" transform="rotate(30.0 617.87 113.10)" fill="none" stroke="#151515" stroke-width="1.0" />
<ellipse cx="614.67" cy="111.26" rx="7.36" ry="11.87" transform="rotate(30.0 614.67 111.26)" fill="none" stroke="#151515" stroke-width="1.0" />
<ellipse cx="611.47" cy="109.41" rx="6.94" ry="11.20" transform="rotate(30.0 611.47 109.41)" fill="none" stroke="#151515" stroke-width="1.0" />
<ellipse cx="608.28" cy="107.57" rx="6.53" ry="10.53" transform="rotate(30.0 608.28 107.57)" fill="none" stroke="#151515" stroke-width="1.0" />
<ellipse cx="605.08" cy="105.72" rx="6.11" ry="9.86" transform="rotate(30.0 605.08 105.72)" fill="none" stroke="#151515" stroke-width="1.0" />
<line x1="586.42" y1="94.95" x2="621.06" y2="114.95" stroke="#151515" stroke-width="1.0" stroke-linecap="round" />
</g>
<line x1="621.06" y1="114.95" x2="647.48" y2="130.20" stroke="#151515" stroke-width="1.0" stroke-linecap="round" />
<ellipse cx="644.44" cy="128.45" rx="2.40" ry="4.00" transform="rotate(30.0 644.44 128.45)" fill="#151515" stroke="#151515" stroke-width="2.4" />
<path d="M642.44 131.91 L642.91 133.11 L647.71 124.79 L646.44 124.99 Z" stroke="#151515" stroke-width="2.4" fill="#151515" stroke-linejoin="round" stroke-linecap="round" />
<ellipse cx="645.31" cy="128.95" rx="2.88" ry="4.80" transform="rotate(30.0 645.31 128.95)" fill="#151515" stroke="#151515" stroke-width="2.4" />
<path d="M642.91 133.11 L679.72 154.36 L684.52 146.04 L647.71 124.79 Z" stroke="#151515" stroke-width="2.4" fill="#151515" stroke-linejoin="round" stroke-linecap="round" />
<ellipse cx="682.12" cy="150.20" rx="2.88" ry="4.80" transform="rotate(30.0 682.12 150.20)" fill="#151515" stroke="#151515" stroke-width="2.4" />
<ellipse cx="644.44" cy="128.45" rx="2.40" ry="4.00" transform="rotate(30.0 644.44 128.45)" fill="#fff" stroke="none" stroke-width="0" />
<path d="M642.44 131.91 L642.91 133.11 L647.71 124.79 L646.44 124.99 Z" stroke="none" stroke-width="0" fill="#fff" stroke-linejoin="round" stroke-linecap="round" />
<ellipse cx="645.31" cy="128.95" rx="2.88" ry="4.80" transform="rotate(30.0 645.31 128.95)" fill="#fff" stroke="none" stroke-width="0" />
<path d="M642.91 133.11 L679.72 154.36 L684.52 146.04 L647.71 124.79 Z" stroke="none" stroke-width="0" fill="#fff" stroke-linejoin="round" stroke-linecap="round" />
<ellipse cx="682.12" cy="150.20" rx="2.88" ry="4.80" transform="rotate(30.0 682.12 150.20)" fill="#fff" stroke="none" stroke-width="0" />
<path d="M648.35 125.18 L647.47 124.82 L646.40 124.93 L645.26 125.51 L644.17 126.49 L643.25 127.76 L642.60 129.19 L642.30 130.62 L642.37 131.90 L642.81 132.89 L643.57 133.47" stroke="#151515" stroke-width="0.8" fill="none" stroke-linejoin="round" stroke-linecap="round" />
<path d="M650.26 126.28 L649.37 125.92 L648.30 126.03 L647.16 126.61 L646.07 127.59 L645.15 128.86 L644.51 130.29 L644.21 131.72 L644.28 133.00 L644.72 133.99 L645.48 134.57" stroke="#151515" stroke-width="0.8" fill="none" stroke-linejoin="round" stroke-linecap="round" />
<path d="M652.16 127.38 L651.28 127.02 L650.21 127.13 L649.07 127.71 L647.98 128.69 L647.06 129.96 L646.41 131.39 L646.11 132.82 L646.18 134.10 L646.62 135.09 L647.38 135.67" stroke="#151515" stroke-width="0.8" fill="none" stroke-linejoin="round" stroke-linecap="round" />
<path d="M654.07 128.48 L653.18 128.12 L652.11 128.23 L650.97 128.81 L649.88 129.79 L648.97 131.06 L648.32 132.49 L648.02 133.92 L648.09 135.20 L648.53 136.19 L649.29 136.77" stroke="#151515" stroke-width="0.8" fill="none" stroke-linejoin="round" stroke-linecap="round" />
<path d="M655.97 129.58 L655.09 129.22 L654.02 129.33 L652.88 129.91 L651.79 130.89 L650.87 132.16 L650.22 133.59 L649.92 135.02 L649.99 136.30 L650.43 137.29 L651.19 137.87" stroke="#151515" stroke-width="0.8" fill="none" stroke-linejoin="round" stroke-linecap="round" />
<path d="M657.88 130.68 L657.00 130.32 L655.92 130.43 L654.78 131.01 L653.69 131.99 L652.78 133.26 L652.13 134.69 L651.83 136.12 L651.90 137.40 L652.34 138.39 L653.10 138.97" stroke="#151515" stroke-width="0.8" fill="none" stroke-linejoin="round" stroke-linecap="round" />
<path d="M659.78 131.78 L658.90 131.42 L657.83 131.53 L656.69 132.11 L655.60 133.09 L654.68 134.36 L654.04 135.79 L653.73 137.22 L653.80 138.50 L654.24 139.49 L655.00 140.07" stroke="#151515" stroke-width="0.8" fill="none" stroke-linejoin="round" stroke-linecap="round" />
<path d="M661.69 132.88 L660.81 132.52 L659.73 132.63 L658.59 133.21 L657.50 134.19 L656.59 135.46 L655.94 136.89 L655.64 138.32 L655.71 139.60 L656.15 140.59 L656.91 141.17" stroke="#151515" stroke-width="0.8" fill="none" stroke-linejoin="round" stroke-linecap="round" />
<path d="M663.59 133.98 L662.71 133.62 L661.64 133.73 L660.50 134.31 L659.41 135.29 L658.49 136.56 L657.85 137.99 L657.54 139.42 L657.61 140.70 L658.05 141.69 L658.81 142.27" stroke="#151515" stroke-width="0.8" fill="none" stroke-linejoin="round" stroke-linecap="round" />
<path d="M665.50 135.08 L664.62 134.72 L663.55 134.83 L662.40 135.41 L661.31 136.39 L660.40 137.66 L659.75 139.09 L659.45 140.52 L659.52 141.80 L659.96 142.79 L660.72 143.37" stroke="#151515" stroke-width="0.8" fill="none" stroke-linejoin="round" stroke-linecap="round" />
<path d="M667.40 136.18 L666.52 135.82 L665.45 135.93 L664.31 136.51 L663.22 137.49 L662.30 138.76 L661.66 140.19 L661.35 141.62 L661.42 142.90 L661.86 143.89 L662.62 144.47" stroke="#151515" stroke-width="0.8" fill="none" stroke-linejoin="round" stroke-linecap="round" />
<path d="M669.31 137.28 L668.43 136.92 L667.36 137.03 L666.21 137.61 L665.12 138.59 L664.21 139.86 L663.56 141.29 L663.26 142.72 L663.33 144.00 L663.77 144.99 L664.53 145.57" stroke="#151515" stroke-width="0.8" fill="none" stroke-linejoin="round" stroke-linecap="round" />
<path d="M671.21 138.38 L670.33 138.02 L669.26 138.13 L668.12 138.71 L667.03 139.69 L666.11 140.96 L665.47 142.39 L665.16 143.82 L665.24 145.10 L665.67 146.09 L666.43 146.67" stroke="#151515" stroke-width="0.8" fill="none" stroke-linejoin="round" stroke-linecap="round" />
<path d="M673.12 139.48 L672.24 139.12 L671.17 139.23 L670.02 139.81 L668.93 140.79 L668.02 142.06 L667.37 143.49 L667.07 144.92 L667.14 146.20 L667.58 147.19 L668.34 147.77" stroke="#151515" stroke-width="0.8" fill="none" stroke-linejoin="round" stroke-linecap="round" />
<path d="M675.03 140.58 L674.14 140.22 L673.07 140.33 L671.93 140.91 L670.84 141.89 L669.92 143.16 L669.28 144.59 L668.97 146.02 L669.05 147.30 L669.49 148.29 L670.24 148.87" stroke="#151515" stroke-width="0.8" fill="none" stroke-linejoin="round" stroke-linecap="round" />
<path d="M676.93 141.68 L676.05 141.32 L674.98 141.43 L673.83 142.01 L672.75 142.99 L671.83 144.26 L671.18 145.69 L670.88 147.12 L670.95 148.40 L671.39 149.39 L672.15 149.97" stroke="#151515" stroke-width="0.8" fill="none" stroke-linejoin="round" stroke-linecap="round" />
<path d="M678.84 142.78 L677.95 142.42 L676.88 142.53 L675.74 143.11 L674.65 144.09 L673.73 145.36 L673.09 146.79 L672.78 148.22 L672.86 149.50 L673.30 150.49 L674.05 151.07" stroke="#151515" stroke-width="0.8" fill="none" stroke-linejoin="round" stroke-linecap="round" />
<path d="M680.74 143.88 L679.86 143.52 L678.79 143.63 L677.65 144.21 L676.56 145.19 L675.64 146.46 L674.99 147.89 L674.69 149.32 L674.76 150.60 L675.20 151.59 L675.96 152.17" stroke="#151515" stroke-width="0.8" fill="none" stroke-linejoin="round" stroke-linecap="round" />
<path d="M682.65 144.98 L681.76 144.62 L680.69 144.73 L679.55 145.31 L678.46 146.29 L677.54 147.56 L676.90 148.99 L676.60 150.42 L676.67 151.70 L677.11 152.69 L677.86 153.27" stroke="#151515" stroke-width="0.8" fill="none" stroke-linejoin="round" stroke-linecap="round" />
<ellipse cx="681.68" cy="149.95" rx="2.52" ry="4.20" transform="rotate(30.0 681.68 149.95)" fill="#151515" stroke="#151515" stroke-width="2.8" />
<path d="M679.58 153.59 L680.58 154.86 L685.38 146.54 L683.78 146.31 Z" stroke="#151515" stroke-width="2.8" fill="#151515" stroke-linejoin="round" stroke-linecap="round" />
<ellipse cx="682.98" cy="150.70" rx="2.88" ry="4.80" transform="rotate(30.0 682.98 150.70)" fill="#151515" stroke="#151515" stroke-width="2.8" />
<path d="M680.58 154.86 L889.29 275.36 L894.09 267.04 L685.38 146.54 Z" stroke="#151515" stroke-width="2.8" fill="#151515" stroke-linejoin="round" stroke-linecap="round" />
<ellipse cx="891.69" cy="271.20" rx="2.88" ry="4.80" transform="rotate(30.0 891.69 271.20)" fill="#151515" stroke="#151515" stroke-width="2.8" />
<ellipse cx="681.68" cy="149.95" rx="2.52" ry="4.20" transform="rotate(30.0 681.68 149.95)" fill="#fff" stroke="none" stroke-width="0" />
<path d="M679.58 153.59 L680.58 154.86 L685.38 146.54 L683.78 146.31 Z" stroke="none" stroke-width="0" fill="#fff" stroke-linejoin="round" stroke-linecap="round" />
<ellipse cx="682.98" cy="150.70" rx="2.88" ry="4.80" transform="rotate(30.0 682.98 150.70)" fill="#fff" stroke="none" stroke-width="0" />
<path d="M680.58 154.86 L889.29 275.36 L894.09 267.04 L685.38 146.54 Z" stroke="none" stroke-width="0" fill="#fff" stroke-linejoin="round" stroke-linecap="round" />
<ellipse cx="891.69" cy="271.20" rx="2.88" ry="4.80" transform="rotate(30.0 891.69 271.20)" fill="#fff" stroke="none" stroke-width="0" />
<path d="M685.78 146.86 L685.08 146.40 L684.20 146.31 L683.22 146.59 L682.22 147.21 L681.28 148.13 L680.49 149.26 L679.90 150.51 L679.58 151.78 L679.54 152.96 L679.79 153.95 L680.31 154.66 L681.05 155.04" stroke="#151515" stroke-width="1.0" fill="none" stroke-linejoin="round" stroke-linecap="round" />
<path d="M886.25 277.50 C886.77 272.25 884.62 274.73 888.00 270.00 C891.38 265.27 892.55 265.35 897.50 261.75 C902.45 258.15 897.75 258.52 904.50 258.00 C911.25 257.48 910.85 256.18 920.00 260.00 C929.15 263.82 928.55 265.88 935.00 270.75 C941.45 275.62 938.80 271.98 941.50 276.25 C944.20 280.52 943.92 277.50 944.00 285.00 C944.08 292.50 944.30 294.80 941.75 301.25 C939.20 307.70 942.40 304.02 935.50 306.50 C928.60 308.98 925.50 309.20 918.75 309.50 C912.00 309.80 922.00 312.23 913.00 307.50 C904.00 302.77 896.77 299.75 888.75 293.75 C880.73 287.75 887.00 292.38 886.25 287.50 C885.50 282.62 885.73 282.75 886.25 277.50 Z" fill="#fff" stroke="#151515" stroke-width="1.5" stroke-linejoin="round" stroke-linecap="round"/>
<path d="M893.75 269.25 C896.08 271.18 898.67 273.48 903.75 277.50 C908.83 281.52 912.41 281.83 915.50 286.50 C918.59 291.17 916.53 292.25 917.00 297.50 C917.47 302.75 917.38 306.32 917.50 309.00" fill="none" stroke="#151515" stroke-width="1.0" stroke-linejoin="round" stroke-linecap="round"/>
<path d="M915.50 286.50 C918.30 285.27 921.90 284.23 927.50 281.25 C933.10 278.27 936.70 275.50 939.50 273.75" fill="none" stroke="#151515" stroke-width="1.0" stroke-linejoin="round" stroke-linecap="round"/>
<path d="M892.00 276.25 C891.65 278.29 890.50 280.74 890.50 285.00 C890.50 289.26 891.65 292.28 892.00 294.50" fill="none" stroke="#151515" stroke-width="0.9" stroke-linejoin="round" stroke-linecap="round"/>
<path d="M895.00 270.00 C895.83 270.42 898.54 272.50 900.00 272.50 C901.46 272.50 903.12 270.42 903.75 270.00" fill="none" stroke="#151515" stroke-width="0.9" stroke-linejoin="round" stroke-linecap="round"/>
<path d="M904.00 269.50 C901.40 265.17 903.73 264.00 904.00 260.00 C904.27 256.00 903.73 257.30 905.00 254.50 C906.27 251.70 906.08 251.83 908.75 249.50 C911.42 247.17 910.53 247.68 915.00 245.75 C919.47 243.82 920.17 244.45 925.50 242.25 C930.83 240.05 929.13 241.43 935.00 237.50 C940.87 233.57 940.83 233.83 947.50 227.50 C954.17 221.17 953.33 222.08 960.00 213.75 C966.67 205.42 966.50 204.05 972.50 196.25 C978.50 188.45 978.17 188.83 982.50 184.50 C986.83 180.17 985.42 181.33 988.75 180.00 C992.08 178.67 992.47 178.50 995.00 179.50 C997.53 180.50 997.45 179.62 998.25 183.75 C999.05 187.88 999.53 188.00 998.00 195.00 C996.47 202.00 996.63 201.33 992.50 210.00 C988.37 218.67 988.50 218.83 982.50 227.50 C976.50 236.17 976.67 235.50 970.00 242.50 C963.33 249.50 964.83 248.55 957.50 253.75 C950.17 258.95 948.50 258.47 942.50 262.00 C936.50 265.53 937.27 264.20 935.00 267.00 C932.73 269.80 936.67 269.83 934.00 272.50 C931.33 275.17 930.40 276.00 925.00 277.00 C919.60 278.00 919.35 278.25 913.75 276.25 C908.15 274.25 906.60 273.83 904.00 269.50 Z" fill="#fff" stroke="#151515" stroke-width="1.5" stroke-linejoin="round" stroke-linecap="round"/>
<path d="M996.25 183.00 C995.98 186.07 996.92 187.83 995.25 194.50 C993.58 201.17 993.87 200.00 990.00 208.00 C986.13 216.00 986.35 216.17 980.75 224.50 C975.15 232.83 975.33 232.32 969.00 239.25 C962.67 246.18 963.73 245.17 957.00 250.50 C950.27 255.83 949.75 255.38 943.75 259.25 C937.75 263.12 936.97 263.47 934.50 265.00" fill="none" stroke="#151515" stroke-width="0.9" stroke-linejoin="round" stroke-linecap="round"/>
<path d="M905.00 258.00 C907.00 259.33 907.50 261.27 912.50 263.00 C917.50 264.73 917.88 263.97 923.75 264.50 C929.62 265.03 931.63 264.87 934.50 265.00" fill="none" stroke="#151515" stroke-width="0.9" stroke-linejoin="round" stroke-linecap="round"/>
<ellipse cx="916.5" cy="253.6" rx="6.6" ry="3.9" transform="rotate(-24 916.5 253.6)" fill="#fff" stroke="#151515" stroke-width="1.3"/>
<ellipse cx="915.6" cy="254.5" rx="4.4" ry="2.4" transform="rotate(-24 915.6 254.5)" fill="#fff" stroke="#151515" stroke-width="1.0"/>
<path d="M920.75 249.50 C921.54 249.67 924.38 250.75 925.50 250.50 C926.62 250.25 927.17 248.42 927.50 248.00" fill="none" stroke="#151515" stroke-width="0.9" stroke-linejoin="round" stroke-linecap="round"/>
<text transform="translate(960.5 237.2) rotate(139)" font-size="5.6" font-weight="normal" textLength="24" lengthAdjust="spacingAndGlyphs" fill="#151515">CLOSE</text>
<text transform="translate(980.5 206.5) rotate(128) skewX(-18)" font-size="13.5" font-weight="bold" font-style="italic" textLength="28" lengthAdjust="spacingAndGlyphs" fill="#151515" stroke="#151515" stroke-width="0.5">XT</text>
<ellipse cx="990.3" cy="197.8" rx="4.6" ry="2.6" transform="rotate(-55 990.3 197.8)" fill="none" stroke="#151515" stroke-width="1.0"/>
<line x1="988.30" y1="196.20" x2="992.30" y2="199.40" stroke="#151515" stroke-width="0.8" stroke-linecap="round" />
<path d="M135.00 0.00 L135.00 1.50 L847.60 411.60 L847.60 436.00" stroke="#151515" stroke-width="1.8" fill="none" />
<line x1="847.60" y1="459.00" x2="847.60" y2="500.00" stroke="#151515" stroke-width="1.8" />
<line x1="135.00" y1="0.00" x2="135.00" y2="9.00" stroke="#151515" stroke-width="1.8" />
<line x1="135.00" y1="31.00" x2="135.00" y2="49.50" stroke="#151515" stroke-width="1.8" />
<path d="M110.00 67.00 L110.00 36.50 L157.00 63.50 L157.00 89.00" stroke="#151515" stroke-width="1.8" fill="none" />
<line x1="249.00" y1="67.00" x2="249.00" y2="90.00" stroke="#151515" stroke-width="1.8" />
<line x1="249.00" y1="113.00" x2="249.00" y2="143.00" stroke="#151515" stroke-width="1.8" />
<line x1="490.60" y1="188.00" x2="490.60" y2="205.00" stroke="#151515" stroke-width="1.8" />
<line x1="721.20" y1="339.50" x2="721.20" y2="363.00" stroke="#151515" stroke-width="1.8" />
<line x1="721.20" y1="386.00" x2="721.20" y2="414.00" stroke="#151515" stroke-width="1.8" />
<line x1="37.00" y1="103.00" x2="37.00" y2="129.00" stroke="#151515" stroke-width="1.8" />
<line x1="191.00" y1="181.00" x2="191.00" y2="206.00" stroke="#151515" stroke-width="1.8" />
<line x1="450.00" y1="335.00" x2="450.00" y2="358.00" stroke="#151515" stroke-width="1.8" />
<path d="M450.00 382.00 L450.00 399.50 L632.00 504.40 L632.00 486.50" stroke="#151515" stroke-width="1.8" fill="none" />
<line x1="525.60" y1="385.00" x2="525.60" y2="401.50" stroke="#151515" stroke-width="1.8" />
<line x1="525.60" y1="424.50" x2="525.60" y2="442.50" stroke="#151515" stroke-width="1.8" />
<line x1="541.00" y1="451.60" x2="541.00" y2="468.50" stroke="#151515" stroke-width="1.8" />
<line x1="632.00" y1="424.40" x2="632.00" y2="463.50" stroke="#151515" stroke-width="1.8" />
<path d="M525.60 33.60 L525.60 2.00 L777.60 146.00 L777.60 194.00" stroke="#151515" stroke-width="1.8" fill="none" />
<line x1="575.60" y1="30.50" x2="575.60" y2="69.00" stroke="#151515" stroke-width="1.8" />
<line x1="617.20" y1="54.30" x2="617.20" y2="95.00" stroke="#151515" stroke-width="1.8" />
<line x1="651.00" y1="57.50" x2="651.00" y2="73.50" stroke="#151515" stroke-width="1.8" />
<path d="M671.5 494 L698.4 494 L706.4 472 L714.9 494 L741.6 494 L741.6 519.7 L671.5 519.7 Z" fill="#fff" stroke="#151515" stroke-width="1.5"/>
<text x="677.6" y="512.3" font-size="17" font-weight="bold" fill="#151515" textLength="58.5" lengthAdjust="spacingAndGlyphs">13 pcs.</text>
<circle cx="135" cy="19.4" r="11.2" fill="#fff" stroke="#151515" stroke-width="1.6"/>
<text x="135" y="26.799999999999997" transform="rotate(0.03 135 19.4)" font-size="21" font-weight="bold" text-anchor="middle" textLength="9.4" lengthAdjust="spacingAndGlyphs" fill="#151515">6</text>
<circle cx="249" cy="101.4" r="11.2" fill="#fff" stroke="#151515" stroke-width="1.6"/>
<text x="249" y="108.80000000000001" transform="rotate(0.03 249 101.4)" font-size="21" font-weight="bold" text-anchor="middle" textLength="9.4" lengthAdjust="spacingAndGlyphs" fill="#151515">5</text>
<circle cx="490.6" cy="176.6" r="11.2" fill="#fff" stroke="#151515" stroke-width="1.6"/>
<text x="490.6" y="184.0" transform="rotate(0.03 490.6 176.6)" font-size="21" font-weight="bold" text-anchor="middle" textLength="9.4" lengthAdjust="spacingAndGlyphs" fill="#151515">2</text>
<circle cx="721.2" cy="374.6" r="11.2" fill="#fff" stroke="#151515" stroke-width="1.6"/>
<text x="721.2" y="382.0" transform="rotate(0.03 721.2 374.6)" font-size="21" font-weight="bold" text-anchor="middle" textLength="9.4" lengthAdjust="spacingAndGlyphs" fill="#151515">4</text>
<circle cx="848" cy="447.6" r="11.2" fill="#fff" stroke="#151515" stroke-width="1.6"/>
<text x="848" y="455.0" transform="rotate(0.03 848 447.6)" font-size="21" font-weight="bold" text-anchor="middle" textLength="9.4" lengthAdjust="spacingAndGlyphs" fill="#151515">3</text>
<circle cx="37" cy="140.7" r="11.2" fill="#fff" stroke="#151515" stroke-width="1.6"/>
<text x="37" y="148.1" transform="rotate(0.03 37 140.7)" font-size="21" font-weight="bold" text-anchor="middle" textLength="16.2" lengthAdjust="spacingAndGlyphs" fill="#151515">12</text>
<circle cx="191" cy="218" r="11.2" fill="#fff" stroke="#151515" stroke-width="1.6"/>
<text x="191" y="225.4" transform="rotate(0.03 191 218)" font-size="21" font-weight="bold" text-anchor="middle" textLength="16.2" lengthAdjust="spacingAndGlyphs" fill="#151515">11</text>
<circle cx="450" cy="370" r="11.2" fill="#fff" stroke="#151515" stroke-width="1.6"/>
<text x="450" y="377.4" transform="rotate(0.03 450 370)" font-size="21" font-weight="bold" text-anchor="middle" textLength="16.2" lengthAdjust="spacingAndGlyphs" fill="#151515">10</text>
<circle cx="525.6" cy="413" r="11.2" fill="#fff" stroke="#151515" stroke-width="1.6"/>
<text x="525.6" y="420.4" transform="rotate(0.03 525.6 413)" font-size="21" font-weight="bold" text-anchor="middle" textLength="9.4" lengthAdjust="spacingAndGlyphs" fill="#151515">9</text>
<circle cx="541" cy="480" r="11.2" fill="#fff" stroke="#151515" stroke-width="1.6"/>
<text x="541" y="487.4" transform="rotate(0.03 541 480)" font-size="21" font-weight="bold" text-anchor="middle" textLength="9.4" lengthAdjust="spacingAndGlyphs" fill="#151515">7</text>
<circle cx="632" cy="475" r="11.2" fill="#fff" stroke="#151515" stroke-width="1.6"/>
<text x="632" y="482.4" transform="rotate(0.03 632 475)" font-size="21" font-weight="bold" text-anchor="middle" textLength="9.4" lengthAdjust="spacingAndGlyphs" fill="#151515">8</text>
<circle cx="651" cy="46" r="11.2" fill="#fff" stroke="#151515" stroke-width="1.6"/>
<text x="651" y="53.4" transform="rotate(0.03 651 46)" font-size="21" font-weight="bold" text-anchor="middle" textLength="9.4" lengthAdjust="spacingAndGlyphs" fill="#151515">1</text>
</svg></body></html>
